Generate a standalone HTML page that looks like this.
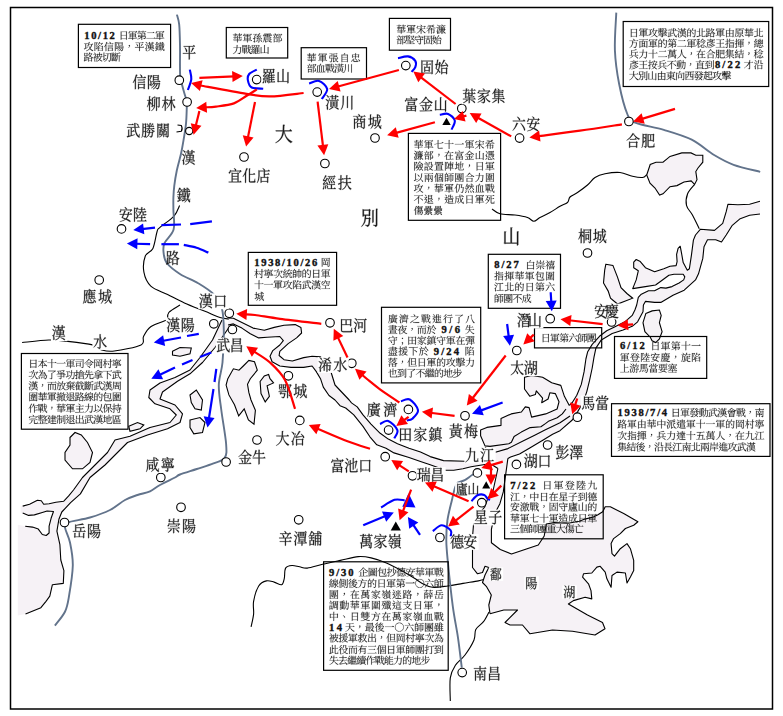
<!DOCTYPE html>
<html><head><meta charset="utf-8"><style>html,body{margin:0;padding:0;background:#fff;width:783px;height:716px;overflow:hidden}svg{display:block}</style></head>
<body><svg width="783" height="716" viewBox="0 0 783 716"><defs><path id="g0" d="M110 6l-2 2 12 14 8 18 6 2 4-4 2-6-4-9-9-9zM165 88l-8 11-81 0 2 6 98 0 5-3zM165 61l-8 11-81 0 2 6 98 0 5-3zM177 32l-10 12-105 0 2 6 125 0 5-3zM54 64l-8-3 19-42 7-4-21-7-20 57-25 46 3 2 5-5 21-27 0 111 13-5 0-119zM92 187l0-11 69 0 0 13 11-2 2-2 0-51 8-4-16-12-7 8-65 0-14-7 0 73zM161 132l0 38-69 0 0-38z"/><path id="g1" d="M99 50l56 0 0 20-56 0zM99 44l0-19 56 0 0 19zM87 19l0 67 11-2 1-8 56 0 0 7 13-3 0-54 7-4-14-10-6 7-54 0-14-6zM66 94l1 6 31 0-17 27-24 23 2 3 21-14 18-16 15 0-21 29-28 24 2 3 35-24 26-32 16 0-22 37-21 20-13 9 2 3 16-8 26-21 10-12 16-28 14 0-4 25-7 23-6 5-26-1 0 3 14 5 3 9 16-4 8-7 10-27 4-30 8-3-14-12-8 8-67 0 11-17 78-1 2-2-11-10-6-4-9 11zM16 21l0 171 2 0 11-5 0-160 27 0-17 47 12 22 2 26-6 8-14 0 0 3 8 3 2 9 8-1 11-6 3-5 2-15-5-22-18-22 26-44 9-2-16-15-8 8-24 0-15-7z"/><path id="g2" d="M128 41l-19-2 0 80-21 7 0-92 42-13-15-10-29 18-10-5 0 100-7 8 8 14 4-6 27-16-6 25-5 11-19 20-13 9 2 3 19-11 14-12 10-14 6-15 5-34 0-60zM60 44l-8 12-5 0 0-41 4-1 3-4-19-2 0 48-28 0 1 5 24 0-10 43-16 38 3 3 10-15 16-32 0 93 7 0 5-5 0-103 13 27 6 2 3-3 2-5-3-8-7-9-14-9 0-17 23 0 5-3zM136 20l0 172 2 0 10-5 0-155 24 0 0 99-3 4-15-1 0 3 11 4 3 9 12-4 4-8 0-104 9-4-16-12-7 8-20 0z"/><path id="g3" d="M132 9l0 46-39 0 2 5 31 0-21 54-22 31-12 13 2 3 13-11 22-23 24-42 0 106 2 0 10-5 0-120 16 52 16 30 10 11 3-8 8-8-11-10-19-26-14-30-5-17 40 0 5-3-16-14-10 12-23 0 0-38 8-6zM45 9l0 46-36 0 1 6 33 0-14 49-23 43 3 2 14-17 22-40 0 93 3 0 10-5 0-105 12 15 8 16 6 3 5-3 1-7-4-9-10-10-18-9 0-16 30 0 6-4-17-14-9 12-10 0 0-39 8-5z"/><path id="g4" d="M28 28l2 6 71 0 6-3-17-14-9 11zM142 16l-1 2 14 11 10 14 6 1 4-4 0-6-4-7-11-6zM115 9l2 50-108 0 2 6 107 0 8 47 15 40 11 16 13 13 15 9 8 1 4-4-5-12 3-30-3 0-10 25-16-14-17-31-6-18-7-42 55 0 5-3-18-15-9 12-33 0-1-42 7-6zM8 174l10 16 4-4 101-30-1-3-45 9 0-46 37 0 5-4-16-14-8 12-18 0 0-32 7-5-19-2 0 93-24 5 0-71 7-4-19-2 0 79z"/><path id="g5" d="M87 15l-3 1 13 30 5 3 4-2 2-6-2-7-7-10zM170 41l-8 10-17 0 24-26 7-3-19-8-17 37-12 0 7-35 8-4-21-3-6 42-39 0 2 6 35 0-8 22-32 0 2 6 27 0-15 21-19 17 2 3 25-18 17-23 28 0 17 23 25 15 10-13-26-9-21-16 43-1 1-2-16-14-9 11-48 0 9-22 58-1 2-2zM134 99l-21-2 0 26-29 0 2 6 26 0-7 23-6 11-18 18-13 8 2 3 16-8 23-19 7-11 9-25 29 0-2 23-6 22-6 2-20-1 0 3 14 4 2 9 14-3 7-6 5-14 4-38 8-3-15-12-7 8-27 0 2-19zM21 18l-2 122-6 34-6 16 3 2 13-23 7-26 3-26 24 0-1 55-4 2-20-2 0 4 14 5 4 9 7-1 9-5 3-8 0-149 8-3-16-12-6 8-19 0-15-7zM57 111l-24 0 0-41 24 0zM57 64l-24 0 0-38 24 0z"/><path id="g6" d="M123 71l0-3 42 0 0 104-5 2-28-2 0 3 19 5 5 10 14-4 7-6 1-9 0-142 9-4-17-12-7 8-39 0-13-6 0 60 8-2-11 14-11 8 5 12 3-3 18-4-16 14-8 4 5 11 3-3 38-8 3 9 4 2 3-1 0-10-15-14-3 1 6 9-30 3 33-26 8-2-13-9-13 15-19 1 19-16 7-2zM67 131l-17-2 0 21-7 4 14 10 5-7 19 0-11 15-26 12 2 3 29-11 14-13 3-8 1-20 6-5-17-2 0 23-21 0 0-15zM32 187l0-119 37 0-13 19-12 8 5 12 4-4 15-2-16 13-8 4 5 11 39-10 2 7 4 2 5-6-7-12-10-7-2 2 6 10-29 3 37-29 7-1-13-10-14 17-18 1 20-17 6-1 1-1-3-2 8-4 0-43 8-3-15-12-7 8-41 0-13-7 0 177 7 0zM124 130l-19-2 0 58 11-4 0-26 23 0 0 11 11-4 0-25 7-6-18-2 0 20-23 0 0-14zM70 68l6 0 0 4zM165 62l-42 0 0-15 42 0zM165 41l-42 0 0-14 42 0zM76 62l-44 0 0-15 44 0zM76 41l-44 0 0-14 44 0z"/><path id="g7" d="M39 42l-3 1 13 25 8 27 7 3 4-3 2-9-3-13-10-15zM150 42l-26 56 3 2 19-21 17-26 7-3zM19 24l2 5 72 0 0 82-85 0 2 6 83 0 0 75 8-1 6-4 0-70 79 0 6-3-19-15-11 12-55 0 0-82 74 0 2-3-19-15-10 13z"/><path id="g8" d="M126 160l-1 3 30 13 25 17 6-1 2-5-3-7-11-8-19-7zM19 135l-9 0 0 5 10 2 3 7 1 38 5 5 8-4 3-10-5-30 1-13 28-88-3-1-36 82-3 7zM9 56l-2 2 15 12 6 10 6 2 5-3 0-6-3-7-10-6zM21 11l-2 2 13 11 9 14 7 1 4-3 1-6-5-7-10-7zM175 20l-9 10-10 0 0-15 7-5-20-2 0 22-42 0 0-15 7-5-20-2 0 22-30 0 2 6 28 0 0 32 11-2 2-8 14 0 0 16-32 0-14-6 0 46 11-2 2-6 33 0-1 15-48 0 2 6 45 0-4 16-54 0 1 6 50 0-11 16-8 7-35 17 3 4 16-5 26-13 9-8 13-18 69 0 5-3-17-14-10 11-45 0 5-16 49 0 6-4-15-12 8-4 0-25 8-4-16-11-7 7-31 0 0-16 15 0 0 10 7-1 6-4 0-27 33 0 2-3zM143 52l-42 0 0-16 42 0zM115 100l-33 0 0-20 33 0zM128 100l0-20 33 0 0 20zM128 106l33 0 1 6-7 9-29 0z"/><path id="g9" d="M75 112l-17-5-6 42 3 1 3-5 10-29zM14 110l-3 1 6 19 2 20 5 2 4-2 2-6-1-10-5-11zM124 130l-7 8-6 0 0-18 25-3-13-12-49 17 1 4 24-3 0 15-24 0 2 6 22 0 0 17-28 4 8 15 4-4 55-18 0-3-27 4 0-15 22 0 5-3zM91 95l0-18 29 0 0 18zM91 106l0-5 29 0 0 4 10-2 1-25 7-3-13-10-6 6-27 0-13-5 0 43zM119 12l-19-2 0 22-24 0 1 6 23 0 0 16-30 0 2 6 70 0 3 45 7 38-18 25-24 21 2 3 17-11 26-27 14 26 9 8 9 2 4-4-4-11 3-30-2 0-7 21-3 4-8-12-7-17 13-28 8-29 8-3-20-5-12 50-6-66 33 0 6-3-17-14-8 11-14 0 0-37 7-6-20-2 1 45-30 0 0-16 22 0 5-3-14-13-8 10-5 0 0-15zM161 18l-3 2 12 21 6 2 3-2 1-8-3-5zM48 16l7-3-20-5-11 32-18 31 2 2 12-12 1 2 14 0 0 30-25 0 1 6 24 0 0 65-26 7 6 16 4-5 58-26-1-3-29 8 0-62 22 0 5-3-15-13-7 10-5 0 0-30 17 0 5-3-14-12-8 9-24 0 24-37 14 27 5 3 4-2 3-4-2-7-8-10z"/><path id="g10" d="M116 8l-15 40-22 30 3 2 5-4 23-24 17 28-26 25-32 19 2 3 24-11 0 76 11-3 1-11 50 0 0 13 7-1 6-3 0-60 7-4-14-11-7 8-46 0-12-5 35-27 22 19 28 14 4-7 7-3 0-3-30-11-24-16 16-20 11-22 9-2-14-14-9 9-31 0 6-14 8-3zM107 172l0-46 50 0 0 46zM153 37l-21 37-19-27 6-10zM64 28l0 42-34 0 0-42zM18 22l0 64 11-3 1-7 13 0 0 86-13 3 0-61 6-5-18-1 0 70-12 3 6 17 5-5 70-29 0-3-32 8 0-46 26 0 5-3-15-14-9 11-7 0 0-31 9 0 0 7 12-3 0-50 9-4-16-11-7 7-30 0-14-6z"/><path id="g11" d="M130 60l-3 1 9 23 5 3 4-2 3-4-2-7-5-7zM33 151l-4-1-4 17-13 15-1 3 3 6 8-1 8-10 4-13zM66 144l-3 1 8 16 4 17 5 2 4-2 2-6-2-8-6-10zM49 148l-3 1 2 17-1 19 4 3 5-2 3-6 1-8-3-12zM69 112l-3 1 7 17-43 4 29-22 23-21 8-2-16-12-14 19-31 1 32-29 7-3-18-8-18 27-16 13 6 13 3-2 30-6-23 22-16 10 6 15 4-3 48-11 2 10 5 2 4-2 2-5-1-8-6-10zM171 79l-8 9-53 0-2-1 9-17 7-3-18-7-13 31-16 25 3 2 15-15 0 89 11-3 2-10 80-1 2-2-15-14-8 11-21 0 0-23 31 0 5-3-14-12-7 9-15 0 0-22 31 0 5-4-14-11-7 9-15 0 0-22 34 0 5-3zM108 116l0-22 26 0 0 22zM108 122l26 0 0 22-26 0zM108 150l26 0 0 23-26 0zM38 61l0-5 123 0 0 7 7 0 6-4 0-34 9-4-16-12-8 7-119 0-14-6 0 55zM117 22l0 28-34 0 0-28zM129 22l32 0 0 28-32 0zM71 22l0 28-33 0 0-28z"/><path id="g12" d="M113 15l-21-2 0 153-56 0 0-104 8-6-21-2 0 111-7 4 16 10 6-7 125 0 0 20 8-1 6-4 0-126 7-6-21-2 0 113-57 0 0-145z"/><path id="g13" d="M19 136l-9 0 0 5 10 2 3 7 1 38 5 4 8-3 3-18-5-22 1-13 29-90-4-1-37 87zM9 59l-2 2 12 11 8 13 6 1 5-3 0-6-3-7-10-6zM17 11l-2 1 14 12 9 15 7 1 4-4 1-6-5-8-10-7zM134 159l-2 2 27 14 23 15 7-1 2-5-3-7-10-7-18-7zM119 166l-19-11-20 18-28 16 1 2 22-6 34-18zM178 59l-9 11-109 0 2 6 127 0 5-3zM117 97l0 19-30 0 0-19zM129 97l31 0 0 19-31 0zM117 143l-30 0 0-21 30 0zM129 143l0-21 31 0 0 21zM142 50l-36 0 0-16 36 0zM174 17l-9 11-11 0 0-12 8-6-20-2 0 20-36 0 0-12 7-6-20-2 0 20-29 0 1 6 28 0 0 30 11-2 2-6 36 0 0 8 2 0 10-4 0-26 31 0 5-3zM75 85l0 74 11-2 1-8 73 0 0 8 13-4 0-55 7-4-14-11-6 8-70 0z"/><path id="g14" d="M36 18l-2 107-8 34-18 30 3 3 14-14 10-16 11-36 3-39 0-61 7-6zM96 25l0 146 2 0 10-4 0-134 8-6zM159 18l0 174 2 0 11-6 0-161 7-5z"/><path id="g15" d="M85 7l-2 1 15 22 6 2 5-2 1-6-2-6-8-6zM63 38l-3 2 16 27-36 0-15-7 0 132 8-1 5-4 0-114 38 0-3 16-3 8-17 14-14 6 3 3 17-6 21-14 5-8 4-19 25 0 0 26 2 9 11 2 35-2 3-7-6-2-33 0-1-26 41 0-1 101-4 1-25-1 0 3 17 5 5 10 13-4 7-10 1-103 8-4-16-12-7 8-40 0 16-20 8-4-20-5 57 0 6-3-19-15-10 12-149 0 1 6 113 0-11 29-32 0 3-8-2-5-11-11zM124 158l-44 0 0-32 44 0zM80 175l0-12 44 0 0 13 12-4 0-45 7-3-14-11-7 7-41 0-13-6 0 65z"/><path id="g16" d="M172 70l-18 52-6-33-3-36 42 0 6-3-17-14-9 12-22 0 0-29 5-2-1 1 12 11 5 9 6 1 4-3 1-5-3-6-9-5-15-4 2-3-21-3 1 38-44 0-15-7 0 71-6 33-15 30-12 14 2 2 17-13 12-16 8-16 4-18 3-37 24 0-3 49-3 4-20-1 0 4 13 4 3 7 14-4 6-19 2-43 7-3-14-11-7 7-22 0 0-32 46 0 5 45 9 39-22 28-30 22 2 4 22-12 17-14 16-16 11 21 11 14 11 6 8-1 1-4-4-10 3-31-2 0-8 22-3 3-12-16-8-16 14-26 10-31 8-3zM7 142l9 17 4-6 51-30-1-3-25 9 0-58 22 0 5-3-15-14-8 11-4 0 0-45 7-5-20-2 0 52-24 0 2 6 22 0 0 63z"/><path id="g17" d="M91 9l-2 58-79 0 2 6 77 0-11 43-10 20-14 18-20 18-26 16 2 4 30-16 23-18 17-19 11-21 8-22 4-23 10 42 10 21 14 20 18 19 25 17 5-8 9-3 0-3-26-14-21-16-16-18-12-19-13-38 80 0 6-3-20-16-11 13-58 0 2-50 8-6z"/><path id="g18" d="M129 26l0 125 2 0 10-5 0-113 8-5zM169 12l-1 161-4 2-26-2 0 3 18 5 4 10 14-3 4-3 4-8 0-157 7-6zM34 28l56 0 0 44-56 0zM21 22l0 67 11-2 2-9 12 0-1 20-6 38-7 18-11 18-15 17 3 2 14-11 20-25 6-14 7-30 35 0-4 43-6 19-7 2-24-2 0 4 16 5 3 9 11-2 9-5 7-12 5-24 3-35 7-3-14-13-8 8-32 0 1-27 32 0 0 8 13-4 0-52 8-4-16-12-7 8-52 0-15-6z"/><path id="g19" d="M87 8l-2 2 12 14 4 12 6 2 5-3 2-6-2-7-9-8zM34 29l-4 1-4 17-16 18 0 4 7 5 8-3 7-7 5-18 131 0-8 21 2 1 22-20 8-2-16-15-9 9-131 0zM174 165l-10 13-15 0 0-102 9-3-18-13-7 9-66 0-15-7 0 116-43 0 1 6 177 0 5-3zM64 178l0-31 72 0 0 31zM64 141l0-31 72 0 0 31zM64 105l0-30 72 0 0 30z"/><path id="g20" d="M61 65l-9-3 21-43 8-3-22-8-23 59-29 47 3 2 5-5 26-31 0 111 8-1 5-3 0-118zM116 15l-20-3 0 156 2 11 7 5 14 2 54-1 14-3 3-5-6-6-1-33-2 0-10 34-50 1-6 0-6-4 0-83 71 0 5-3-17-15-10 12-49 0 0-60z"/><path id="g21" d="M89 8l-2 1 12 13 9 15 6 2 5-3 1-6-4-8-10-8zM174 27l-9 13-120 0-15-7 0 73-4 35-10 34-9 15 3 2 13-15 9-18 6-18 5-36 0-59 144 0 5-4zM60 114l0 77 12-4 0-12 82 0 0 15 8-1 5-3 0-59 8-4-15-11-6 8-35 0 0-34 61 0 6-4-18-15-10 13-39 0 0-24 8-6-21-2 0 72-32 0zM72 169l0-43 82 0 0 43z"/><path id="g22" d="M182 42l-17-6-22 35 16 18 8 17 6 2 4-3 2-6-4-8-9-10-17-11 27-26zM149 41l-17-6-21 36 15 19 7 18 6 1 4-2 2-6-3-9-9-10-16-11 26-28zM118 40l-18-6-20 38 14 19 7 19 6 2 4-3 2-6-3-9-8-11-17-12 27-29zM172 10l-9 12-84 0 2 6 103 0 5-3zM26 136l-4 0-3 21-10 20-1 4 4 5 10-5 5-10 1-16zM61 129l-3 1 9 16 4 19 6 2 4-3 1-6-2-9-6-10zM43 133l-3 1 3 20-2 21 5 3 5-2 3-7 1-10-3-12zM60 88l-3 1 9 21-43 3 29-29 22-30 8-1-17-13-15 27-28 0 18-23 16-23 7-3-19-9-18 39-11 16-5 2 7 17 4-4 25-5-25 32-11 7 7 17 4-4 46-12 2 13 5 3 4-3 2-6-1-10-7-11zM177 162l-9 12-30 0 0-47 44-1 2-2-16-13-8 10-74 0 2 6 36 0 0 47-51 0 2 6 114 0 6-3z"/><path id="g23" d="M122 9l0 41-38 0 2 6 36 0-1 42-47 0 1 6 46 0-8 34-9 14-11 14-16 12-20 10 2 3 23-9 18-12 14-14 9-15 11-34 7 31 15 29 11 13 15 11 4-9 9-3 0-2-31-21-10-12-8-13-9-27 50 0 6-3-18-15-9 12-31 0 0-42 47 0 6-3-18-15-9 12-26 0 0-33 7-6zM5 113l8 17 4-5 22-12-1 61-25 0 0 3 15 5 4 9 13-3 5-6 2-76 30-18-1-3-29 12 0-37 28 0 5-3-15-14-9 11-9 0 0-38 7-5-20-3 0 46-31 0 2 6 29 0 0 42z"/><path id="g24" d="M93 34l0 29-48 0 2 6 46 0 0 30-19 0-13-6 0 67 12-4 0-9 52 0 0 11 13-4 0-48 7-3-15-11-6 7-19 0 0-30 47 0 6-3-17-14-8 11-28 0 0-21 8-6zM125 141l-52 0 0-36 52 0zM20 21l0 170 12-3 1-10 133 0 0 11 11-3 2-2 0-155 9-4-16-12-8 8-129 0-15-7zM166 172l-133 0 0-145 133 0z"/><path id="g25" d="M148 43l-2 2 23 30-74 4 26-29 21-30 7-3-21-8-25 48-16 20-5 2 8 17 4-4 78-13 5 15 7 2 4-4 1-9-6-13-13-13zM6 62l6 16 5-4 7-1-11 44 32 26-16 26-22 22 2 2 25-19 18-24 16 20 5 2 4-2 2-5-2-7-19-20 12-36 6-39 14-4-1-3-13 1 1-11 7-5-21-4 0 21-24 2 8-44 8-5-20-4-9 54zM106 168l0-51 57 0 0 51zM94 104l0 87 12-4 0-13 57 0 0 15 13-4 0-67 8-4-15-11-6 8-55 0zM62 66l-4 34-8 32-26-14 12-47z"/><path id="g26" d="M73 159l9-2-17-11-22 22-31 18 1 3 24-8zM121 149l-1 2 29 16 25 20 6-1 3-5-3-7-11-10-19-8zM173 56l-9 11-18 0 0-10 7-6-20-2 0 18-34 0 0-11 8-6-20-2 0 19-31 0 0-11 8-5-20-3 0 19-33 0 2 6 31 0 0 37-8 5 16 9 6-7 113 0 5-3-16-14-9 11-95 0 0-38 31 0 0 32 11-3 1-8 34 0 0 8 3 0 10-4 0-25 41-1 2-3zM177 16l-8 11-24 0 0-12 6-5-19-2 0 19-27 0 1 6 26 0 0 14 2 0 11-4 0-10 45-1 2-2zM84 16l-8 11-11 0 0-12 7-5-20-2 0 19-44 0 1 6 43 0 0 14 3 0 10-4 0-10 32-1 2-2zM174 124l-10 12-58 0 0-10 7-5-20-2 0 17-84 0 1 6 83 0 0 49 2 0 11-4 0-45 84-1 2-2zM99 89l0-16 34 0 0 16z"/><path id="g27" d="M86 8l-2 1 12 13 4 10 6 1 5-3 1-5-3-7-8-6zM33 25l-4 0-1 12-5 10-13 13 0 4 6 3 8-2 7-7 4-18 133 0-6 20 3 2 18-19 8-2-16-15-8 9-132 0zM149 52l-9 11-103 0 2 6 46 0-30 22-36 18 1 4 31-11 29-14 7 9-32 26-39 21 1 3 42-17 35-21 5 11-24 24-30 20-33 15 1 4 49-19 41-27 0 23-6 15-5 2-28-2 1 3 16 5 5 9 19-5 8-9 4-21-3-26-5-14 11-4 14 28 20 22 26 16 5-8 7-3 0-2-28-12-12-9-20-21-8-12 44-21 8-1-16-12-24 18-29 18-10-15-14-14 22-16 59-1 1-2z"/><path id="g28" d="M73 157l9-3-17-11-23 21-31 19 1 3 24-8zM122 146l-2 3 31 16 26 20 6-1 3-5-4-7-11-9-20-9zM172 120l-10 12-56 0 0-9 8-5-21-2 0 16-81 0 2 6 79 0 0 54 3 0 10-4 0-50 82-1 2-2zM159 23l-9 12-39 0 3-7-1-5-12-11-11-5-2 2 16 26-48 0 9-16 8-4-19-8-19 38-22 30 3 2 25-24 0 70 12-2 1-9 124-1 1-2-17-14-9 11-41 0 0-18 52 0 6-3-16-14-9 11-33 0 0-18 56-1 2-2-16-13-8 10-34 0 0-17 63-1 1-2zM54 82l0-18 45 0 0 18zM54 88l45 0 0 18-45 0zM54 58l0-17 45 0 0 17z"/><path id="g29" d="M86 5l-2 2 11 12 5 10 6 1 4-2 2-6-3-7-8-6zM144 42l-9 10-94 0 2 6 112 0 5-3zM33 22l-4 1-1 12-5 9-13 13 0 4 6 4 8-3 7-6 4-18 133 0-6 21 3 2 18-21 8-2-16-15-8 9-132 0zM46 187l0-7 107 0 0 11 11-3 2-1 0-57 9-4-16-13-8 8-104 0-14-6 0 76zM93 127l0 20-47 0 0-20zM106 127l47 0 0 20-47 0zM93 174l-47 0 0-21 47 0zM106 174l0-21 47 0 0 21zM63 111l0-6 74 0 0 8 6 0 7-4 0-28 7-4-15-11-7 7-71 0-14-6 0 48zM137 79l0 20-74 0 0-20z"/><path id="g30" d="M46 127l-3 1 11 20 5 21 6 2 5-2 2-8-2-10-9-12zM141 126l-21 46 3 1 30-36 8-3zM104 19l8 14 24 26 14 11 31 20 5-7 7-4 1-3-34-16-30-20-23-24 8-3-23-6-8 15-27 32-34 29-17 11 1 2 19-9 36-25 30-29zM11 180l2 6 174-1 2-3-19-15-10 13-54 0 0-61 70 0 5-3-18-15-10 12-47 0 0-32 37 0 5-3-17-13-9 10-73 0 2 6 41 0 0 32-71 0 1 6 70 0 0 61z"/><path id="g31" d="M125 89l-3 1 22 29 20 32 13 31 7 2 4-7-2-14-10-20-19-25zM89 95l-22-8-25 53-33 45 2 2 28-26 24-32 18-32zM75 10l-2 1 23 27 7 15 7 2 5-4 1-9-6-10-13-12zM170 46l-11 15-148 0 2 6 172 0 6-3z"/><path id="g32" d="M85 7l-2 2 11 12 7 15 7 3 5-3 1-6-3-8-9-8zM171 82l-9 12-19 0 2-15 8-4-22-5-3 24-50 0 14-30 8-3-21-8-16 41-51 0 1 6 47 0-20 41 50 17-32 17-44 13 1 3 50-12 36-17 53 28 8 2 5-3 0-5-7-9-18-10-30-12 19-24 10-29 47-1 1-2zM99 150l-44-11 20-39 51 0-9 27zM30 30l-4 0 0 12-4 11-12 14 1 4 6 3 8-3 5-7 3-18 133 0-6 22 2 2 20-21 8-2-16-16-9 9-133 0z"/><path id="g33" d="M53 80l1 6 89 0 6-3-18-14-9 11zM104 19l8 14 24 27 14 11 31 20 5-7 7-4 1-3-34-16-30-21-23-24 8-3-23-6-8 15-26 33-34 29-17 11 1 3 19-10 36-25 30-29zM144 123l0 48-88 0 0-48zM43 117l0 74 13-4 0-10 88 0 0 13 13-4 0-60 9-4-17-13-7 8-85 0-14-6z"/><path id="g34" d="M63 77l0 20-29 15 1-50 24 14zM63 65l-13-6-15-2 0-30 28 0zM22 19l-2 119-7 35-6 16 4 2 12-22 7-25 4-26 5 9 3-5 21-19 0 69-4 1-21-1 0 3 15 5 4 9 7-1 9-5 3-7 0-148 8-3-16-12-6 8-25 0-15-7zM105 97l0-68 26 0 0 68zM92 17l0 151 3 10 7 5 15 2 59-1 14-3 4-5-6-6-1-33-3 0-9 34-63 2-5-2-2-6 0-62 63 0 0 12 13-4 0-80 8-3-16-12-7 8-59 0zM142 97l0-68 26 0 0 68z"/><path id="g35" d="M161 23l-9 11-20 0 0-17 7-5-20-2 0 24-40 0 1 6 39 0 0 26-53 0 2 6 33 0-9 27-13 14-9 7 2 3 21-12 8-8 7-9 8-22 22 0 1 31 6 6 31 0 15-4 0-5-5-2-31 1-4-3 0-24 35 0 5-3-17-15-9 12-33 0 0-26 41 0 5-3zM166 126l-10 12-24 0 0-23 8-5-21-2 0 30-43 0 2 6 41 0 0 35-59 0 2 6 131-1 2-3-18-14-9 12-36 0 0-35 45 0 6-4zM17 14l0 177 2 0 10-4 0-161 25 0-16 52 15 22 4 15 0 13-5 9-19 1 0 3 10 3 2 10 15-3 5-4 3-6 3-15-7-25-21-24 26-48 9-2-16-15-8 8-23 0z"/><path id="g36" d="M91 141l-19-2 1 40 5 5 58 2 20-2 7-3 0-5-5-3-1-20-2 0-8 21-61 0-1-28zM56 140l-4 0-2 13-6 10-11 10-2 3 3 6 11-3 7-7 5-14zM158 138l-2 2 14 17 9 19 7 2 4-3 1-8-4-9-11-10zM106 133l-2 2 11 13 6 15 5 2 4-2 1-6-2-8-8-8zM169 47l-8 9-21 0 1-6-1-3-9-8-9-3-2 2 11 18-28 0-1-1 5-10 7-3-17-6-12 28-14 22 3 2 15-15 0 61 11-3 1-5 84-1 2-2-14-12-8 9-25 0 0-16 33 0 5-3-13-11-7 8-18 0 0-15 33 0 5-3-13-11-8 8-17 0 0-15 41-1 2-2zM172 16l-9 12-46 0 0-7-3-4-12-7-11-2-2 2 16 18-64 0-15-7-1 88-2 34-8 32-7 15 3 2 11-14 7-16 8-34 1-34 17-16 0 57 12-4 0-63 6-3-7-3 9-17 7-3-17-7-12 31-15 24 0-56 147 0 5-3zM101 98l0-15 28 0 0 15zM101 104l28 0 0 16-28 0zM101 77l0-15 28 0 0 15z"/><path id="g37" d="M168 45l-18 24-22 24-13-28-9-34 0-15 8-5-21-2 0 164-5 2-28-2 0 4 19 5 5 10 15-4 6-7 1-134 8 30 10 26 12 22 13 18 32 29 5-8 8-3 0-2-34-25-30-37 49-39 7-2zM10 65l2 6 51 0-12 37-8 18-23 32-14 13 2 3 19-14 15-15 22-35 13-37 8-3-15-13-8 8z"/><path id="g38" d="M156 154l-111 0 0-109 111 0zM45 179l0-19 111 0 0 21 13-4 0-129 11-4-19-15-8 10-107 0-14-7 0 152 8-1z"/><path id="g39" d="M145 56l0 23-86 0 0-23zM145 50l-86 0 0-23 86 0zM45 22l0 74 12-3 2-8 86 0 0 9 14-5 0-59 8-4-16-13-8 9-83 0-15-7zM160 144l0 26-118 0 0-26zM160 138l-118 0 0-25 118 0zM29 107l0 84 7 0 6-4 0-11 118 0 0 14 14-4 0-70 8-5-16-12-8 8-114 0-15-7z"/><path id="g40" d="M91 34l0 56-52 0 0-56zM26 28l0 134 4 14 12 7 20 2 99 0 20-3 9-5 0-5-9-4 0-37-3 0-9 35-10 6-106 1-10-3-4-7 0-68 118 0 0 15 11-2 2-2 0-70 9-4-16-12-8 8-114 0-15-7zM104 34l53 0 0 56-53 0z"/><path id="g41" d="M23 12l-2 1 13 12 10 15 6 1 5-4 0-6-4-8-11-7zM9 55l-2 2 14 11 8 13 7 1 4-3 1-6-5-7-10-6zM20 135l-9 0 0 5 9 3 4 6 0 38 6 4 7-3 4-10-5-35 0-8 31-89-4-1-35 79-6 11zM61 26l2 6 95 0 0 141-5 2-28-2 0 3 19 6 5 10 14-4 7-7 1-10 0-139 17 0 5-3-18-15-9 12zM85 71l35 0 0 46-35 0zM73 65l0 81 12-4 0-19 35 0 0 14 13-3 0-62 7-3-15-11-7 7-30 0-15-6z"/><path id="g42" d="M21 12l-1 2 14 11 10 15 6 1 5-4 0-6-5-8-10-7zM10 59l-1 2 13 10 9 13 6 2 4-4 1-6-4-7-10-6zM20 136l-9 0 0 4 10 3 4 7 0 37 5 5 8-4 3-10-5-34 1-8 31-89-4-1-37 82-4 7zM103 53l-8 24-36 0 2 6 32 0-21 37-25 27 3 2 6-3 25-23 0 55 8-1 5-3 0-56 27 0 0 73 7 0 6-4 0-69 29 0-1 43-18 0 0 3 12 4 2 10 12-4 5-6 1-48 8-4-17-12-6 8-27 0 0-15 7-6-20-2 0 23-25 0-5-2 16-27 80 0 5-3-17-14-10 11-56 0 6-14 8-4zM159 7l-26 22-53-11-1 3 42 15-25 12-27 10 1 4 33-9 30-12 31 20 5 0 3-2 1-5-4-6-23-14 21-15 8-1z"/><path id="g43" d="M94 75l-9 10-64 0 1 6 84 0 5-3zM107 98l-9 11-90 0 2 6 28 0-5 16-9 4 13 11 7-6 44 0-4 24-5 11-7 2-24-2 0 4 16 4 3 9 15-3 7-6 9-21 3-21 8-3-15-12-7 8-42 0 6-19 71-1 2-2zM130 16l0 176 2 0 11-5 0-157 28 0-18 55 18 25 5 16 0 13-3 8-5 3-21 0 0 3 11 3 3 10 10-1 12-7 4-5 3-17-3-17-5-8-14-18-11-8 28-52 9-2-15-15-8 8-26 0zM101 56l-19 0 0-28 19 0zM82 72l0-10 19 0 0 10 11-4 0-39 7-4-13-10-6 7-18 0-11-6 0 59zM28 72l0-10 19 0 0 11 11-4 0-40 7-4-13-10-6 7-17 0-12-6 0 59zM47 28l0 28-19 0 0-28z"/><path id="g44" d="M14 17l-2 2 17 16 11 18 7 1 4-3 1-8-5-9-12-9zM19 134l-8 0 0 4 9 3 4 6 0 37 5 4 8-4 3-9-4-29 0-13 35-95-3-1-42 89-4 7zM146 43l-2 2 26 29-92 5 30-29 24-29 8-4-21-9-30 49-19 20-6 2 9 17 3-4 96-14 7 18 8 2 4-5 0-10-6-12-14-14zM90 168l0-51 72 0 0 51zM77 105l0 86 13-4 0-13 72 0 0 15 13-4 0-67 8-4-15-11-7 8-69 0z"/><path id="g45" d="M49 15l-14 46-20 36 2 2 12-11 19-28 45 0 0 49-85 0 2 6 83 0 0 77 8-1 6-5 0-71 80 0 5-3-19-16-10 13-56 0 0-49 63 0 6-3-19-15-10 12-40 0 0-38 7-5-21-2 0 45-42 0 12-28 8-4z"/><path id="g46" d="M176 80l-9 12-125 0 1 6 145 0 5-3zM106 173l-17-12-25 15-33 12 2 3 11-1 52-16zM122 164l-1 3 31 10 20 11 8 2 5-2 1-6-9-7-20-6zM135 74l-45 0 0-14 45 0zM167 43l-9 11-11 0 0-8 6-5-18-2 0 15-45 0 0-8 6-5-18-2 0 15-31 0 2 6 29 0 0 27 10-2 2-5 45 0 0 6 2 0 10-3 0-23 31 0 5-3zM107 115l0 15-34 0 0-15zM120 115l35 0 0 15-35 0zM107 152l-34 0 0-16 34 0zM120 152l0-16 35 0 0 16zM73 164l0-6 82 0 0 7 11-2 2-2 0-45 7-3-15-11-7 7-79 0-14-6 0 65zM174 18l-9 12-49 0 3-7-6-9-21-7-2 2 18 21-67 0-16-6 0 79-2 36-9 34-7 16 3 2 11-16 13-36 4-37 0-66 149 0 5-3z"/><path id="g47" d="M107 6l-2 1 9 12 3 9 6 2 4-2 2-5-2-6-7-7zM95 39l-3 1 10 12 4 8 5 1 3-2-1-9-6-6zM19 135l-8 0 0 4 9 3 3 7 1 38 5 4 4-1 6-7 1-13-5-27 0-9 24-94-3-1-32 92zM9 56l-2 2 13 10 8 13 7 1 4-3 1-6-4-7-10-6zM21 10l-1 2 13 11 9 14 7 1 4-3 1-6-5-7-10-7zM187 54l-12-11-22 12-14-2 0 40-5 6 6 13 26-21-1-2-16 5 0-33 13-2 7 30 13 21 5-8 4-1-15-19-10-24zM87 57l-32 0 2 6 10 0-4 24-15 26 3 3 9-8 11-18 6-27 12 0-1 24-4 6-13 0-1 3 8 3 2 7 9-2 6-4 3-9 1-27 8-3-14-11zM174 20l-9 11-107 0 2 6 73 0-12 27-9-1 0 51 2 0 9-4 0-40 6-5-5-1 17-17 7-3-15-7 56-1 2-2zM84 152l2-21 66 0 0 21zM172 110l-20-2 0 17-66 0 0-9 6-5-19-2-1 38-4 18-11 17-9 8 2 2 17-10 10-11 6-13 69 0 0 33 11-2 1-73z"/><path id="g48" d="M93 36l0 60-54 0 0-60zM106 36l56 0 0 60-56 0zM93 102l0 63-54 0 0-63zM106 102l56 0 0 63-56 0zM26 30l0 158 12-3 1-14 123 0 0 16 14-5 0-143 8-4-16-13-8 8-120 0-14-7z"/><path id="g49" d="M130 160l-19-9-18 20-23 18 2 2 9-4 40-25zM143 154l-2 3 21 16 13 15 6 4 5-3 1-5-5-9-14-10zM89 117l-19-5-9 41 3 2 18-34zM18 114l-2 1 6 19 2 21 5 2 4-2 3-6-1-10-6-12zM174 18l-9 11-26 0 2-13 6-6-19-2-1 21-42 0 1 6 40 0-1 16-14 0-14-6 0 99-17 0 2 6 112-1 1-3-13-12-8 10-2 0 0-85 9-4-17-12-7 8-21 0 2-16 50-1 1-3zM109 144l0-17 50 0 0 17zM109 121l0-18 50 0 0 18zM109 97l0-17 50 0 0 17zM109 75l0-18 50 0 0 18zM55 17l7-3-20-5-14 33-20 32 3 2 12-12 1 3 19 0 0 29-31 0 2 6 29 0 0 64-33 5 7 17 4-4 68-24-1-3-33 6 0-61 29 0 5-3-16-14-8 11-10 0 0-29 24 0 5-4-15-12-8 10-34 0 26-40 14 17 8 15 5 2 5-2 2-6-3-8-10-10z"/><path id="g50" d="M174 61l-10 12-154 0 2 6 175 0 5-3zM91 168l-18-12-27 18-36 15 1 3 26-5 44-17zM116 159l-1 4 34 13 22 14 7 2 6-3 0-7-9-8-22-8zM125 54l-50 0 0-18 50 0zM169 18l-10 12-21 0 0-14 8-6-21-2 0 22-50 0 0-14 7-6-20-2 0 22-46 0 2 6 44 0 0 33 11-2 2-7 50 0 0 8 3 0 10-4 0-28 47-1 1-3zM94 119l-44 0 0-20 44 0zM94 125l0 21-44 0 0-21zM107 119l0-20 44 0 0 20zM107 125l44 0 0 21-44 0zM50 158l0-6 101 0 0 8 11-2 2-2 0-54 9-4-17-13-7 8-97 0-15-6 0 76z"/><path id="g51" d="M117 117l-3 2 10 12 7 15 5 1 4-2 1-5-3-7-7-8zM120 73l-2 2 11 14 5 11 5 1 4-2 1-5-3-6-8-8zM175 24l-9 12-58 0 9-20 7-2-21-6-12 38-19 32 3 2 19-21-4 48-16 0 1 6 14 0-5 39-8 3 14 11 7-7 59 0-3 12-5 5-26-1-1 3 16 5 3 9 12-2 9-6 8-25 18 0 5-3-15-13-8 10 3-40 18 0 5-3-14-14-8 11 1-37 8-3-15-13-7 8-50 0-13-7 8-13 85-1 2-3zM157 153l-61 0 5-40 59 0zM161 107l-59 0 4-39 56 0zM66 44l-8 11-7 0 0-40 4-1 3-4-19-2 0 47-31 0 2 6 26 0-12 44-18 39 3 3 12-15 18-35 0 95 7-1 5-4 0-106 13 24 5 1 4-2 1-5-2-7-7-8-14-8 0-15 25 0 6-3z"/><path id="g52" d="M20 135l-9 0 0 5 10 2 3 7 1 38 5 5 8-4 3-18-5-27 1-8 30-90-4-1-34 79-6 12zM10 56l-2 1 12 11 9 13 6 1 4-3 1-6-4-7-10-6zM24 10l-2 2 13 12 10 14 6 1 4-3 1-7-4-7-11-7zM141 10l-20-2 0 57-30 12 0-34 7-6-20-2 0 48-22 9 4 5 18-8 1 85 5 8 5 2 83 0 20-5 0-5-7-4 0-29-3 0-6 26-3 5-67 1-7 0-7-4-1-85 30-13 0 82 7-1 5-4 0-82 32-14-13 85 3 1 15-41 9-42 8-3-14-14-8 8-32 13 0-44z"/><path id="g53" d="M18 57l2 6 52 0-7 46-8 22-11 20-16 19-22 18 3 3 25-17 20-20 13-21 9-22 8-48 44 0 0 106 2 9 8 4 23 1 25-2 6-3 0-5-5-3 0-30-3 0-8 31-28 0-7-1 0-105 8-3-16-13-7 8-42 0 1-40 7-6-22-2 0 48z"/><path id="g54" d="M24 12l-2 2 15 12 10 14 6 2 5-4 0-6-5-8-11-7zM8 55l-2 2 13 11 10 13 6 1 4-3 1-6-4-7-11-7zM20 135l-9 0 0 4 10 3 4 7 0 37 6 5 8-4 3-10-5-29 1-13 35-89-4-1-42 82zM54 170l1 6 139-1 2-2-18-15-9 12-39 0 0-134 53 0 5-3-17-15-10 12-96 0 2 6 49 0 0 134z"/><path id="g55" d="M188 21l-20-2 0 38-32 0 0-41 6-5-18-2 0 48-32 0 0-31 8-4-20-2 0 37-5 3 14 10 4-7 75 0 0 8 8-1-8 10-96 0 2 6 47 0-8 22-22 0-14-6 0 89 12-4 0-73 21 0 0 69 10-4 0-65 20 0 0 64 10-3 0-61 20 0-1 61-15 0 0 3 10 4 2 10 7-2 8-6 1-68 8-4-16-11-6 7-48 0 16-22 55-1 2-2-16-13 3-3 0-40zM58 17l-9 11-41 0 2 6 23 0 0 50-23 0 1 6 22 0 0 58-26 8 9 16 4-5 55-30-1-2-28 9 0-54 21 0 5-3-14-14-8 11-4 0 0-50 23 0 5-3z"/><path id="g56" d="M92 6l-2 2 15 19 6 1 5-3 1-5-3-5-8-6zM146 66l-7 9-25 1 0-4 6-5-17-2 0 12-36 2 2 5 34-1 2 12 7 3 51-1 6-5-6-4-48 0-1-6 44-3 1-3zM180 171l-9 11 0-21 9-4-17-12 3-2 0-31 6-3-13-10-7 6-64 0-12-5 0 49 9-2 2-3 67 0 0 3 9-2-7 8-73 0-14-6 0 35-18 0 1 6 137 0 4-4zM129 159l0 23-19 0 0-23zM140 159l19 0 0 23-19 0zM99 159l0 23-18 0 0-23zM154 111l0 10-28 0 0-10zM154 138l-28 0 0-11 28 0zM115 111l0 10-28 0 0-10zM87 138l0-11 28 0 0 11zM53 57l-1 52-3 33-11 31-8 15 3 2 12-15 15-33 4-34 0-43 103 0-4 11 3 1 15-11 8-1-14-14-8 8-52 0 0-8 56-1 2-2-14-12-7 9-37 0 0-4 6-4-18-2 0 24-36 0-14-7zM174 16l-10 12-123 0-14-6 0 80-4 37-10 35-8 16 3 2 12-16 9-18 5-19 5-38 0-67 147 0 6-3z"/><path id="g57" d="M148 54l0 23-93 0 0-23zM148 48l-93 0 0-22 93 0zM42 21l0 72 11-3 2-8 93 0 0 9 13-4 0-58 8-4-16-13-7 9-90 0-14-7zM56 88l-17 33-21 25 2 3 12-8 22-22 41 0 0 26-58 0 2 5 56 0 0 31-86 0 1 5 176 0 6-3-18-15-10 13-55 0 0-31 59 0 5-3-17-14-9 12-38 0 0-26 67-1 2-2-17-15-10 12-42 0 0-17 7-6-21-2 0 25-37 0 9-14 8-3z"/><path id="g58" d="M29 25l2 6 114 0-40 33-11-1 0 33-85 0 2 6 83 0 0 71-6 2-35-2 0 3 23 6 6 10 17-4 7-7 2-79 78 0 6-3-20-16-11 13-53 0 0-26 7-5-4 0 54-32 9-2-16-15-10 9z"/><path id="g59" d="M175 106l-9 11-104 0 1 6 124 0 5-3zM77 136l-3 0-5 17-12 15 0 7 3 2 11-3 5-8 2-13zM161 134l-3 2 14 18 8 20 6 2 5-3 1-8-4-10-10-10zM116 126l-2 1 11 15 5 17 6 2 4-2 2-7-3-8-8-10zM108 134l-17-2 1 50 9 3 42 1 17-2 6-3 0-5-5-3 0-21-3 0-7 22-48 0-1-36zM67 18l-18-9-18 28-24 27 3 2 9-6 19-16 21-24zM175 19l-9 12-34 0 1-14 8-3-20-6-3 23-57 0 2 6 54 0-3 19-27 0-14-6 0 59 11-2 1-6 80 0 0 6 11-2 1-42 7-3-13-11-6 7-37 0 3-19 60-1 2-2zM135 95l-19 0 0-33 19 0zM146 95l0-33 19 0 0 33zM105 95l-20 0 0-33 20 0zM53 86l-7-3 14-23 8-2-20-9-17 37-25 37 3 2 4-4 21-22 0 93 8-1 5-4 0-97z"/><path id="g60" d="M176 16l-9 11-21 0 0-12 6-5-19-2 0 19-28 0 1 6 27 0 0 16 2 0 11-4 0-12 43-1 2-2zM85 16l-8 11-13 0 0-12 6-4-20-2 0 18-41 0 2 6 39 0 0 17 3 0 11-4 0-13 35-1 2-2zM53 110l0-6 40 0 0 16-52 0-15-6 0 6-14 0 1 6 13 0 0 65 8-1 5-3 0-61 54 0 0 25-46 3 6 16 5-4 79-14 7 15 6 2 4-3 0-7-3-8-10-10-17-9-2 2 13 14-30 2 0-24 58 0-1 47-4 2-25-1 0 3 17 4 5 10 14-4 5-6 2-52 8-4-17-13-6 8-56 0 0-16 41 0 0 8 13-4 0-47 8-4-16-12-7 8-90 0-14-7 0 69zM93 59l0 16-40 0 0-16zM105 59l41 0 0 16-41 0zM93 98l-40 0 0-17 40 0zM105 98l0-17 41 0 0 17z"/><path id="g61" d="M65 91l-7 10-32 0 2 6 51-1 1-3zM143 163l-1 4 22 10 13 11 6 3 5-3 1-5-5-7-15-7zM136 170l-16-9-18 15-26 12 1 3 10-2 19-6 22-11zM114 11l-21-3 0 33-53 0 0-18 8-5-20-3 0 24-8 5 17 10 5-7 117 0 0 5 8 0 6-3 0-26 7-6-21-2 0 26-53 0 0-25zM25 145l-2 1 19 20 14 22 5 2 5-6-1-7-11-16 28-31 8-1-14-15-9 9-52 0 1 5 51 0-17 30zM111 160l0-4 52 0 0 8 13-4 0-67 8-4-16-11-7 7-28 0 10-16 46-1 1-2-16-14-8 11-80 0 2 6 41 0-3 16-14 0-13-6 0 86zM57 61l8-4-19-5-17 28-23 26 2 2 18-12 28-30 28 30 5 2 4-3 0-5-4-8-11-9-20-10zM163 150l-52 0 0-16 52 0zM163 128l-52 0 0-16 52 0zM163 106l-52 0 0-15 52 0z"/><path id="g62" d="M9 56l-2 2 14 13 5 10 7 1 4-3 1-5-4-7-9-7zM21 9l-2 2 12 11 9 14 7 1 4-3 0-6-3-7-10-7zM17 134l-8 0 0 5 10 3 3 7 0 38 5 4 4-1 6-7 1-13-5-36 22-88-4-1-28 81-3 8zM130 20l-2 115-9 30-9 13-11 12 3 2 15-12 11-13 7-16 6-33 0-52 21 16 5 1 3-3 0-5-4-5-9-6-16-3 0-33 30 0 0 74-30 17 9 13 21-24 0 66-25-1 0 4 15 4 4 10 7-2 9-4 3-8 0-147 8-4-16-12-7 8-25 0-14-6zM112 45l-8 12-10 0 0-40 7-5-19-2 0 47-27 0 1 6 26 0 0 40-9 0-13-6 0 82 12-4 0-17 31 0 0 11 12-4 0-54 7-3-12-12-6 7-10 0 0-40 28 0 6-4zM103 109l0 43-31 0 0-43z"/><path id="g63" d="M193 130l-19-11-12 16-27 26-16 11-34 16 2 4 37-14 17-9 31-23 13-15zM188 72l-19-10-28 36-34 28 2 3 39-24 32-31zM181 20l-18-10-24 34-29 28 2 3 34-24 28-29zM34 130l-2 2 6 17 2 12 6 3 4-2 2-5 0-8-6-9zM97 133l-19-4-11 36-58 9 8 18 5-5 94-27 0-4-43 8 17-26zM90 115l-57 0 0-26 57 0zM21 77l0 53 11-3 1-6 57 0 0 6 12-4 0-31 9-4-16-12-7 7-52 0zM103 20l-9 12-26 0 0-16 7-5-20-3 0 24-45 0 1 6 44 0 0 22-38 0 2 6 91-1 2-3-17-13-9 11-18 0 0-22 50-1 2-3z"/><path id="g64" d="M88 107l-2 2 13 18 5 2 4-2 2-5-3-5-6-6zM19 135l-9 0 0 5 10 2 3 7 0 38 6 5 4-1 6-8 1-13-5-22 1-13 29-91-4-1-34 80-6 12zM10 56l-2 1 13 11 8 13 7 1 4-3 1-6-4-7-10-6zM23 11l-2 2 13 11 10 14 7 2 4-4 1-6-5-7-10-7zM166 25l0 28-21 0 0-28zM80 63l0-4 86 0 0 6 6-1 6-3 0-34 8-3-16-12-6 7-83 0-13-5 0 53zM101 25l0 28-21 0 0-28zM113 25l20 0 0 28-20 0zM177 143l-9 11-41 0 0-19 50 0 5-3-16-14-9 11-19 0 14-12 8-3-17-8-12 23-68 0 2 6 49 0 0 19-64 0 2 6 62 0 0 33 2 0 11-4 0-29 65-1 1-2zM133 62l-18-2 0 17-46 0 1 6 45 0 0 17-61 0 2 6 131-1 1-2-16-14-9 11-36 0 0-17 47 0 5-3-17-14-8 11-27 0 0-10z"/><path id="g65" d="M169 48l-11 13-54 0 2-44 7-6-22-2-1 52-79 0 2 6 76 0-10 44-10 21-15 20-20 19-26 18 3 3 41-25 27-29 13 18 8 19 7 2 5-3 1-7-4-10-10-11-18-12 15-31 7-33 10 42 10 21 14 21 18 20 24 17 5-8 9-3 0-2-26-16-21-17-16-19-11-20-13-39 80-1 2-2z"/><path id="g66" d="M20 135l-9 0 0 5 10 2 3 7 0 38 5 5 9-4 3-18-5-31 24-69-4-1-29 60zM10 55l-2 1 13 11 9 14 7 1 4-3 1-6-4-8-11-6zM23 11l-2 2 14 12 10 14 7 1 4-3 0-6-4-8-11-7zM177 14l-6 9-46 0 1 6 5 0-5 26-5 2-10-9-6 8-7 0 4-27 17 0 4-3-12-11-6 8-45 0 2 6 8 0-5 26-7 3 11 9 5-5 11 0-10 24-20 24 3 3 18-16 13-17 7-18 2 25-4 5 6 11 30-24-2-3-20 10 0-24 14-2 8 7 5-5 12 0-12 24-23 22 3 3 28-22 14-25 2 36 15 2 17-3 0-6-3-2-1-14-2 0-5 15-12 0 0-30 20 0 5-3-12-11-6 8-15 0 4-27 21 0 5-3zM135 56l7-27 10 0-4 27zM74 56l7-27 9 0-3 27zM89 173l0-24 72 0 0 24zM77 109l0 83 11-3 1-10 72 0 0 11 13-3 0-65 7-4-14-11-7 8-69 0zM89 143l0-22 72 0 0 22z"/><path id="g67" d="M93 7l-2 1 13 19 6 1 4-2 1-5-2-6-7-5zM62 98l-4 0-7 13-11 8-1 6 3 3 9-1 6-6 5-9zM147 98l-2 2 11 11 8 13 5 2 4-3 1-5-4-7-8-7zM101 93l-2 2 13 17 4 2 4-2-1-9-6-6zM115 71l-33 0 0-16 33 0zM128 71l0-16 31 0 0 16zM115 49l-33 0 0-14 33 0zM172 17l-10 12-121 0-16-6 0 78-3 37-8 35-8 17 4 2 10-15 8-16 8-34 2-34 132 0-4 13 2 1 16-12 8-2-15-14-8 8-131 0 0-10 121 0 0 7 11-3 2-2 0-22 7-4-15-11-7 7-29 0 0-14 59-1 2-2zM70 71l-32 0 0-16 32 0zM70 49l-32 0 0-14 32 0zM88 100l-17-2 1 22 5 6 7 0-15 20-12-12-3 3 11 13-26 22 2 2 6-2 25-16 24 15-33 10-37 7 1 4 43-6 38-10 34 10 39 5 4-8 7-4 0-2-68-8 17-10 14-13 9-2-14-13-9 8-50 0 11-7-15-6 48 0 11-2 3-4-6-4 0-12-3 0-6 13-49 0-2-2 0-11zM77 152l8-7 53 0-13 11-16 10z"/><path id="g68" d="M33 132l-6 22-17 20 3 7 12-3 11-16 2-18-2-12zM61 133l-3 0 4 19 0 20 5 3 5-2 3-6 0-9-5-12zM89 131l-3 1 9 16 5 18 6 3 5-3 1-6-2-9-7-10zM118 127l-2 1 13 13 9 15 6 1 4-3 0-6-4-7-9-8zM52 30l44 0 0 24-44 0zM39 24l0 104 11-3 2-6 118 0-6 37-8 18-8 2-27-2 0 3 18 5 4 9 12-1 9-5 12-22 7-43 8-3-15-12-8 8-59 0 0-24 56 0 5-3-17-14-9 11-35 0 0-23 56 0 5-3-17-14-9 11-35 0 0-24 61 0 5-3-18-15-9 12-94 0-15-7zM52 60l44 0 0 23-44 0zM52 89l44 0 0 24-44 0z"/><path id="g69" d="M45 12l-2 1 12 14 7 15 6 2 4-3 2-6-4-8-9-8zM51 67l0 45 12-3 1-7 72 0 0 8 13-4 0-31 8-4-16-12-7 8-69 0-14-6zM64 96l0-23 72 0 0 23zM48 153l45 0 0 21-45 0zM48 147l0-21 45 0 0 21zM153 153l0 21-47 0 0-21zM153 147l-47 0 0-21 47 0zM35 120l0 71 11-2 2-9 105 0 0 10 13-4 0-57 8-4-16-12-7 7-102 0-14-6zM143 10l-19 35-18 0 0-29 8-6-21-2 0 37-57 0-3-11-3 0-4 18-14 15-1 8 6 3 12-5 5-9 2-14 132 0-7 19 2 2 21-18 8-2-16-15-8 9-38 0 26-24 8-4z"/><path id="g70" d="M102 54l1 6 56 0 5-3-15-13-9 10zM38 9l0 47-28 0 1 5 25 0-12 44-19 38 3 3 12-15 18-33 0 93 8 0 5-4 0-103 15 28 6 2 4-2 1-6-2-8-9-9-15-9 0-19 28 0 0 130 8 0 5-5 0-158 78 0 0 145-4 2-22-2 0 4 15 4 4 10 13-3 6-7 1-9 0-141 9-4-17-13-7 9-75 0-14-7 0 40-13-12-9 12-6 0 0-40 7-5zM108 82l0 74 11-3 0-14 24 0 0 12 9-3 2-1 0-57 7-4-14-10-6 6-21 0-12-5zM119 133l0-45 24 0 0 45z"/><path id="g71" d="M86 8l-2 2 12 15 4 11 7 2 4-3 2-5-3-8-8-7zM162 27l-10 12-130 0 2 6 151 0 5-3zM55 46l-2 2 10 19 6 21 7 3 5-3 2-8-3-10-9-12zM174 81l-10 12-44 0 29-37 7-4-21-6-20 47-106 0 2 6 82 0 0 37-75 0 2 6 73 0 0 49 8 0 5-4 0-45 71 0 6-3-19-16-10 13-48 0 0-37 85-1 2-2z"/><path id="g72" d="M19 135l-9 0 0 4 10 3 3 7 0 38 6 4 7-3 3-10-4-35 1-13 27-84-4-1-34 82zM21 10l-2 2 13 12 9 14 6 1 4-3 1-6-4-7-10-7zM10 56l-2 2 14 13 6 10 6 2 4-3 1-6-3-7-10-7zM75 89l0 57 11-2 2-8 29 0 0 19-60 0 1 6 59 0 0 31 2 0 11-4 0-27 59 0 5-4-17-14-9 12-38 0 0-19 30 0 0 8 13-4 0-43 8-4-16-12-7 8-69 0-13-6 5-3 0-6 86 0 0 8 10-3 2-1 0-29 9-4-16-11-7 7-19 0 0-15 44-1 1-2-17-14-9 11-103 0 2 6 38 0 0 15-20 0-13-6 0 48 6 0zM167 68l-21 0 0-21 21 0zM102 68l-21 0 0-21 21 0zM113 68l0-21 21 0 0 21zM160 115l0 15-72 0 0-15zM160 110l-72 0 0-16 72 0zM113 26l21 0 0 15-21 0z"/><path id="g73" d="M154 14l-2 2 13 17 5 1 4-2 1-4-2-6-6-5zM132 105l0 28-25 0 0-28zM144 105l26 0 0 28-26 0zM132 99l-25 0 0-28 25 0zM144 99l0-28 26 0 0 28zM95 65l0 126 7-1 5-4 0-47 25 0 0 51 7-1 5-4 0-46 26 0-1 35-17 0 0 3 11 5 3 9 12-4 5-14 0-99 8-4-16-13-7 8-24 0 0-19 46 0 5-4-17-13-9 11-25 0 0-24 7-5-19-2 0 31-44 0 1 6 43 0 0 19-24 0-13-6zM19 125l0 66 12-4 0-11 37 0 0 10 13-4 0-49 8-4-16-12-7 8-10 0 0-26 30 0 5-3-15-14-9 11-11 0 0-25 24 0 5-4-15-13-8 11-35 0 27-40 14 15 8 14 6 2 4-3 1-5-3-8-9-9-18-9 6-4-19-6-16 36-24 34 3 2 17-16 0 3 20 0 0 25-35 0 2 6 33 0 0 26-12 0-13-6zM68 170l-37 0 0-39 37 0z"/><path id="g74" d="M137 14l-2 2 15 13 7 9 6 1 4-3 0-5-4-7-10-6zM47 74l1 6 58 0 5-4-14-12-8 10zM159 72l-7 27-12 26-9-35-4-40 62-1 1-2-17-15-10 12-37 0 0-27 4-1 3-5-20-2 1 35-72 0-16-6 0 69-3 34-8 34-7 15 3 2 11-15 13-35 4-36 0-56 75 0 6 47 12 41-23 28-30 22 2 2 32-18 24-24 13 19 16 16 17 8 9-2-1-6-4-6 3-31-2 0-9 23-3 3-19-16-12-19 16-28 10-28 8-4zM92 108l0 35-29 0 0-35zM51 102l0 63 12-4 0-12 29 0 0 12 10-3 2-2 0-47 7-3-14-11-7 7-26 0-13-6z"/><path id="g75" d="M133 44l-2 2 16 13 9 17 7 1 4-4 0-6-5-9-10-8zM90 39l-2 2 14 12 6 10 5 1 4-3 1-6-4-6-9-6zM83 46l-18-2 1 28 3 7 8 2 46 1 13-2 6-3 0-5-5-3 0-10-3 0-3 9-4 3-48 0-2-1 0-19zM52 44l-3 0-5 11-15 14-2 7 2 2 11-1 7-7 5-11zM107 173l0-30 72 0 5-4-15-13 18 0 5-3-16-14-9 11-6 0 0-24 5-3-13-10-6 6-95 0-15-6 0 37-28 0 2 6 155 0-8 11-143 0 2 6 77 0-1 32-29 0 0 3 18 4 4 9 18-6zM50 95l25 0 0 25-25 0zM111 95l0 25-24 0 0-25zM123 95l25 0 0 25-25 0zM33 19l-3 0-4 17-13 13 1 4 5 3 11-5 6-17 130 0-6 18 3 2 17-18 8-2-15-14-8 8-59 0 3-6-6-9-19-5-2 2 11 10 4 8-62 0z"/><path id="g76" d="M87 50l-2 1 8 12 3 9 6 2 5-2 2-5-2-6-6-7zM139 89l-9 11-85 0 2 6 103 0 5-3zM77 148l-18-9-18 23-25 20 2 3 20-10 32-25zM124 141l-2 2 24 18 18 20 7 1 4-5-2-8-8-10-16-10zM113 11l-20-3 0 34-50 0 0-18 8-6-21-2 0 25-7 4 16 10 6-7 113 0 0 7 11-2 2-30 7-5-20-2 0 26-52 0 0-26zM167 113l-9 12-141 0 2 6 74 0 0 60 2 0 11-3 0-57 77-1 2-2zM33 64l-3 0-2 13-5 9-12 13 0 4 6 3 8-2 6-6 5-18 131 0-7 21 3 1 19-20 8-1-15-15-9 8-130 0z"/><path id="g77" d="M177 130l-20-2 0 44-51 0 0-45 7-5-19-2 0 52-50 0 0-36 8-6-21-2 0 43-7 5 16 9 6-7 111 0 0 13 7-1 6-3 0-51zM174 92l-9 12-37 0 0-39 45 0 6-4-17-14-10 12-96 0 0-27 99-10 8 2 2-1-14-15-89 19-19-8 0 85-35 0 2 6 177 0 5-3zM56 65l59 0 0 39-59 0z"/><path id="g78" d="M67 78l-3 1 9 16 4 11 5 3 5-3 2-5-2-7-7-9zM134 101l-8 9-14 0 19-24 8-3-19-6-13 33-53 0 2 6 37 0 0 25-44 0 2 6 42 0 0 41 13-4 0-37 41 0 6-3-17-14-9 11-21 0 0-25 41-1 2-2zM113 10l-20-2 0 28-82 0 2 6 80 0 0 26-51 0-14-7 0 131 7-1 6-4 0-113 120 0 0 100-5 2-27-2 0 3 19 5 5 10 14-4 6-6 1-106 9-4-17-13-7 9-53 0 0-26 79 0 6-3-19-16-11 13-55 0 0-21z"/><path id="g79" d="M32 33l-3 1 11 24 4 2 5-1 1-5-1-7-6-7zM99 30l-13 29 3 2 19-21 7-3zM39 119l24 0 0 22-24 0zM10 62l1 6 45 0-22 27-28 23 2 3 19-10 0 80 10-2 2-12 62 0 0 11 10-3 2-1 0-64 7-3-14-11-7 7-58 0-11-5 18-13 15-16 0 30 11-3 1-30 22 14 16 16 7 1 3-4-2-7-8-9-15-8-23-6 0-5 49 0 5-3-15-13-8 10-31 0 0-35 45-5-14-13-42 11-51 9 1 3 49-3 0 33zM39 147l24 0 0 24-24 0zM101 119l0 22-26 0 0-22zM101 147l0 24-26 0 0-24zM132 23l0 169 2 0 11-5 0-158 27 0-17 58 16 25 5 16 0 14-3 8-5 3-19 0 0 4 11 3 2 10 17-4 5-4 3-6 3-17-7-26-14-18-9-9 26-54 9-2-16-15-8 8-23 0-16-8z"/><path id="g80" d="M147 102l0 64-93 0 0-64zM147 96l-93 0 0-62 93 0zM40 28l0 162 12-3 2-15 93 0 0 17 12-3 2-2 0-147 8-4-16-14-8 9-90 0-15-7z"/><path id="g81" d="M33 12l-4 20-16 20 1 4 6 3 8-3 6-6 4-9 1-13 127 0-9 21-9-7-9 11-33 0 0-12 7-5-20-3 0 20-56 0 1 6 55 0 0 18-40 0-14-7 0 76 11-3 2-8 41 0 0 20-84 0 2 6 82 0 0 31 3 0 10-5 0-26 84-1 2-2-18-15-10 12-58 0 0-20 42 0 0 8 13-5 0-53 8-4-16-12-7 8-40 0 0-18 57-1 2-3-7-5 11-7 13-12 8-2-16-15-9 8-127 0-2-10zM52 108l41 0 0 21-41 0zM52 102l0-19 41 0 0 19zM148 108l0 21-42 0 0-21zM148 102l-42 0 0-19 42 0z"/><path id="g82" d="M134 38l-2 2 11 11 4 8 6 2 4-3 1-5-3-6-8-5zM52 38l-2 2 11 11 4 9 6 2 3-3 2-4-3-6-8-6zM108 188l0-57 58 0-3 16-5 12-7 1-23-2 0 4 16 5 3 8 15-2 7-5 7-18 3-18 8-2-15-13-7 8-57 0 0-24 48 0 0 8 11-3 2-2 0-30 7-4-15-11-7 7-130 0 2 6 68 0 0 24-41 0-16-8-6 35-8 3 14 11 7-6 42 0-34 28-45 22 2 3 47-18 38-25 0 51zM139 14l-19-7-12 29-14 24 3 2 4-4 21-24 68-1 2-2-17-14-9 11-41 0 6-10zM60 14l-19-7-14 34-20 26 3 2 12-9 21-26 58 0 1-3-14-13-8 11-33 0 6-12zM43 125l5-24 46 0 0 24zM108 96l0-24 48 0 0 24z"/><path id="g83" d="M10 157l2 6 173 0 6-4-21-17-12 15zM29 46l1 5 136 0 5-3-20-17-12 15z"/><path id="g84" d="M108 8l-16 52-22 42 3 2 4-5 22-29 9 35 14 32-31 29-43 23 2 3 45-20 33-25 23 25 31 20 4-8 9-5-34-18-25-23 22-36 13-43 16 0 5-3-17-15-10 12-57 0 13-35 8-4zM129 128l-16-30-10-34 2-5 50 0-10 37zM9 39l2 6 27 0 0 87-31 11 11 17 4-5 65-38-1-3-34 13 0-82 30 0 5-3-17-14-10 11z"/><path id="g85" d="M129 15l-19-6-16 42-21 34 3 2 19-21 17-26 47 0-21 38 3 2 33-38 9-2-14-14-8 8-46 0 7-15zM116 119l-7 10-13 0 0-31 38-12-14-12-22 17-15-3 0 104 11-3 2-15 72 0 0 16 12-5 0-85 9-4-16-12-7 8-29 0 2 6 29 0 0 31-29 0 2 5 27 0 0 34-72 0 0-34 29 0 5-3zM17 14l0 177 2 0 11-4 0-161 28 0-15 52 14 22 4 15 0 13-3 7-4 2-17 1 0 3 10 3 2 10 15-3 5-4 3-6 2-16-6-24-20-24 25-48 9-2-16-15-8 8-26 0z"/><path id="g86" d="M83 123l16-9 10-13 3-23-2-7-3-2-12-1-7 6 2 11 12 10-7 13-15 10z"/><path id="g87" d="M30 8l-2 1 17 32 5 2 5-3 1-6-2-8-8-9zM89 39l-1 61-5 37-14 35-12 16 3 3 15-15 10-16 12-35 4-34 9 0 9 31 13 26-26 23-34 18 2 3 37-15 27-20 20 18 24 15 5-7 8-3 0-2-26-13-23-17 18-25 13-30 8-3-14-13-8 8-21 0 0-38 31 0-7 26 3 1 18-25 7-2-14-14-8 8-30 0 0-24 7-6-20-2 0 32-26 0-14-7zM139 140l-15-22-10-27 49 0-10 26zM129 85l-28 0 0-38 28 0zM49 187l0-86 12 13 8 13 5 2 3-2 2-5-2-6-15-14 15-14 7-3-14-8-12 23-9-4 0-4 22-36 9-2-14-13-9 8-47 0 1 6 46 0-21 38-30 34 3 3 28-24 0 85 7 0z"/><path id="g88" d="M73 57l-6 14-18 4 0-57 6-5-19-2 0 66-30 6 3 4 27-5 0 62-8 11 12 14 4-6 49-40-2-2-42 24 0-65 39-7 4-4zM169 30l-93 0 2 6 38 0-6 67-8 27-12 24-18 20-25 14 2 4 30-14 21-19 14-24 9-28 8-71 40 0-2 67-4 47-7 21-9 4-27-3 0 4 19 6 4 10 15-4 9-7 4-9 7-36 4-99 9-3-16-13z"/><path id="g89" d="M97 133l-3 2 6 12-19 2 23-29 7-2-14-9-5 13-12 0 15-17 7-3-14-8-12 23-7 5 6 14 5-5 8-3-11 16-7 5 7 14 4-5 20-7 0 7 4 2 3-1 1-10zM57 138l-3 1 5 10-19 1 25-29 8-3-14-8-6 12-12 0 15-17 8-2-14-8-13 22-7 5 6 14 4-5 9-3-13 17-7 4 7 14 4-4 20-5 0 7 4 2 5-5-1-6zM178 63l-9 11-39 0 0-43 61-8-17-14-40 16-16-5 0 70-11-9 4-5-2-10-13-11-2 1 6 12-20 1 27-31 8-3-14-8-7 13-14 1 16-21 7-3-15-8-8 21-6 8-4 1 6 14 4-4 10-3-13 18-7 4 7 14 3-4 22-6 3 8-7 8-71 0 0-67 7-5-19-3 0 157-5 4 14 10 5-7 75 0-9 13 3 2 13-12 9-15 6-15 4-34 0-36 28 0 0 112 11-3 2-109 18 0 5-3zM55 57l-2 1 5 11-18 1 27-31 7-3-14-8-7 13-13 0 15-21 8-2-15-8-9 20-9 10 5 13 5-4 10-3-13 18-8 5 8 14 3-4 20-6 0 9 4 2 5-6-1-6zM98 163l-7 8-64 0 0-77 87 0 4-3-1 46-5 23-4 11z"/><path id="g90" d="M177 18l-9 11-23 0 0-14 6-5-19-2 0 21-27 0 1 6 26 0 0 19 2 0 11-4 0-15 45-1 2-2zM84 18l-9 11-13 0 0-14 6-4-19-2 0 20-41 0 2 6 39 0 0 19 2 0 11-4 0-15 35-1 2-2zM64 69l-18-2 0 23-32 0 2 6 30 0 0 23 10-2 2-21 26 0 5-3-14-13-8 10-9 0 0-16zM153 69l-18-2 0 22-22 0 1 6 21 0 0 23 12-4 0-19 34 0 5-3-14-13-8 10-17 0 0-15zM166 141l-10 11-50 0 0-23 78 0 5-3-17-13-8 11-58 0 0-61 75-1 2-2-16-13-9 10-140 0 1 6 74 0 0 61-79 0 2 5 77 0 0 23-71 0 2 6 69 0 0 33 2 0 11-4 0-29 75-1 2-2z"/><path id="g91" d="M150 129l-3 2 18 22 12 25 7 2 4-4 1-8-6-12-12-13zM117 140l-18-9-16 26-21 24 2 3 9-6 17-14 19-22zM158 17l-18-10-25 22-33 19 2 3 12-4 24-11 28-17zM153 85l-2 1 15 18-70 8 42-25 33-25 8-2-16-11-21 21-44 4 41-30 8-2-17-10-25 28-21 13 7 17 4-4 39-9-31 23-22 11 8 16 3-4 35-6-1 59-28-1 0 3 17 5 4 9 13-3 6-7 2-68 28-6 7 18 6 2 5-3 1-8-4-10-11-11zM60 60l-8-1 29-27 8-2-16-15-9 9-52 0 2 6 50 0-17 28-7-1 0 44-32 9 8 17 4-5 20-9-1 59-24 0 0 3 14 5 4 10 13-4 5-6 1-73 29-15-1-2-28 8 0-33z"/><path id="g92" d="M33 74l7 13 5-4 40-13-1-3zM39 48l-1 4 40 13 4-1 1-3-3-4-8-5zM113 67l-1 4 43 15 4-1 1-3-11-10zM27 29l-3 1-3 17-12 13 3 6 6 1 7-4 4-8 2-11 62 0 0 43 13-4 0-39 46 0-40 15 1 3 43-7 5 1-8-12 19 0-5 18 3 1 16-17 8-2-15-14-8 8-65 0 0-14 61 0 1-3-15-13-9 10-111 0 1 6 59 0 0 14-63 0zM165 81l-9 11-112 0-15-7-1 44-3 26-11 24-8 11 2 3 18-18 10-19 5-19 18 0 0 31-7 9 10 15 3-3 47-23-1-3-39 11 0-37 26 0 8 13 23 21 15 8 34 11 4-8 7-6-28-5-25-9 26-14 7-1-15-10-24 23-15-10-12-13 79-1 1-3-16-13-9 11-117 0 1-14 123-1 2-2-15-12-8 9-102 0 0-14 136 0 2-3z"/><path id="g93" d="M47 8l-2 1 10 15 3 11 5 2 5-2 2-5-2-7-7-8zM98 27l-10 11-75 0 1 6 95 0 5-3zM29 50l-2 1 7 17 5 18 5 2 5-2 2-6-2-9-6-10zM103 79l-9 11-19 0 21-31 7-4-20-7-12 42-61 0 1 6 104 0 5-3zM39 166l0-43 47 0 0 43zM27 110l0 79 12-4 0-13 47 0 0 14 13-4 0-59 7-3-14-11-6 8-44 0zM125 16l0 176 2 0 11-5 0-157 32 0-20 55 20 25 5 16 0 13-3 8-5 3-23 0 0 3 13 4 2 9 10-1 13-7 4-5 3-17-3-17-5-8-15-18-11-8 30-52 9-2-15-15-9 8-30 0z"/><path id="g94" d="M86 9l-1 50-66 0 2 6 63 0-8 46-9 22-13 20-19 18-26 17 3 4 30-17 22-19 15-20 11-23 9-48 59 0-4 70-6 29-3 6-5 2-37-2 0 4 23 6 5 10 11-1 10-5 8-11 7-31 5-75 8-3-16-14-8 9-57 0 1-42 7-6z"/><path id="g95" d="M151 18l-2 2 11 11 8 14 6 2 4-3 1-5-4-8-9-7zM31 75l23 0 0 21-23 0zM168 80l-18 43-7-51 44-7 5-4-19-11-7 12-24 4-1-49 8-5-21-3 2 59-21 3-12-9-7 8-57 0-13-6 6-4 0-7 18 0 0 7 11-4 0-30 6-3-13-10-6 6-13 0-14-6 0 51 4 0 0 73 10-2 2-7 23 0 0 20-46 0 1 6 45 0 0 36 12-2 1-34 47 0 5-3-17-14-9 11-26 0 0-20 25 0 0 7 10-3 2-1 0-54 26-3 4 33 8 30-21 26-25 21 2 3 18-12 29-28 10 18 12 16 10 8 10 3 5-4-5-12 3-31-2 0-6 18-5 7-14-17-9-18 15-23 10-22 8-3zM31 101l23 0 0 21-23 0zM92 75l0 21-25 0 0-21zM92 101l0 21-25 0 0-21zM26 25l18 0 0 23-18 0zM78 25l18 0 0 23-18 0zM66 19l0 43 10-3 2-6 18 0 0 7 11-4 0-29 7-4-14-11-6 7-14 0-14-6z"/><path id="g96" d="M37 61l-16-5-4 45-8 4 14 10 6-6 31 0-5 44-6 21-8 2-24-2-1 3 18 5 3 9 16-3 8-9 6-19 5-50 8-3-15-12-7 8-30 0 4-36 30 0 0 14 12-4 0-48 9-4-16-12-7 8-45 0 2 6 45 0 0 34zM175 92l-9 12-55 0 0-21 57 0 5-4-16-13-9 11-37 0 0-23 57 0 5-3-16-14-9 11-37 0 0-22 64 0 5-3-17-14-10 11-38 0-16-7 0 91-17 0 1 5 13 0 0 57-8 8 9 17 4-4 44-22-1-3-35 9 0-62 16 0 12 36 8 14 22 23 15 8 4-8 7-4 0-2-25-12-20-19 34-20 6-1-17-11-26 28-15-32 60 0 2-3z"/><path id="g97" d="M149 48l0 36-96 0 0-36zM92 8l-8 34-29 0-15-7 0 156 12-3 1-11 96 0 0 14 6-1 7-4 0-135 9-5-17-13-8 9-56 0 17-25 8-5zM53 90l96 0 0 38-96 0zM53 133l96 0 0 39-96 0z"/><path id="g98" d="M77 122l-20-2 0 51 5 11 10 2 55 0 21-2 8-3 0-5-5-4-1-25-3 0-7 26-69 0 0-44zM40 128l-3 0-7 23-16 17-2 4 3 6 12-3 8-10 6-15zM154 127l-2 2 16 20 9 23 6 2 5-4 1-8-4-11-12-12zM92 116l-2 2 14 17 9 19 6 2 4-3 1-7-4-10-10-10zM93 81l-47 0 0-36 47 0zM46 98l0-11 47 0 0 29 3 0 10-6 0-23 48 0 0 12 11-2 2-2 0-48 9-3-16-13-8 8-46 0 0-23 8-5-21-2 0 30-46 0-14-6 0 69zM106 81l0-36 48 0 0 36z"/><path id="g99" d="M71 57l0 117-27 0 0-117zM84 57l27 0 0 117-27 0zM8 174l2 6 181 0 2-3-16-16-9 13-4 0 0-115 9-4-18-13-7 9-68 0 24-31 7-3-22-7-16 41-27 0-15-6 0 129zM124 57l27 0 0 117-27 0z"/><path id="g100" d="M87 8l-2 2 12 14 4 12 6 2 5-3 2-6-2-7-9-8zM34 29l-4 1-4 17-16 18 0 5 7 4 8-3 7-7 5-18 130 0-10 23 3 2 24-23 8-2-16-15-9 9-131 0zM170 78l-10 12-54 0 0-30 7-5-20-3 0 38-79 0 2 6 70 0-19 33-12 15-30 27-18 11 2 3 18-9 31-22 14-13 21-28 0 79 12-3 1-2 0-91 9 19 22 32 13 14 29 21 5-7 7-5-15-8-30-22-25-28-10-16 74-1 2-2z"/><path id="g101" d="M100 85l0 25-33 0-7-3 19-26 108 0 5-4-17-14-10 12-82 0 8-17 8-2-19-8-12 27-58 0 1 6 54 0-25 34-33 29 3 3 15-10 27-22 0 68 7-1 5-3 0-64 36 0 0 77 8-1 5-4 0-72 40 0-1 50-23-1 0 3 14 5 4 10 12-4 7-10 0-50 8-4-17-13-6 9-38 0 0-17 7-6zM38 15l-1 5 56 14-38 13-38 10 1 3 46-8 43-13 42 22 6 1 4-1 1-5-5-6-11-8-20-8 31-14 11 0-17-12-41 21z"/><path id="g102" d="M18 134l-9 0 0 5 10 2 3 7 0 38 6 5 4-1 6-7 1-14-5-22 0-13 24-88-4-1-31 85zM9 56l-2 2 13 13 6 9 6 2 5-3 1-6-4-6-9-7zM20 9l-2 2 13 11 9 13 6 2 4-3 1-6-4-8-10-6zM113 7l-2 1 7 9 4 10 6 2 4-2 2-4-2-6-6-6zM143 102l0-16 16 0 0 16zM131 102l-17 0 0-16 17 0zM143 108l16 0 0 17-16 0zM131 108l0 17-17 0 0-17zM176 18l-9 12-92 0-15-7 0 73-4 39-10 38-8 17 3 3 12-18 9-20 6-20 4-40 0-59 73 0-9 23-24 0 4-5-4-9-16-8-2 2 12 18 4 2-31 0 0 6 24 0 0 15-22 0 1 6 21 0 0 16-30 0 1 6 29 0 0 17-22 0 1 6 17 0-19 29-25 25 2 3 26-19 20-22 0 44 10-2 1-58 17 0 0 60 12-4 0-51 10 22 22 24 9 6 4-8 6-3 0-2-27-18-22-26 14 0 0 7 10-2 2-2 0-26 16 0 4-4-13-13-7 11 0-14 8-4-15-11-7 7-14 0 0-15 39 0 5-3-16-14-9 11-20 0 12-13 8-3-15-7 44-1 2-2zM131 80l-17 0 0-15 17 0z"/><path id="g103" d="M87 10l-8 10-44 0-14-8 0 95-8 4 16 10 6-7 65 0 5-3-14-13-8 10-18 0 0-25 18 0 0 6 10-2 1-31 8-4-14-11-7 7-15 0 0-22 31 0 5-3zM114 119l-20-2 0 23-63 0 2 6 61 0 0 31-85 0 2 6 178-1 2-2-18-15-10 12-56 0 0-31 58 0 6-3-18-14-9 11-37 0 0-16zM33 32l0-6 21 0 0 22-21 0zM33 77l0-23 50 0 0 23zM33 83l21 0 0 25-21 0zM137 81l-14 14-17 13 2 2 19-10 15-12 17 16 21 13 5-7 7-3 1-2-24-11-19-14 16-25 11-27 8-2-14-13-9 8-56 0 1 6 8 0 9 29zM143 72l-14-20-9-25 43 0-8 23z"/><path id="g104" d="M87 8l-2 2 12 14 4 12 6 2 5-3 2-6-2-7-9-8zM46 106l-2 1 17 20 10 22 7 2 5-4 1-8-5-11-12-11zM34 29l-4 1-4 17-16 18 0 5 7 4 8-3 7-7 5-18 130 0-10 23 3 2 24-23 8-2-16-15-9 9-131 0zM142 58l-21-2 0 34-103 0 2 6 101 0 0 77-6 2-33-2 0 4 23 5 5 10 16-4 4-3 4-8 1-81 46 0 6-3-19-15-9 12-24 0 0-27z"/><path id="g105" d="M31 72l0-2 21 0 0 9-42 0 1 6 41 0 0 18-24 0 0-7 8-5-19-2 0 13-5 4 13 8 5-5 57 0 0 6 10-2 1-17 7-6-18-1 0 14-23 0 0-18 42 0 5-3-12-11-6 8-29 0 0-9 22 0 0 4 10-2 1-2 0-28 7-3-14-11-6 7-20 0 0-9 40 0 5-4-14-11-7 9-24 0 0-5 7-5-19-2 0 12-41 0 1 6 40 0 0 9-20 0-12-6 0 47zM176 145l-10 12-59 0 0-13 68-1 2-2-17-14-9 11-44 0 0-13 56-3-13-13-56 9-65 6 1 4 64-2 0 12-75 0 2 6 73 0 0 13-86 0 2 5 84 0-1 15-31-1 0 3 19 4 4 9 18-6 4-7 0-17 84 0 2-3zM52 64l-21 0 0-9 21 0zM64 64l0-9 22 0 0 9zM52 49l-21 0 0-9 21 0zM64 49l0-9 22 0 0 9zM136 92l-34 15 1 3 39-13 19 10 23 7 5-8 4-2 1-2-42-11 13-12 10-13 8-2-13-12-8 7-57 0 2 6 9 0 8 15zM143 86l-15-11-7-10 40 0zM117 14l-3 24-14 16 2 3 10-6 12-12 4-18 29 0 0 24 4 4 22 0 8-2 0-6-4-2-19 1-1-17 8-3-14-11-6 7-25 0-13-7z"/><path id="g106" d="M109 85l-2 1 15 20 9 22 7 2 4-3 2-8-5-11-11-12zM67 13l-21-4-8 35-7 0-13-7 0 148 7 0 5-4 0-17 42 0 0 16 13-5 0-123 8-4-15-12-8 8-25 0 14-26zM72 50l0 50-42 0 0-50zM30 106l42 0 0 53-42 0zM141 15l-20-6-14 44-18 37 2 2 11-12 19-30 48 0-3 83-5 31-3 7-5 3-31-3-1 4 20 6 4 10 11-1 9-5 8-12 5-33 5-89 8-3-16-13-8 9-44 0 11-25z"/><path id="g107" d="M135 14l-20-2 0 159 4 7 9 3 56-1 4-1 3-5-6-6-1-29-2 0-8 30-37 1-9-3 0-90 54 0 5-4-16-15-9 13-34 0 0-51zM86 15l-20-2 0 58-52 0 2 6 50 0 0 85-55 10 7 18 5-4 80-28 0-3-24 5 0-139z"/><path id="g108" d="M92 60l0 50-52 0 0-50zM27 54l0 138 12-3 1-14 119 0 0 15 14-5 0-121 10-5-18-14-8 9-51 0 0-36 7-6-21-2 0 44-50 0-15-7zM106 60l53 0 0 50-53 0zM92 169l-52 0 0-53 52 0zM106 169l0-53 53 0 0 53z"/><path id="g109" d="M136 136l-2 2 23 20 16 23 7 1 4-5-1-8-7-11-15-11zM96 142l-18-9-18 26-25 23 2 2 21-11 17-14 14-15zM174 10l-9 12-121 0-16-7 0 77-3 40-10 39-8 19 3 1 12-18 9-20 5-21 5-42 0-62 145 0 6-3zM77 125l0-5 32 0 0 54-33 0 0 3 20 6 4 9 14-4 4-2 4-8 0-58 33 0 0 7 13-4 0-59 8-4-16-13-7 9-49 0 14-18 7-4-20-5-6 27-21 0-14-7 0 80zM122 114l-45 0 0-24 78 0 0 24zM155 62l0 22-78 0 0-22z"/><path id="g110" d="M82 7l-2 1 14 16 9 19 7 2 5-4 1-7-4-9-11-10zM173 36l-10 13-154 0 2 6 60 0-6 53-7 23-11 22-14 19-20 18 2 2 19-12 16-14 12-15 9-18 11-39 63 0-5 52-8 26-8 3-31-3 0 4 21 6 4 9 15-2 8-5 4-7 7-24 6-57 8-3-15-13-8 8-60 0 4-33 99 0 5-4z"/><path id="g111" d="M23 59l0 132 13-4 0-12 127 0 0 15 14-5 0-119 8-3-16-12-6 8-74 0 17-29 81 0 5-3-10-9-9-7-10 13-154 0 2 6 78 0-6 29-45 0-15-6zM36 169l0-104 32 0 0 104zM163 169l-32 0 0-104 32 0zM81 65l37 0 0 30-37 0zM81 101l37 0 0 31-37 0zM81 138l37 0 0 31-37 0z"/><path id="g112" d="M89 137l-3-1-6 18-13 15-1 8 2 2 8-1 10-10 4-14zM120 132l-18-3 2 53 14 3 28 0 18-3 2-5-5-5 0-18-3 0-6 19-38 0 0-37zM166 135l-2 2 11 18 6 20 6 2 5-3 2-6-3-10-9-11zM120 118l-2 1 11 15 8 16 6 1 4-2 1-6-3-8-9-9zM150 50l-8 9-39 0 1 6 55 0 5-3zM158 84l-71 0 2 6 68 0-19 30 3 3 18-15 13-18 9-2-14-11zM65 56l-8 11-7 0 0-39 19-5 10 0-16-13-54 23 1 3 28-5 0 36-30 0 2 6 24 0-11 41-19 37 3 2 12-14 19-33 0 85 7 0 5-4 0-98 10 16 6 15 5 3 4-3 2-7-3-8-9-11-15-10 0-11 29-1 0-3 33-22 24-29 12 19 27 24 9 6 4-7 6-5 0-2-21-9-19-13-15-15 7-3-22-5-18 31-29 27 2 2z"/><path id="g113" d="M147 99l-17-11-35 25-40 17 2 4 29-8 28-11 25-15zM193 140l-17-13-20 17-21 13-45 19-50 12 1 3 52-8 24-7 46-21 21-15zM168 120l-16-11-15 12-32 18-54 19 1 4 58-15 34-16 16-11zM172 18l-9 12-51 0 2-7-2-4-12-9-10-2-2 1 10 12 4 9-74 0 2 6 155 0 5-3zM172 67l-9 12-112 0-16-7 0 47-4 29-12 29-10 13 3 3 14-14 10-15 6-15 6-31 0-33 136 0 5-4zM59 42l-1 3 46 13-50 16 1 3 32-6 30-9 29 15 7-2-2-8-19-11 16-8 9-2-16-10-23 15z"/><path id="g114" d="M10 176l2 6 177-1 2-2-19-16-11 13-54 0 0-74 62 0 5-3-18-15-10 12-39 0 0-64 69 0 5-3-18-15-11 12-133 0 1 6 73 0 0 64-66 0 2 6 64 0 0 74z"/><path id="g115" d="M110 11l-19-2 0 62 4 11 10 3 55 0 21-1 8-4 0-5-6-3-40 2-39-2-1-28 77 0 5-4-17-13-10 11-55 0 0-22zM103 187l0-11 62 0 0 14 12-4 0-75 9-4-16-12-7 8-59 0-14-7 0 95zM165 108l0 28-62 0 0-28zM165 170l-62 0 0-28 62 0zM70 43l-8 11-7 0 0-38 7-5-20-3 0 46-31 0 2 6 29 0 0 43-33 10 7 17 4-5 22-11 0 58-5 2-25-2 0 4 17 5 5 10 14-3 6-7 1-74 31-17-1-3-30 11 0-38 25 0 5-3z"/><path id="g116" d="M7 108l7 17 4-5 18-9-1 63-24 0 0 3 15 5 4 10 12-4 6-6 1-77 29-15-1-3-28 9 0-39 25 0 5-3-15-13-8 10-7 0 0-35 7-5-20-3 0 43-28 0 1 6 27 0 0 43zM122 32l0 19-41 0 2 6 39 0 0 18-29 0-14-7 0 74 11-2 2-8 30 0 0 22-56 0 1 5 55 0 0 33 3 0 10-5 0-28 54 0 5-3-17-14-9 12-33 0 0-22 30 0 0 7 13-5 0-52 7-4-15-11-7 8-28 0 0-18 47 0 5-3-16-12-9 9-27 0 0-11 6-5zM88 12l-4 12-12 15 3 6 4 0 9-4 5-14 77 0-4 13 3 1 17-12 7-2-15-15-8 9-77 0-2-9zM92 106l30 0 0 21-30 0zM92 101l0-21 30 0 0 21zM165 106l0 21-30 0 0-21zM165 101l-30 0 0-21 30 0z"/><path id="g117" d="M91 134l-3 0-4 18-12 15-1 7 3 2 7-1 9-11 3-13zM122 127l-18-2 2 57 15 4 39-1 10-2 3-5-5-5-1-24-2 0-7 25-42 0 0-42zM168 129l-3 2 12 17 6 20 6 2 4-3 2-7-3-9-9-11zM127 119l-2 1 10 15 5 18 5 2 5-2 1-6-2-9-7-10zM26 137l-4 0-2 19-12 21 4 6 10-4 4-10 2-14zM60 128l-2 1 8 16 2 12 5 2 4-2 2-5-1-7-6-9zM43 133l-3 1 2 18-1 19 5 3 5-2 3-5 0-9-3-12zM59 88l-3 1 9 21-42 3 28-28 22-28 8-2-18-11-12 23-29 0 35-46 7-3-19-9-18 39-12 16-5 2 7 17 4-4 25-6-20 28-10 10-6 2 7 17 4-4 46-11 1 10 6 2 4-2 1-7-1-8-7-11zM145 45l-16-6-9 19-13-7-3 3 13 8-13 15 3 3 16-13 12 11-26 21 2 3 31-18 12 14 6-1 0-7-11-14 10-12 8-3-15-8-11 17-13-8 10-14zM87 25l0 97 11-3 1-8 72 0 0 7 12-3 0-77 7-3-14-11-6 7-45 0 13-14 7-4-19-5-8 23-16 0zM99 105l0-68 72 0 0 68z"/><path id="g118" d="M119 141l-2 3 32 22 25 25 8 0 2-5-3-9-10-11-21-13zM71 139l-26 26-35 24 1 3 40-19 29-23 6 0 2-1zM126 126l-63 0 0-56 63 0zM144 8l-34 12-42 11-18-8 0 103-42 0 2 6 180-1 2-2-19-15-10 12-24 0 0-56 38 0 5-3-18-15-9 12-92 0 0-28 86-14 8 1 2-1z"/><path id="g119" d="M9 82l2 5 82 0 0 104 8-1 5-4 0-99 80 0 6-3-20-16-10 14-56 0 0-65 5-1 3-5-21-2 0 73z"/><path id="g120" d="M102 20l4-1 3-4-22-2-3 61-6 31-14 29-22 28-34 26 3 3 31-19 23-22 16-22 10-24 9-49 11 56 10 24 14 21 19 19 24 16 6-8 9-3 0-2-30-18-23-21-17-24-11-28-7-32z"/><path id="g121" d="M170 35l-10 12-75 0 12-29 8-4-22-6-13 39-57 0 2 6 52 0-25 41-35 35 2 3 7-4 28-23 0 87 13-5 0-90 6-4-6-2 25-38 101 0 5-3zM161 97l-9 11-23 0 0-39 7-5-20-2 0 46-42 0 1 6 41 0 0 61-53 0 1 6 126-1 1-2-17-15-10 12-35 0 0-61 47-1 2-2z"/><path id="g122" d="M26 137l-4 0-3 20-12 22 4 6 11-5 4-9 2-15zM63 131l-3 1 8 17 4 19 5 2 4-2 2-7-1-8-7-11zM44 135l-3 0 2 20 0 20 5 4 4-3 3-6 1-10-4-12zM60 88l-2 1 10 21-45 4 28-28 23-29 7-2-17-11-13 23-30 0 19-22 15-24 7-2-18-10-18 39-12 17-5 2 7 17 4-4 27-6-21 27-10 10-6 2 6 18 5-4 48-13 3 14 5 2 4-3 1-6-2-10-6-11zM109 165l0-47 55 0 0 47zM97 106l0 82 12-4 0-13 55 0 0 16 12-4 0-64 8-3-15-11-6 7-52 0zM177 31l-9 11-28 0 0-25 8-6-21-2 0 33-48 0 2 6 46 0 0 36-42 0 2 6 102-1 2-2-17-15-9 12-25 0 0-36 49 0 5-3z"/><path id="g123" d="M120 8l-2 1 9 13 6 16 6 2 4-3 2-6-3-7-7-9zM180 83l-8 10-9 0 1-13 8-5-21-4-2 22-35 0 10-28 8-3-20-7-11 38-28 0 2 6 24 0-15 37 39 19-22 19-32 14 2 3 35-13 26-18 37 29 6 2 5-2 1-5-5-8-13-11-24-13 15-25 8-28 27 0 6-3zM129 147l-33-12 16-36 36 0-6 26zM89 31l-4 0-2 18-8 12-1 4 4 5 4 0 7-5 3-8 0-11 80 0-6 21 3 1 17-20 7-2-14-14-8 8-80 0zM63 43l-8 10-6 0 0-37 8-5-20-3 0 45-28 0 2 6 26 0 0 43-29 13 8 16 4-6 17-11-1 60-25-1 0 3 15 5 4 10 13-3 5-7 1-76 26-18-1-3-25 12 0-37 24 0 5-3z"/><path id="g124" d="M117 70l-2 2 35 25 28 29 7 0 3-6-3-9-12-13-22-14zM10 25l2 6 93 0-10 18-30 36-38 32-20 13 2 3 31-17 28-21 25-23 0 119 12-3 1-1 0-119 7-3-10-4 21-30 60 0 6-3-20-16-10 13z"/><path id="g125" d="M16 66l0 63 11-3 1-6 24 0 0 19-41 0 1 6 40 0 0 21-44 6 7 17 5-4 87-24-1-3-42 6 0-19 37 0 6-3-16-13-8 10-19 0 0-19 25 0 0 5 12-4 0-48 8-4-14-10-6 7-25 0 0-16 44 0 5-3-16-13-9 10-24 0 0-17 43-5-15-14-37 11-46 8 1 4 42-3 0 16-44 0 2 6 42 0 0 16-22 0-14-6zM52 96l0 18-24 0 0-18zM64 96l25 0 0 18-25 0zM52 90l-24 0 0-18 24 0zM64 90l0-18 25 0 0 18zM133 11l0 46-25 0 2 6 23 0-4 51-5 22-8 20-12 17-17 16 3 3 20-15 15-18 10-20 6-23 4-53 28 0-3 76-7 32-7 2-22-1-1 3 16 5 3 10 6 0 15-9 7-19 3-38 2-60 8-3-15-13-7 9-26 0 0-39 8-5z"/><path id="g126" d="M169 26l-10 13-58 0 6-24 8-5-22-3-4 32-76 0 2 6 73 0-3 20-25 0-16-6 0 119-35 0 2 6 181-1 1-2-19-16-10 13-7 0 0-105 9-3-18-14-7 9-48 0 7-20 87-1 2-3zM57 178l0-22 87 0 0 22zM57 150l0-23 87 0 0 23zM57 122l0-23 87 0 0 23zM57 93l0-22 87 0 0 22z"/><path id="g127" d="M189 14l-20-2 0 162-4 2-24-2 0 3 16 5 5 10 13-3 7-11 0-158zM152 30l-20-2 0 121 7-1 5-3 0-110zM105 15l-9 11-86 0 1 6 43 0-21 31-13 13-5 1 8 18 4-4 72-14 5 13 6 2 4-4 1-7-5-11-11-12-19-11-2 2 19 24-69 6 21-18 17-18 8-3-18-8 64 0 2-3zM99 106l-9 12-21 0 0-22 7-5-20-2 0 29-42 0 1 5 41 0 0 40-48 7 9 18 4-4 101-30 0-4-53 10 0-37 42 0 5-3z"/><path id="g128" d="M173 38l-10 13-34 0 0-35 7-5-21-2 0 42-105 0 1 6 94 0-24 40-16 20-37 36-21 14 2 3 22-13 40-30 17-18 27-38 0 102-5 2-28-1 0 3 19 5 5 10 19-6 4-14 0-115 60-1 2-3z"/><path id="g129" d="M116 12l-24-3 1 34-3 16-5 15-10 13-13 11 1 3 18-10 12-12 8-14 5-15 2-32 6-3zM159 12l-19-2 1 73 13 4 35-2 3-5-6-5-32 0-1-58zM22 136l-9 0 0 4 10 3 3 7 1 37 6 5 8-4 3-18-5-22 1-13 36-98-4-1-43 92-4 7zM10 55l-2 2 14 11 9 13 7 1 4-3 0-6-4-7-10-7zM25 11l-1 2 14 12 10 14 7 1 4-3 1-7-5-7-11-7zM92 171l0-57 67 0 0 57zM79 101l0 90 12-2 1-12 67 0 0 14 13-4 0-73 7-3-14-11-7 8-64 0z"/><path id="g130" d="M93 118l-42 0 0-22 42 0zM106 118l0-22 43 0 0 22zM38 62l0 74 12-3 1-9 33 0-33 33-43 27 2 3 46-22 37-30 0 57 11-3 2-64 20 26 26 21 30 14 4-8 7-3 1-2-46-19-27-19-11-11 39 0 0 10 13-4 0-60 8-4-16-12-7 8-41 0 0-21 80-1 2-2-20-16-10 13-52 0 0-19 7-6-20-2 0 27-81 0 2 6 79 0 0 21-41 0-14-7zM93 90l-42 0 0-22 42 0zM106 90l0-22 43 0 0 22z"/><path id="g131" d="M20 45l0 146 8 0 5-5 0-135 134 0 0 122-5 2-29-2 0 3 20 6 5 9 18-6 4-13 0-119 9-3-17-13-7 8-82 0 21-27 8-4-22-5-14 36-41 0-15-7zM63 81l0 77 12-5 0-17 48 0 0 16 13-4 0-59 8-3-16-13-7 8-45 0-13-6zM75 130l0-43 48 0 0 43z"/><path id="g132" d="M115 71l2 57 7 4 40-1 0 37-127 0 0-97 35 0-2 26-4 13-16 24-12 11 2 3 17-11 12-12 8-13 5-13 3-28zM115 65l-30 0 0-35 30 0zM164 119l-36 0 0-48 36 0zM174 12l-10 12-155 0 2 6 61 0 0 35-33 0-15-7 0 131 8-1 5-3 0-11 127 0 0 14 13-4 0-112 8-4-15-12-7 9-35 0 0-35 63 0 2-3z"/><path id="g133" d="M29 36l-1 2 21 23-19 15-22 12 1 3 31-13 27 1 0 23-24 0-15-7-4 32-8 3 13 11 7-6 32 0-5 27-6 13-31 0 0 4 16 4 3 9 6-1 9-2 8-6 9-23 3-24 8-3-14-12-7 8-32 0 4-21 28 0 0 8 11-2 2-32 7-4-12-11-6 7-21 0 26-22 18-25 8-2-14-13-9 8-56 0 2 6 53 0-19 27-7-10zM100 141l-2 3 28 16-22 16-27 13 2 3 31-11 25-15 29 24 5 0 3-3-4-12-24-17 20-24 9-2-15-13-9 8-58 0 2 6 55 0-14 20zM108 8l-4 2 10 22 13 19 17 16-7 6-20 0-15-7 0 26-3 12-8 13-7 6 2 3 11-6 13-14 4-14 1-13 24 0 0 28 2 8 10 2 27-2 2-7-5-2-23 0-1-25 6-2 2-1-2-1 24 13 5-8 8-5-23-9-21-12 27-15 8 0-16-12-22 25-18-15 28-16 8-1-16-11-23 25z"/><path id="g134" d="M112 24l1 124 6 5 12 1 45-1 11-2 3-5-5-6-1-26-3 0-7 27-41 1-8-2-1-58 42 0 0 13 11-2 2-2 0-59 9-4-17-12-7 8-37 0-15-6zM166 76l-42 0 0-46 42 0zM55 83l0 81-11-11-10-17 4-31 7-5-20-3-3 49-9 31-7 13 2 2 16-23 9-27 7 16 10 12 11 8 13 5 35 3 76 0 4-8 5-2 0-3-100 0-26-3 0-45 33 0 5-3-16-14-8 11-14 0 0-28 7-6zM8 76l2 6 96-1 1-3-16-14-9 12-17 0 0-31 33 0 5-4-17-13-8 11-13 0 0-23 7-6-20-2 0 31-36 0 2 6 34 0 0 31z"/><path id="g135" d="M96 14l-20-2 0 70-68 12 3 5 65-11 0 77 2 11 4 4 19 3 58 0 14-3 3-3 0-5-8-4-65 3-7-1-6-4-1-80 98-17 5-5-21-12-8 15-74 13 0-60z"/><path id="g136" d="M168 73l-12 17-146 0 2 6 176 0 4-3z"/><path id="g137" d="M18 14l-2 1 12 12 8 15 6 1 4-3 1-6-4-8-9-7zM92 100l-3 1 4 14 0 10 5 3 4-1 3-5 0-6-4-8zM114 98l-2 1 8 12 3 10 5 2 4-2 2-5-2-6-6-6zM138 95l-2 2 9 7 6 9 5 1 4-2 0-4-2-5-7-5zM20 92l-9 0 0 4 11 5 2 30 5 4 8-3 2-8-4-25 2-9 31-60-4-1-37 57zM73 101l-4 10-16 14 3 6 9-1 10-9 2-12-1-8zM148 145l-2 1 19 17 14 20 7 2 4-4 0-8-7-10-13-10zM60 143l1 38 5 6 57 1 20-1 7-4 0-5-5-3-1-20-2 0-7 21-62 0 0-27 5-4zM40 144l-10 18-18 12-2 7 2 2 13-1 13-12 6-16 0-10zM87 135l-2 2 15 12 11 14 6 1 4-4 0-6-5-7-11-7zM76 20l0 77 11-3 1-3 83 0-4 23-4 10-25 1 0 3 13 4 2 8 17-5 8-14 5-29 7-3-14-11-6 7-39 0 0-16 40 0 5-3-15-13-8 10-22 0 0-16 40 0 5-3-15-12-8 10-22 0 0-16 48 0 5-3-16-13-8 10-69 0-15-6zM88 85l0-16 31 0 0 16zM88 26l31 0 0 16-31 0zM88 47l31 0 0 16-31 0z"/><path id="g138" d="M94 63l2 6 58 0 5-3-15-13-8 10zM128 19l24 32 32 25 10-16-24-11-22-15-17-17 8-4-23-5-21 36-22 22-11 8 1 3 38-25zM16 21l0 171 3 0 10-5 0-160 24 0-16 48 14 21 3 14 0 13-6 8-16 0 0 3 9 3 2 10 15-3 4-4 3-5 3-15-6-23-20-22 26-45 8-2-15-15-8 8-22 0-15-7zM75 85l0 49 10-2 2-7 21 0 0 7 12-4 0-37 6-2-13-11-7 7-18 0-13-6zM87 119l0-29 21 0 0 29zM132 85l0 49 11-2 1-7 24 0 0 7 12-4 0-36 6-3-14-11-6 7-21 0-13-6zM144 119l0-29 24 0 0 29zM95 132l-14 31-23 26 2 2 21-14 16-18 14 20 5 2 4-3 1-4-2-7-7-6-13-6 7-13 8-3zM151 132l-13 31-14 19-9 7 2 3 21-14 15-18 16 14 10 16 6 1 4-4 0-6-5-8-11-9-18-7 8-15 7-3z"/><path id="g139" d="M32 10l-2 1 9 13 7 14 6 2 4-2 2-6-2-8-9-8zM77 33l-8 11-60 0 1 5 78 0 5-3zM69 87l-8 10-45 0 2 6 60 0 5-3zM69 61l-8 10-45 0 2 5 60 0 5-3zM102 19l0 28-3 18-10 19-8 8 2 3 12-9 15-19 4-20 1-20 30 0 0 47 3 9 10 3 19-1 13-4 0-5-5-3-27 0 0-44 7-3-14-12-7 7-27 0-15-6zM124 155l-25 19-31 14 1 3 34-12 28-17 21 15 27 12 5-7 7-4 1-2-29-9-23-13 18-22 13-25 9-2-14-13-9 8-71 0 1 6 13 0 10 27zM131 148l-16-19-11-23 53 0-11 22zM64 168l-33 0 0-38 33 0zM31 187l0-14 33 0 0 11 13-4 0-48 8-4-16-12-7 8-30 0-13-6 0 73z"/><path id="g140" d="M43 60l0-6 117 0 0 9 10-3-8 10-59 0 2-5 7-5-21-3-2 13-77 0 2 6 74 0-2 15-26 0-15-7 0 94-36 0 1 6 181-1 1-2-18-15-9 12-6 0 0-80 9-3-17-13-8 9-48 0 6-15 87-1 2-2-18-14 1-32 8-4-16-12-7 8-113 0-14-7 0 52zM58 178l0-17 88 0 0 17zM58 155l0-15 88 0 0 15zM58 134l0-15 88 0 0 15zM58 113l0-16 88 0 0 16zM116 25l0 23-30 0 0-23zM129 25l31 0 0 23-31 0zM73 25l0 23-30 0 0-23z"/><path id="g141" d="M79 59l0 75 10-3 2-8 31 0 0 25-56 0 2 6 54 0 0 37 2 0 10-4 0-33 58-1 2-2-17-15-9 12-34 0 0-25 31 0 0 10 13-5 0-61 7-4-15-11-7 7-29 0 0-18 56-1 1-3-11-9-6-5-9 12-31 0 0-18 8-6-20-2 0 26-52 0 2 6 50 0 0 18-30 0-13-6zM122 93l0 24-31 0 0-24zM134 93l31 0 0 24-31 0zM122 88l-31 0 0-23 31 0zM134 88l0-23 31 0 0 23zM17 21l0 171 2 0 11-5 0-160 24 0-16 50 13 23 4 14-1 14-6 8-16 0 0 3 9 3 3 10 14-4 4-3 3-6 3-15-6-24-19-23 25-47 8-2-15-15-8 8-21 0-15-7z"/><path id="g142" d="M144 10l-20-2 0 58-27 11 0-34 7-6-20-2 0 48-23 10 4 4 19-8 1 85 5 7 5 2 78 1 18-5 1-5-6-3-1-30-3 0-6 26-3 5-62 1-7 0-7-4 0-85 27-12 0 81 7-1 5-4 0-81 30-13-10 75 3 2 12-37 8-37 8-2-14-15-7 8-30 12 0-45zM62 54l-8 11-6 0 0-44 7-6-20-2 0 52-25 0 2 6 23 0 0 70-27 8 9 16 4-5 56-30-1-2-28 9 0-66 24 0 5-3z"/><path id="g143" d="M76 41l-2 2 20 21 14 23 7 1 4-4 0-8-6-11-14-12zM7 158l8 17 4-5 84-42-1-3-53 19-2-118 7-6-20-2 2 131zM157 19l-2 36-5 32-11 29-18 26-28 24-39 22 2 3 52-24 33-29 22 25 16 25 7 2 5-4-1-9-7-13-15-15-24-15 16-32 8-35 3-40 8-6z"/><path id="g144" d="M129 85l-14 0 1 5 15 0 0 6-9 31-16 23 2 2 11-9 16-27 8 21 12 15 7-14-17-17-9-25 0-5 10-4-13-9zM59 85l-11 0 0 5 13 0 0 6-8 31-14 24 2 2 10-10 15-26 7 21 10 15 8-14-16-18-8-25 0-5 10-4-13-9zM24 59l0 133 7-1 5-4 0-122 57 0 0 125 8-1 5-4 0-120 57 0-1 108-4 2-23-1 0 3 16 5 4 9 17-6 4-13 0-104 8-4-16-13-7 8-55 0 0-28 80 0 5-3-5-4-14-11-10 12-152 0 2 6 81 0 0 28-55 0-14-6z"/><path id="g145" d="M98 98l0 57 11-3 0-9 33 0 0 11 11-4 0-44 7-3-12-11-5 6-13 0 0-27 30 0 5-3-15-13-7 10-13 0 0-21 7-5-18-2 0 28-31 0 1 6 30 0 0 27-9 0-12-5zM68 25l0 165 11-3 2-13 89 0 0 15 11-4 2-2 0-150 9-4-17-13-7 9-86 0-14-7zM170 168l-89 0 0-138 89 0zM109 137l0-33 33 0 0 33zM48 9l-19 53-23 43 3 2 4-5 20-26 0 115 13-4 0-120 6-4-9-3 18-41 7-4z"/><path id="g146" d="M85 25l1 6 44 0 0 30-24 0-15-6 0 111 8-1 5-3 0-95 26 0 0 124 8 0 5-4 0-120 27 0 0 79-4 3-15-1 0 4 12 4 2 9 13-4 4-8 0-84 9-4-17-12-6 8-25 0 0-30 44 0 5-4-16-14-9 12zM28 45l32 0 0 36-32 0zM39 8l-4 31-19-6 0 154 7 0 5-4 0-14 35 0 0 13 12-4 0-54 9-4-16-12-7 8-33 0 0-29 32 0 0 9 13-4 0-45 8-4-15-12-7 8-17 0 11-22 7-5zM28 122l35 0 0 42-35 0z"/><path id="g147" d="M118 103l-1 3 13 5-25 1 0-11 27 0 2 3 10-3 0-32 7-3-14-10-6 6-26 0 0-10 53-1 2-2-15-12-8 9-32 0 0-7 7-5-19-2 0 14-52 0 1 6 51 0 0 10-25 0-13-5 0 51 10-2 2-5 26 0 0 11-52 1 7 13 5-4 83-7 12 9-7 8-15 0 0-4 7-5-19-2 0 11-76 0 1 5 24 0 13 19 5 2 6-6-2-5-5-6-11-4 45 0-1 17-24 0 0 3 15 4 4 8 8-2 8-5 2-25 32 0 5-3-13-11 4-5-8-9zM132 68l0 11-27 0 0-11zM132 85l0 10-27 0 0-10zM67 85l26 0 0 10-26 0zM67 79l0-11 26 0 0 11zM19 20l0 172 11-3 2-9 136 0 0 10 11-3 2-2 0-157 8-4-16-13-7 9-133 0-14-7zM168 174l-136 0 0-148 136 0z"/><path id="g148" d="M72 111l0-4 22 0 0 14-48 0 1 6 14 0-5 15-7 3 12 10 6-5 27 0 0 17 2 0 10-3 0-14 44 0 5-4-14-11-7 9-28 0 0-17 36 0 5-4-13-11-7 9-21 0 0-14 22 0 0 5 12-4 0-19 6-3-13-10-7 7-53 0-12-6 0 38zM94 127l0 17-27 0 6-17zM145 59l-6 8-3 0 0-15 6-3-13-10-6 7-27 0 2-8 7-5-17-3-4 16-30 0 2 6 26 0-4 15-36 0 2 6 109 0 5-3zM94 52l30 0 0 15-35 0zM128 89l0 13-56 0 0-13zM163 26l0 146-129 0 0-146zM34 186l0-8 129 0 0 12 13-5 0-157 9-4-16-13-8 9-125 0-14-7 0 179 7-1z"/><path id="g149" d="M135 82l-8 4 15 11 7-7 23 0-5 56-5 22-5 7-33-2 0 4 19 5 4 10 14-3 8-5 4-6 7-25 5-62 8-3-15-12-8 8-22 0 8-49 9-3-16-14-8 9-73 0 2 5 25 0-2 56-4 27-7 26-11 25-17 23 4 3 20-22 14-25 9-26 5-28 3-59 34 0zM54 65l-8-3 19-43 8-4-21-7-20 57-26 45 3 2 4-4 22-28 0 111 13-4 0-119z"/><path id="g150" d="M14 103l7 14 3-4 38-23-1-3zM151 22l-2 2 15 23 6 2 4-2 1-5-2-7-8-7zM151 142l-2 2 24 29 6 16 8 2 4-5 1-9-5-11-14-12zM111 145l-2 1 12 20 7 22 7 2 5-3 1-8-3-10-9-12zM68 145l-3 1 8 20 4 22 6 3 4-3 3-7-2-10-7-12zM40 144l-3-1-8 21-17 16-1 8 3 3 13-3 8-9 5-15zM174 51l-8 11-26 0 1-46 7-5-20-2-1 53-30 0 2 6 27 0-7 26-16 24-28 20 3 3 16-8 24-19 8-11 10-23 26 27 17 27 7 2 3-5-1-10-8-13-16-16-27-16 2-8 50-1 1-2zM68 17l-20-7-15 44-22 34 3 2 5-4 22-27 14 11 11 13 5 1 3-3 0-6-4-6-10-8-16-6 6-10 35 0-5 20-17 37-13 15-16 14-19 12 2 3 23-12 19-13 14-16 12-18 14-40 8-3-14-13-8 8-32 0 8-19z"/><path id="g151" d="M23 8l-2 2 14 15 9 17 7 1 4-3 0-7-4-8-10-9zM21 101l-8 3 10 11 5-4 24 0-16 43-19 25-11 10 2 3 23-18 17-21 18 21 26 10 35 3 59 0 2-8 7-3 0-3-101-1-26-7-10-6-8-9 16-38 8-2-14-13-8 8-21 0 28-37 12-3-15-14-8 8-38 0 2 6 35 0zM95 161l46-26-1-3-41 14 0-58 55 0 0 9 12-5 0-63 9-3-16-13-7 8-52 0-14-6 0 128-6 9 11 14zM99 27l55 0 0 24-55 0zM99 82l0-25 55 0 0 25zM114 96l-2 2 32 29 24 32 6 2 3-3-2-14-21-23 26-17 7-1-16-11-21 26z"/><path id="g152" d="M21 8l-2 2 14 15 10 17 6 1 4-3 0-7-4-8-10-9zM19 102l-8 3 11 10 5-4 24 0-16 42-17 25-11 11 2 3 21-17 16-21 19 20 25 10 36 3 59 0 2-8 6-3 0-3-101-1-25-7-10-6-8-9 15-38 8-2-14-13-8 8-20 0 27-37 12-3-16-14-7 8-36 0 2 6 33 0zM112 18l-20-5-8 32-13 26 3 2 4-4 17-23 28 0 0 31-52 0 1 6 117 0 2-3-17-14-10 11-28 0 0-31 39 0 5-3-16-15-10 12-18 0 0-24 7-5-20-3 0 32-25 0 7-18zM99 160l0-8 60 0 0 12 11-3 2-1 0-51 8-3-16-12-7 8-57 0-14-7 0 69zM159 108l0 38-60 0 0-38z"/><path id="g153" d="M134 13l-2 2 15 10 11 12 6 1 3-4 0-5-5-7-11-6zM28 49l0 60-3 34-10 32-9 15 3 3 13-15 14-34 5-51 37 0-6 52-4 5-22-1 0 3 13 5 2 9 5-1 13-5 6-11 5-54 8-3-15-12-7 8-35 0 0-34 66 0 7 46 14 39-25 27-31 22 1 3 34-19 26-23 14 18 18 14 15 8 8 0 3-2-1-6-4-6 3-30-2 0-9 22-4 3-19-14-13-17 17-28 12-28 8-4-21-6-9 28-13 26-11-34-5-39 66 0 5-3-5-5-12-9-10 12-45 0 0-32 7-6-21-2 2 40-63 0-16-7z"/><path id="g154" d="M171 15l-10 13-149 0 1 6 37 0-15 51-27 47 2 2 5-5 23-29 14 15 9 17 6 2-22 31-33 24 2 3 25-13 20-17 15-18 12-21 14-46 8-3-14-13-8 8-31 0 11-35 51 0 0 136 4 12 9 3 39 0 17-2 6-3 1-6-6-3 0-32-3 0-8 32-43 1-3-6 0-72 52 0 5-3-17-15-9 12-31 0 0-54 58-1 2-2zM52 75l35 0-6 26-9 24-8-14-24-14z"/><path id="g155" d="M157 74l0 15-58 0 0-15zM157 68l-58 0 0-14 58 0zM86 48l0 54 11-2 2-6 58 0 0 7 2 0 11-5 0-40 7-4-15-11-7 7-55 0-12-5 6-9 89 0 6-3-18-15-10 12-63 0 5-9 7-4-19-7-14 34-19 25 3 2 25-23zM61 108l1 6 33 0-17 22-23 18 2 3 20-11 16-13 16 0-19 25-26 20 2 3 33-21 25-27 16 0-19 31-28 24 2 4 36-25 17-21 6-13 17 0-5 28-6 14-30 0 0 3 15 5 3 8 15-3 8-6 9-23 3-24 8-3-15-12-7 8-70 0 10-14 82-1 2-2-17-14-9 11zM50 9l-19 55-24 45 2 2 5-5 19-25 0 111 13-5 0-120 6-3-7-3 19-42 7-4z"/><path id="g156" d="M124 156l-1 3 30 15 18 15 6 0 3-4-2-7-9-8-17-8zM84 164l-16-10-24 18-30 16 2 3 11-4 33-12 16-10zM33 108l0-3 46 0-17 8-15 4 6 14 3-3 46-4-42 15-27 6 7 15 4-4 54-5-1 25-26 0 0 3 16 4 4 9 8-1 11-8 1-33 45-5 10 12 6 1 3-4 0-6-7-8-13-9-22-7-2 3 20 13-91 5 84-27 8 1 2-2-14-11-23 11-49 1 32-11 8-1 0 4 7-1 5-4 47 0 0 6 6 0 6-4 0-34 8-4-15-11-7 7-44 0-13-5 0 45-15-8-3 2 0-26 8-4-15-11-6 7-43 0-12-6 0 53zM138 71l0 11-18 0 0-11zM149 71l18 0 0 11-18 0zM138 99l-18 0 0-11 18 0zM149 99l0-11 18 0 0 11zM50 99l-17 0 0-11 17 0zM61 99l0-11 18 0 0 11zM50 82l-17 0 0-11 17 0zM61 82l0-11 18 0 0 11zM95 49l-35 0 0-11 35 0zM108 49l0-11 34 0 0 11zM95 32l-35 0 0-11 35 0zM108 32l0-11 34 0 0 11zM60 59l0-4 82 0 0 6 7 0 6-4 0-34 7-4-15-11-7 7-78 0-14-6 0 54z"/><path id="g157" d="M61 34l-2 2 9 14 6 16 6 2 5-3 1-6-2-8-8-8zM148 96l-18-2 0 50-25 0 0-65 52 0 5-3-17-15-9 12-27 0 24-29 8-3-19-8-17 40-65 0 2 6 51 0 0 65-24 0 0-44 6-5-17-2 0 50-8 4 16 10 5-7 59 0 0 14 10-3 1-60zM36 186l0-158 127 0 0 146-6 2-31-2 0 4 21 5 6 9 15-4 4-3 4-8 0-147 9-4-17-13-7 9-124 0-14-7 0 177 8-1z"/><path id="g158" d="M101 82l-3 1 14 21 8 24 7 2 5-4 1-8-4-11-10-13zM97 55l2 6 52 0 0 112-5 2-31-2 0 3 21 6 5 10 16-4 4-3 3-9 1-115 23 0 6-3-16-15-9 12-4 0 0-39 7-5-21-2 0 46zM45 9l0 46-36 0 1 6 32 0-13 46-22 41 3 2 14-16 21-38 0 95 3 0 10-4 0-100 11 16 7 17 6 2 4-3 1-7-3-9-9-10-17-10 0-22 31 0 5-3-16-15-8 12-12 0 0-38 7-6z"/><path id="g159" d="M67 117l-8 12-50 0 2 6 71-1 1-2zM58 34l-8 12-35 0 2 6 55-1 2-3zM136 75l-21-6-5 44-8 20-13 19-19 19-28 17 3 4 26-14 20-14 15-15 9-16 11-34 8 36 16 31 13 14 15 11 5-9 9-3 0-2-20-12-15-13-12-15-8-17-9-37 0-4zM118 14l-22-5-12 49-18 40 3 2 16-20 13-26 71 0-14 45 3 2 15-22 12-23 8-2-16-15-9 9-67 0 9-30z"/><path id="g160" d="M28 138l-3 0-4 19-12 17-1 4 4 5 10-3 5-10 3-14zM61 130l-3 1 8 15 4 17 5 2 4-2 2-6-2-8-6-9zM44 134l-3 0 3 20-1 20 5 3 4-2 3-6 1-10-4-12zM175 28l-9 11-37 0 10-19 8-3-20-9-12 31-39 0 2 6 34 0-23 40-9 8 6 17 4-4 19-3-4 29-5 15-9 15-12 14-17 13 3 3 21-13 15-14 10-16 6-16 5-33 19-3 2 84 6 4 18 0 18-1 6-3 0-6-3-2-1-28-3 0-6 29-20 0-4 0-1-3 0-77 17-4 7 16 6 2 5-4 0-8-5-11-12-13-21-12-2 2 19 24-76 7 35-48 65 0 1-3zM59 88l-3 1 10 21-43 3 28-27 22-28 8-2-17-11-13 22-27 0 33-46 7-3-19-9-17 39-11 16-5 2 7 17 5-4 23-6-21 28-10 10-6 2 7 17 4-4 47-12 2 10 5 3 4-3 2-6-2-9-7-10z"/><path id="g161" d="M130 9l0 42-24 0-15-6 0 117 8-1 5-3 0-101 26 0 0 134 2 0 11-5 0-129 27 0 0 87-4 3-17-1 0 3 13 4 3 9 13-4 4-8 0-90 9-4-17-12-6 7-25 0 0-34 7-5zM28 45l32 0 0 36-32 0zM39 8l-4 31-19-6 0 154 7 0 5-4 0-14 35 0 0 13 12-4 0-54 9-4-16-12-7 8-33 0 0-29 32 0 0 9 13-4 0-45 8-4-15-12-7 8-17 0 11-22 7-5zM28 122l35 0 0 42-35 0z"/><path id="g162" d="M86 57l8-3-19-9-11 22-8 9-23 16-16 7 2 3 17-4 26-13 9-8zM34 27l-3 0-1 14-5 11-13 14 3 7 8 0 10-8 4-10 1-13 77 0 0 38 3 8 8 2 38 0 14-1 6-3 0-4-7-3-49-1 0-36 40 0-8 24 3 2 21-23 8-2-16-15-9 9-62 0 5-8-2-6-12-11-11-5-3 2 8 9 8 19-61 0zM172 164l-10 12-56 0 0-57 60-1 2-2-17-14-10 11-103 0 2 6 53 0 0 57-78 0 2 6 168 0 5-3z"/><path id="g163" d="M156 53l0 54-111 0 0-54zM89 8l-11 39-32 0-15-7 0 151 12-3 2-14 111 0 0 16 7-1 6-4 0-128 11-5-19-14-8 9-69 0 20-30 7-4zM45 168l0-56 111 0 0 56z"/><path id="g164" d="M30 9l-2 2 10 13 7 14 6 2 4-2 2-6-3-7-8-8zM98 188l0-6 66 0 0 8 11-3 2-1 0-36 8-3-16-12-6 8-64 0-14-7 0 55zM164 149l0 27-66 0 0-27zM98 102l0-3 64 0 0 5 6-1 6-3 0-24 8-3-15-12-7 8-61 0-13-7 0 43 10-2 11 20 6 2 4-2 2-4-2-6-7-6zM162 74l0 19-64 0 0-19zM178 115l-8 10-24 0 13-14 8-2-18-8-10 24-70 0 1 6 119 0 5-3zM175 18l-9 11-30 0 0-13 6-5-19-2 0 20-51 0 1 6 50 0 0 17-39 0 1 6 96 0 5-3-16-13-8 10-26 0 0-17 54-1 2-2zM50 187l0-92 17 21 5 1 4-2 0-5-3-6-8-7-14-6 18-32 9-3-15-14-8 8-46 0 2 6 44 0-20 41-29 36 3 3 5-4 24-24 0 84 7-1z"/><path id="g165" d="M39 70l0 100 3 12 4 3 15 4 84 0 32-2 12-4 0-6-7-4-1-35-2 0-8 31-5 6-103 2-6-1-5-4 0-53 53 0 0 12 11-3 2-2 0-48 9-4-16-12-7 8-50 0-13-6 13-20 103 0-3 62-4 22-6 7-27-1 0 3 16 5 3 10 6 0 15-8 4-6 5-24 5-68 8-3-16-13-8 8-97 0 9-20 8-3-20-8-21 47-26 37 3 2 28-27zM105 114l-53 0 0-38 53 0z"/><path id="g166" d="M64 72l2 6 65 0 5-3-16-13-8 10zM61 145l-2 1 8 14 4 16 6 3 5-3 2-6-1-8-8-9zM23 40l-2 2 14 11 9 15 7 1-21 21-25 18 2 3 20-10 32-25 13-15 20-31 8-3-15-13-8 8-47 0 2 6 44 0-20 35-7-12-15-8zM124 144l-13 37-100 0 2 6 175-1 2-3-18-15-10 13-45 0 20-26 7-4zM174 38l-27 28-17-17 32-21 7-1-16-11-26 29-11-18-8-19-3 2 7 22 22 37 14 15 34 24 5-7 8-5-23-12-22-15 33-19 7-1zM47 97l0 50 11-2 2-8 79 0 0 8 14-4 0-37 7-3-16-12-7 8-76 0-14-7zM60 131l0-29 79 0 0 29z"/><path id="g167" d="M34 8l-2 1 10 15 5 18 6 2 5-3 2-6-3-9-8-9zM77 36l-9 11-60 0 2 6 23 0-4 71-12 44-11 20 3 4 12-15 15-33 9-54 23 0-7 69-2 8-6 6-24-1-1 4 15 4 3 9 15-4 8-9 8-39 3-46 8-3-15-12-7 8-20 0 1-31 45 0 1-3zM175 29l-9 12-52 0 9-23 8-4-21-6-10 37-16 29 3 2 5-4 18-25 81 0 1-3zM171 108l-8 11-20 0 0-42 25 0-10 23 3 2 22-23 7-2-14-14-8 8-73 0 1 6 35 0 0 92-14-11-11-19 6-31 7-5-20-3-1 20-7 33-6 14-17 24 2 2 15-12 11-16 9-20 5 15 16 19 22 8 39 0 6-12-50-2 0-48 39 0 6-4z"/><path id="g168" d="M8 175l2 6 176 0 6-3-19-16-11 13-61 0 0-86 70 0 5-3-19-16-10 13-46 0 0-65 7-5-21-3 0 165z"/><path id="g169" d="M70 9l-2 1 9 14 6 16 6 2 5-3 1-5-2-8-8-9zM10 57l-2 2 14 12 5 11 6 1 4-3 1-6-3-6-9-7zM20 10l-2 2 12 11 9 14 7 1 4-3 1-6-4-7-10-7zM18 134l-8 0 0 5 9 2 3 7 1 39 5 4 4-1 5-6 1-14-5-28 1-8 23-79-4 0-29 72zM108 32l-8 11-49 0 2 6 17 0 0 40-4 39-5 21-18 41 2 2 13-16 16-36 8-52 18 0-4 73-2 8-5 6-23-1 0 4 14 4 3 9 14-4 7-9 5-22 3-67 8-3-15-12-8 8-15 0 0-33 40-1 2-2zM178 32l-9 11-31 0 11-25 7-3-20-6-9 32-13 33 2 3 19-28 58 0 1-3zM179 109l-8 11-12 0 0-19 7-5-7-1 23-16 8-1-14-14-8 8-43 0 2 6 39 0-12 17-7-1 0 26-30 0 2 6 28 0-1 50-24 0 0 3 15 4 3 9 13-3 5-6 1-57 31 0 4-3z"/><path id="g170" d="M174 109l-9 12-22 0 1-10 8-5-20-2-3 17-49 0 10-16 8-4-20-6-13 26-57 0 2 6 51 0-17 26 51 11-34 12-49 12 1 4 58-11 37-14 55 20 7 2 5-3 0-4-8-7-17-8-29-8 13-15 7-17 49-1 2-2zM106 157l-45-7 15-23 52 0-8 16zM158 54l0 34-32 0 0-34zM172 8l-9 12-149 0 2 6 55 0 0 22-29 0-14-6 0 62 11-2 2-8 117 0 0 8 11-2 2-2 0-42 8-3-16-13-7 8-30 0 0-22 62-1 2-2zM41 88l0-34 30 0 0 34zM113 54l0 34-29 0 0-34zM113 48l-29 0 0-22 29 0z"/><path id="g171" d="M87 8l-2 2 11 11 3 9 7 2 4-2 2-6-2-6-8-6zM174 101l-9 11-33 0 0-20 33 0 5-3-15-12-9 10-14 0 0-18 38-1 2-2-15-12-9 9-16 0 0-12 6-5-19-2 0 19-38 0 0-12 7-5-20-2 0 19-37 0 2 6 35 0 0 18-34 0 2 5 32 0 0 20-58 0 2 6 51 0-25 24-31 20 1 3 39-19 32-28 51 0 23 26 31 17 3-7 7-6-32-11-26-19 53-1 2-2zM81 112l0-20 38 0 0 20zM119 87l-38 0 0-18 38 0zM166 169l-9 11-51 0 0-26 39 0 5-3-15-13-8 10-21 0 0-17 7-5-20-2 0 24-41 0 1 6 40 0 0 26-75 0 2 6 158 0 5-3zM34 24l-4 0-1 11-5 10-13 12 1 4 6 4 8-3 6-6 4-17 133 0-7 17 2 2 21-17 8-2-16-15-8 9-133 0z"/><path id="g172" d="M72 9l-2 1 15 18 9 21 7 2 5-4 1-8-4-10-11-10zM43 146l-36 27 12 16 22-35 4-2 22 21 24 9 32 3 58 0 3-8 8-4 0-3-97 0-25-7-20-15 23-11 43-27 36-30 14-16 9-2-15-14-9 8-134 0 2 6 130 0-13 16-33 30-39 27z"/><path id="g173" d="M21 8l-2 2 14 15 10 17 6 1 4-3 0-7-4-8-10-9zM120 8l-2 2 8 13 4 16 6 2 4-2 3-6-2-8-7-8zM19 102l-8 3 11 10 5-4 24 0-16 42-17 25-11 11 2 3 21-17 16-21 19 20 25 10 36 3 59 0 2-8 6-3 0-3-101-1-25-7-10-6-8-9 15-38 8-2-14-13-8 8-20 0 27-37 12-3-16-14-7 8-36 0 2 6 33 0zM170 33l-9 12-63 0-3-2 11-24 7-4-20-7-14 43-17 36 3 2 18-24 0 101 11-3 2-12 88 0 5-3-17-15-9 12-23 0 0-28 36 0 5-3-15-14-9 11-17 0 0-27 36 0 5-4-15-13-9 11-17 0 0-28 41 0 5-3zM128 145l-32 0 0-28 32 0zM128 111l-32 0 0-27 32 0zM128 78l-32 0 0-28 32 0z"/><path id="g174" d="M58 9l-21 28-27 27 2 3 32-22 24-24 8-2zM86 27l2 6 92 0 5-3-17-15-9 12zM59 50l-22 36-31 35 2 3 6-4 26-22 0 94 13-5 0-97 6-3-6-3 17-21 8-2zM75 73l2 6 65 0 0 94-6 1-33-2 0 4 22 5 6 10 16-4 4-3 4-8 0-97 34 0 5-3-17-15-10 12z"/><path id="g175" d="M22 24l2 6 129 0-46 38-14-2 0 107-5 2-35-2 0 3 23 6 6 9 16-3 5-3 3-9 1-102 66-42 9-2-16-15-9 9z"/><path id="g176" d="M83 51l-22-5-8 55-7 25-10 24-12 21-15 18 2 2 19-18 14-20 12-23 9-24 10-52zM114 25l-20 0 2 6 24 0 9 67 7 28 11 26 14 21 18 19 5-8 10-6-21-16-16-21-12-23-9-26-10-57 15-6-19-14z"/><path id="g177" d="M8 180l2 6 177 0 5-3-18-14-9 11zM34 64l1 6 57 0 0 14-63 0 1 6 62 0 0 13-84 0 2 6 176 0 6-3-17-14-9 11-61 0 0-13 59 0 5-4-16-12-9 10-39 0 0-14 40 0 0 5 6-1 7-3 0-21 29 0 5-3-16-14-9 11-9 0 0-11 8-4-16-12-7 8-38 0 0-10 7-5-20-2 0 17-58 0 1 6 57 0 0 13-84 0 2 6 82 0 0 14zM105 50l40 0 0 14-40 0zM105 44l0-13 40 0 0 13zM143 147l0 15-86 0 0-15zM143 142l-86 0 0-14 86 0zM44 122l0 54 11-3 2-6 86 0 0 8 13-5 0-40 7-4-15-11-7 7-83 0-14-6z"/><path id="g178" d="M82 6l-2 2 12 12 7 15 6 1 5-3 1-6-4-7-9-8zM109 87l-3 2 12 13 7 14 6 2 4-2 1-6-3-7-9-8zM173 25l-10 13-154 0 2 6 175 0 5-3zM122 52l-21-6-15 46-20 38 3 2 4-4 19-25 11 24 15 22-27 23-35 18 2 3 38-16 29-21 25 20 33 15 5-8 8-4 0-2-35-12-28-17 24-31 15-37 9-2-15-14-9 8-49 0 6-16zM125 141l-17-20-13-23 10-20 53 0-13 34zM59 90l-8-3 18-31 8-3-19-8-23 45-26 35 2 2 5-4 24-23 0 92 13-4 0-95z"/><path id="g179" d="M173 16l-11 13-153 0 2 6 79 0-7 32-44 0-14-7 0 132 7-1 6-4 0-114 33 0 0 110 12-4 0-106 34 0 0 107 12-4 0-103 34 0 0 98-4 4-20-1 0 3 14 5 4 10 15-6 4-13 0-98 8-4-16-12-7 8-72 0 18-32 83-1 2-2z"/><path id="g180" d="M104 140l-2 2 35 22 28 26 8 0 3-5-4-10-12-12-22-12zM123 87l-2 1 17 16 14 17 7 1 4-4-1-7-5-8-13-9zM39 9l-3 1 12 16 7 17 6 3 5-3 2-7-3-9-10-10zM146 16l7-4-21-4-15 47-16 30-9 13 2 2 11-11 19-24 19-41 16 41 16 22 8 9 3-4 8-4 1-2-30-30-14-26zM87 36l-9 12-70 0 2 6 25 0-5 72-13 44-11 20 3 2 11-15 16-32 5-17 6-38 28 0-3 43-3 26-6 13-6 2-19-1 0 3 13 5 3 9 14-4 8-9 8-38 3-48 8-3-15-12-7 8-26 0 2-30 53-1 2-3z"/><path id="g181" d="M50 13l-12 43-19 34 3 1 10-9 18-26 44 0-4 43-80 0 2 6 77 0-13 33-11 14-14 13-19 12-24 11 2 3 28-10 22-12 16-14 13-15 8-17 6-18 2 0 11 30 9 16 14 15 18 14 23 12 4-8 9-3 1-3-25-10-20-11-15-13-12-13-13-26 78 0 5-3-18-16-11 13-59 0 3-43 62 0 5-3-19-15-10 12-37 0 0-33 7-5-21-3 0 41-41 0 10-27 8-4z"/><path id="g182" d="M100 71l-10-3-3-10 3-9 10-4 9 4 4 9-4 10zM103 161l-13-7-3-4 0-9 7-7 10 0 7 6 2 11-5 23-12 14-9 6-3-5 15-14z"/><path id="g183" d="M35 62l-16-6-4 44-7 4 14 10 6-6 27 0-3 33-7 29-5 5-25-1 0 3 14 5 3 9 15-4 8-8 9-32 3-38 8-2-14-13-8 8-26 0 3-34 24 0 0 12 13-4 0-47 9-4-16-13-8 8-39 0 2 6 39 0 0 36zM82 65l0 72 11-2 1-7 28 0 0 21-54 0 2 6 52 0 0 36 2 0 11-4 0-32 56-1 2-2-17-14-9 11-32 0 0-21 29 0 0 8 12-4 0-54 7-4-14-11-6 8-67 0zM135 122l0-20 29 0 0 20zM122 122l-28 0 0-20 28 0zM135 96l0-19 29 0 0 19zM122 96l-28 0 0-19 28 0zM146 49l0-24 23 0 0 24zM135 13l0 50 10-2 1-6 23 0 0 6 12-3 0-32 7-3-13-11-6 7-21 0zM90 49l0-24 24 0 0 24zM79 13l0 50 10-2 1-7 24 0 0 8 11-4 0-32 7-3-13-11-6 7-21 0z"/><path id="g184" d="M39 101l-9 17-16 11-2 3 3 6 4 1 11-4 8-10 4-15 0-9zM105 101l-2 1 7 9 7 19 6 1 5-6-3-10-8-8zM69 101l-3 1 3 12-1 10 1 5 6 3 7-5 1-9-5-9zM143 101l-1 2 19 14 12 15 4 3 8-1 1-9-8-10-11-7zM73 181l-25 0 0-39 25 0zM85 181l0-39 27 0 0 39zM124 181l0-39 26 0 0 39zM36 137l0 44-27 0 1 6 177 0 5-3-16-14-8 11-5 0 0-37 9-4-17-12-7 9-98 0-14-7zM31 68l2 6 60 0 0 16-80 0 1 6 170 0 6-3-18-15-10 12-56 0 0-16 44 0 0 7 6-1 7-4 0-24 25 0 5-3-17-14-9 12-4 0 0-13 9-4-17-13-7 8-42 0 0-9 7-6-20-2 0 17-61 0 2 6 59 0 0 16-85 0 2 5 83 0 0 16zM106 52l44 0 0 16-44 0zM106 47l0-16 44 0 0 16z"/><path id="g185" d="M181 24l-15-15-40 11-49 8 1 4 17-1zM83 38l-3 1 10 13 6 15 5 2 4-2 1-5-2-8-7-8zM114 33l-3 1 8 15 5 16 5 2 5-2 2-6-2-8-7-9zM169 62l-8 10-13 0 22-32 7-3-18-7-17 42-66 0 2 6 26 0-3 20-35 0 2 6 32 0-10 31-7 14-20 26-12 12 2 2 32-27 20-35 10 19 12 15-24 16-30 12 2 3 33-10 26-15 22 14 25 10 4-8 7-3 0-2-26-7-23-11 14-15 11-18 8-2-14-13-8 8-46 0 5-16 78-1 2-2-16-14-9 11-54 0 4-20 65-1 1-2zM109 126l45 0-20 29-14-13zM65 43l-8 11-8 0 0-38 7-5-20-3 0 46-27 0 2 6 25 0 0 42-28 11 8 17 4-6 16-10-1 59-25 0 0 3 15 5 4 10 13-3 6-7 1-76 26-17-1-3-25 11 0-36 26 0 5-4z"/><path id="g186" d="M173 13l-11 13-154 0 2 6 79 0 0 159 8-1 5-3 0-111 34 22 26 26 8 0 3-5-4-10-12-12-21-13-34-12 0-40 89-1 1-2z"/><path id="g187" d="M12 82l-2 2 12 10 8 13 6 2 4-3 1-6-4-7-9-6zM25 53l-2 2 24 24 6 1 3-3 1-6-5-6-10-7zM22 144l-9 0 0 4 9 3 4 5 1 32 4 4 8-3 3-9-5-29 2-9 32-67-4-1-39 66zM177 21l-9 11-23 0 0-17 6-5-19-2 0 24-27 0 1 6 26 0 0 19 7-1 6-3 0-15 47-1 1-2zM83 21l-9 11-9 0 0-17 6-5-19-2 0 24-45 0 2 6 43 0 0 20 8-1 5-3 0-16 29 0 5-3zM89 130l35-19 32 17-5 6-53 0zM118 54l-20-5-15 32-23 27 3 2 6-4 25-24 22 23-30 19-34 16 2 3 29-10 0 58 11-3 1-9 57 0 0 11 11-3 2-1 0-45 7-3-11-8 22 7 2-5 8-5 0-2-31-8-30-12 32-30 8-2-14-13-9 8-45 0 6-11zM95 140l57 0 0 34-57 0zM97 78l3-4 47 0-25 26z"/><path id="g188" d="M58 174l2 6 129 0 5-3-18-15-10 12zM158 33l0 48-66 0 0-48zM79 27l0 130 12-3 1-14 66 0 0 12 11-3 2-2 0-112 9-4-16-12-8 8-63 0-14-6zM92 134l0-47 66 0 0 47zM51 8l-19 56-25 46 3 2 4-4 20-28 0 111 14-4 0-119 6-3-9-3 19-43 8-4z"/><path id="g189" d="M117 11l-21-2 0 51-41 10 0-34 7-5-20-3 0 46-34 8 3 5 31-7 1 92 7 10 15 3 82 1 39-4 6-6-9-7 0-33-2 0-9 30-5 6-100 1-6-1-6-5 0-91 41-10 0 75 8-1 5-4 0-73 44-11-13 79 3 2 15-39 10-40 8-2-15-15-8 9-44 11 0-41z"/><path id="g190" d="M23 135l-4 0-1 20-11 22 4 6 10-5 4-10 1-14zM52 128l-3 1 8 16 4 18 5 2 4-3 2-5-2-9-6-9zM37 132l-3 1 4 20-1 21 5 3 5-2 2-7 1-10-4-12zM170 138l-2 2 7 13-25 1 27-30 8-2-14-8-7 12-17 1 18-19 7-2-14-8-10 19-11 8 6 14 18-7-15 18-7 4 6 14 4-4 27-7 1 6 4 2 3-1 1-11-5-7zM123 142l-3 1 6 11-24 2 30-32 7-3-13-8-8 14-16 0 17-19 7-3-14-7-10 19-10 9 6 13 16-6-15 17-7 5 6 13 29-10 0 8 4 2 5-5 0-7-4-7zM169 54l-2 1 7 12-23 1 28-31 8-3-14-8-7 13-17 0 18-20 7-3-14-8-10 21-11 10 6 13 4-4 13-3-14 18-8 4 7 14 3-3 25-7 1 7 4 2 6-6-2-6-5-7zM123 57l-2 1 5 11-22 1 29-32 8-2-13-9-8 13-17 0 18-21 7-3-14-7-10 20-11 9 6 14 18-7-16 20-8 4 7 14 3-3 24-7 1 9 4 2 6-6-1-7-5-7zM52 88l-3 1 9 21-36 2 26-28 19-28 8-1 0 119-6 4 14 9 5-7 101 0 5-3-15-12-8 9-84 0 0-78 99 0 5-3-15-12-8 10-81 0 0-75 6-5-18-2 0 45-17-11-12 24-24 0 32-47 7-3-18-8-17 39-11 17-4 2 7 17 5-5 19-5-23 31-9 7 6 17 5-4 38-10 2 12 5 3 4-3 1-6-1-9-6-12z"/><path id="g191" d="M114 94l-20-2 0 62 7-1 6-4 0-50 4-1zM174 110l-19-10-18 27-21 21-22 15-25 11-57 14 1 4 60-10 26-10 24-14 22-20 20-26zM75 106l-19-9-18 27-26 25 2 3 31-21 22-23zM174 68l-10 13-57 0 0-32 59 0 5-4-18-14-10 12-36 0 0-27 7-6-20-2 0 73-36 0 0-50 7-5-19-2 0 57-38 0 2 6 177 0 5-4z"/><path id="g192" d="M168 39l-11 14-51 0 0-37 4-1 4-5-21-2 0 45-79 0 2 5 67 0-19 38-12 18-29 33-16 14 2 3 18-12 32-29 13-16 21-35 0 70-44 0 2 6 42 0 0 43 3 0 10-4 0-39 44-1 1-3-17-15-9 13-19 0 0-83 9 21 22 36 13 16 28 25 5-8 9-5-16-10-30-25-25-33-11-18 75 0 1-3z"/><path id="g193" d="M13 54l1 6 125 0 6-3-18-15-9 12zM18 20l2 6 141 0 0 147-6 2-33-2 0 3 22 6 6 9 20-7 4-13 0-142 9-4-17-13-7 8zM104 92l0 47-59 0 0-47zM33 87l0 82 12-4 0-20 59 0 0 17 13-5 0-62 9-4-17-12-7 8-56 0-13-7z"/><path id="g194" d="M104 21l9 14 23 26 45 31 5-8 8-4 1-3-34-16-30-20-23-23 8-3-25-6-8 14-26 33-34 29-18 11 2 3 19-10 36-25 31-29zM125 62l-9 11-57 0 2 6 76 0 5-3zM60 140l-2 2 32 23 25 26 6 0 3-2 1-5-2-6-16-17 29-23 24-24 9-2-16-15-9 9-112 0 2 6 109 0-40 47-18-10z"/><path id="g195" d="M41 9l-2 2 11 15 8 16 6 2 4-3 2-6-3-8-10-9zM43 140l-6 19-17 19 2 6 13-2 11-15 2-17-1-10zM69 138l-3 1 3 18 0 19 5 3 5-2 3-6 0-9-4-11zM94 136l-2 2 8 14 4 16 6 2 5-2 2-6-2-8-7-9zM122 133l-2 2 13 13 6 10 6 1 3-3 1-5-3-7-9-6zM95 7l-14 44-61 0 2 6 56 0-29 52-27 30-15 13 2 2 7-4 30-26 127 0-6 34-8 16-7 2-26-2 0 4 17 5 4 9 11-2 9-4 8-12 7-20 4-28 8-3-15-12-7 7-13 0 5-27 6-2-12-11-6 6-12 0 6-26 6-2-12-11-6 6-40 0 13-34 8-4zM147 118l-95 0 21-28 79 0zM128 84l-51 0 15-27 42 0z"/><path id="g196" d="M166 37l-18-11-26 40 3 3 33-30zM174 22l-16-12-63 11-77 7 1 4 51-1zM32 36l-2 1 12 13 8 16 6 1 4-3 2-6-4-7-9-8zM79 33l-2 1 10 14 7 16 6 2 5-2 1-7-2-8-9-8zM105 136l0-27 44 0 0 27zM177 91l-9 12-6 0 0-26 8-4-16-12-7 8-118 0 2 6 61 0 0 28-84 0 1 6 83 0 0 27-64 0 2 6 62 0 0 32-6 2-33-2 0 3 23 5 5 9 16-3 7-7 1-39 44 0 0 13 13-4 0-42 26 0 6-4zM105 75l44 0 0 28-44 0z"/><path id="g197" d="M137 12l-20-2 0 48-39 0 2 6 36 0-2 25-4 23-8 21-12 20-17 19-23 16 3 4 27-17 19-18 14-21 9-22 7-50 42 0-3 52-5 37-7 18-8 3-29-2 0 3 20 6 4 10 15-3 8-6 5-8 7-30 5-78 9-3-16-13-7 8-39 0 0-40zM76 25l-9 12-56 0 1 6 30 0 0 88-35 10 11 16 4-5 75-36-1-3-42 14 0-84 34 0 5-3z"/><path id="g198" d="M101 54l1 6 51 0 5-3-14-12-8 9zM132 18l22 29 32 22 11-13-24-11-21-13-17-17 7-3-21-5-6 11-18 24-35 30 1 3 40-25zM96 79l67 0 0 14-67 0zM84 74l-1 36-3 31-11 31-9 15 3 2 10-11 13-23 9-37 68 0 0 9 13-5 0-41 6-4-14-11-7 8-63 0-14-7zM96 99l67 0 0 13-68 0zM95 136l0 55 12-4 0-9 59 0 0 12 13-4 0-42 8-3-16-13-7 8-56 0-13-6zM107 173l0-31 59 0 0 31zM5 113l7 16 4-5 20-9-1 59-24 0 0 3 15 5 4 10 12-4 6-6 1-74 27-15-1-3-26 9 0-39 22 0 5-3-15-14-8 11-4 0 0-38 7-5-20-3 0 46-28 0 2 6 26 0 0 43z"/><path id="g199" d="M51 14l-12 40-18 31 3 2 10-9 18-25 41 0 0 41-84 0 1 6 59 0-8 38-7 15-11 14-15 12-20 10 1 3 24-9 18-11 14-14 9-16 6-19 4-23 30 0 0 74 2 9 4 3 14 1 45 0 11-3 3-5-6-6 0-33-3 0-8 34-40 1-8-2-1-73 59 0 5-3-19-16-10 13-56 0 0-41 62 0 6-3-19-15-10 12-39 0 0-30 8-5-21-2 0 37-38 0 9-23 8-4z"/><path id="g200" d="M62 47l2 6 71 0 4-3-14-12-8 9zM104 18l9 9 24 15 44 16 4-7 8-4 0-3-32-6-30-10-23-12 8-4-24-4-7 9-26 20-51 24 1 3 54-20zM155 98l4-3 0-22 8-3-16-12-6 7-89 0-14-6 0 43 11-2 2-6 92 0 0 5 2 0-57 9-64 5 0 4 66-1 0 15-68 0 1 6 67 0 0 14-85 0 1 6 84 0-1 18-31-1 0 4 19 4 4 10 14-4 6-6 2-25 83-1 1-2-17-14-9 11-58 0 0-14 65-1 2-3-17-13-9 11-41 0 0-16 61-4zM55 88l0-17 92 0 0 17z"/><path id="g201" d="M41 10l-2 2 10 15 7 17 7 2 4-3 1-6-3-8-8-10zM88 38l-9 11-71 0 2 6 23 0-4 72-11 42-10 20 2 3 11-15 15-32 9-55 30 0-2 43-4 27-5 12-6 3-20-2 0 4 13 4 3 10 15-4 8-9 8-39 3-48 8-3-15-12-7 8-28 0 1-29 56-1 1-2zM143 13l-21-5-12 52-19 42 3 2 4-5 18-27 7 35 12 31-24 28-32 23 2 3 34-20 25-23 18 23 23 20 5-7 7-3 1-2-27-18-20-23 19-37 10-43 12 0 5-3-17-15-9 12-42 0 11-35zM123 59l38 0-7 36-14 33-15-40-5-22z"/><path id="g202" d="M80 160l-14-15-28 24-29 15 2 4 30-10 30-19zM121 151l-1 2 53 34 7-1 2-4-3-7-10-9-19-8zM171 17l-9 12-73 0 13-11 8-2-17-9-21 22-57 0 2 6 48 0-21 15-10 4 5 15 4-3 109-10 16 14 5 0 3-4-2-7-8-7-15-8-25-6-1 3 21 11-98 3 32-20 107-1 1-2zM64 72l-20-2 0 18-35 0 2 6 33 0 0 35 11-2 2-9 36 0 0 17-78 0 2 6 76 0 0 51 7-1 6-4 0-46 75 0 5-3-18-15-10 12-52 0 0-17 37 0 0 9 12-2 1-31 31 0 5-3-16-15-9 12-11 0 0-11 6-5-19-2 0 18-37 0 0-15 7-5-20-2 0 22-36 0 0-11zM93 94l0 18-36 0 0-18zM106 94l37 0 0 18-37 0z"/><path id="g203" d="M63 69l-2 1 7 12 1 9 5 3 4-2 3-4-1-6-6-7zM145 18l-3 1 10 13 5 16 6 2 4-3 2-5-3-8-7-8zM42 186l0-10 71 0 1-3-14-12-7 10-15 0 0-21 28 0 5-4-13-11-7 9-13 0 0-18 28 0 4-3-13-12-7 9-12 0 0-19 32 0 5-3-14-12-7 9-50 0-3-1 9-17 8-3-18-7-16 35-18 28 3 2 21-22 0 80 7-1zM66 171l-24 0 0-21 24 0zM66 144l-24 0 0-18 24 0zM66 120l-24 0 0-19 24 0zM174 49l-9 12-32 0-1-44 4-1 3-5-20-2 1 52-49 0 0-22 36 0 5-3-15-13-8 10-18 0 0-17 7-5-20-2 0 24-38 0 2 6 36 0 0 22-50 0 1 6 112 0 6 42 11 35-17 25-22 20 2 3 16-11 26-27 20 25 15 11 10 2 5-5-6-10 3-30-2 0-8 22-4 4-15-15-11-15 14-27 8-26 8-3-20-5-15 48-11-51-1-12 57-1 1-2z"/><path id="g204" d="M74 166l0-11 54 0 0 11 11-3 2-2 0-41 7-4-15-11-6 7-52 0-14-6 0 64zM128 118l0 31-54 0 0-31zM140 48l-8 10-26 0 0-17 6-4-19-2 0 23-43 0 1 5 42 0 0 24-40 0 1 6 99 0 2-3-16-13-8 10-25 0 0-24 47 0 2-3zM29 21l0 80-3 37-10 36-9 16 3 2 13-17 9-18 5-18 5-39 0-71 121 0 0 144-5 2-25-2 0 3 18 6 4 9 18-6 3-13 0-140 11-4-19-14-7 9-117 0-15-7z"/><path id="g205" d="M122 26l-8 10-20 0 8-18 7-3-18-7-8 28-19 0 2 6 15 0-12 26-4 1 5 15 4-3 40-10 2 11 5 2 5-2 1-6-1-8-7-9-13-10-3 2 9 16-37 3 16-28 44-1 2-2zM79 144l7 13 4-4 21-14-1 36-16 0 0 3 10 3 3 8 11-4 4-12 0-74 7-3-14-11-6 7-28 0-14-6 0 62-5 21-11 20 3 2 10-9 11-22 4-45 22 12 7-3-5-8-24-5 0-13 32 0 0 36zM168 57l-4 37-8 34-8-29-5-32 4-10zM164 13l-20-4-6 44-11 37 3 2 10-17 4 35 7 31-13 25-18 23 3 3 18-18 15-21 11 21 15 17 5-7 8-5-19-16-14-22 13-39 6-45 12 0 1-3-16-14-8 11-21 0 8-34zM54 42l-10 11 0-37 7-5-19-3 0 45-23 0 1 6 22 0 0 42-25 10 8 16 3-5 14-9-1 61-22-1 0 4 14 5 3 9 12-3 5-6 1-77 21-15-1-3-20 9 0-37 19 0 5-4z"/><path id="g206" d="M27 135l-3 0-5 22-12 19 0 7 3 2 7-1 9-13 3-16zM56 127l-3 1 8 15 5 17 5 2 4-2 1-6-1-8-7-10zM42 132l-3 0 3 20-1 22 5 3 4-2 3-7 1-10-4-12zM56 87l-3 1 9 21-39 3 29-29 22-30 8-2-18-11-15 27-27 0 18-23 15-23 7-3-18-9-18 39-11 16-4 2 6 17 5-3 23-7-25 34-11 6 6 18 6-5 42-13 2 12 5 2 4-2 2-7-2-9-6-11zM89 27l0 78 11-3 1-9 25 0 0 21-13-11-7 7-31 0 2 6 29 0-10 26-7 11-20 20-13 8 2 3 29-17 20-23 12-27 7-2-1 58-27 0 0 2 16 6 4 9 17-6 3-13 0-56 5 16 14 24 27 25 11-12-23-14-20-21 29-20 8-1-15-12 1-60 7-4-14-11-6 8-39 0 12-15 8-4-21-6-5 25-13 0zM138 103l0-10 24 0 0 10 11-2-23 29zM101 87l0-21 61 0 0 21zM101 60l0-21 61 0 0 21z"/><path id="g207" d="M104 9l-20 49-25 40 3 2 13-13 24-33 16 0 0 138 2 0 11-5 0-48 55 0 5-3-17-15-10 12-33 0 0-37 51 0 5-3-16-14-9 11-31 0 0-36 60 0 5-3-17-15-10 13-64 0 15-29 7-4zM57 8l-23 57-28 44 3 2 5-4 23-27 0 112 13-5 0-116 6-4-9-3 22-45 8-4z"/><path id="g208" d="M70 9l-2 2 22 16 16 19 8 1 3-5-1-7-7-10-15-9zM8 177l2 6 180-1 2-2-19-16-10 13-56 0 0-59 62 0 5-3-18-15-10 12-39 0 0-51 71 0 5-3-19-16-10 13-132 0 2 6 69 0 0 51-63 0 2 6 61 0 0 59z"/><path id="g209" d="M109 132l-19-9-17 32-20 26 3 2 8-6 23-24 14-19zM143 125l-2 2 21 24 17 26 6 2 4-4-1-9-6-12-15-14zM175 96l-9 12-36 0 0-29 26 0 0 10 13-4 0-56 7-3-14-12-7 8-62 0-15-6 0 75 12-2 1-10 26 0 0 29-60 0 1 6 59 0 0 78 8-1 5-4 0-73 61-1 1-2zM52 64l-8-3 19-42 8-4-21-6-20 55-25 44 3 2 5-4 20-26 0 112 13-5 0-119zM91 73l0-45 65 0 0 45z"/><path id="g210" d="M91 124l-2 2 13 16 9 18 6 2 4-3 1-7-4-9-10-9zM180 101l-8 11-13 0 0-14 7-5-20-2 0 21-76 0 1 6 75 0 0 58-5 2-29-2 0 3 20 5 5 9 14-4 7-6 1-65 31 0 6-3zM175 31l-9 11-31 0 0-27 6-5-19-2 0 34-47 0 2 6 45 0 0 31-39 0 2 6 100-1 2-2-16-14-9 11-27 0 0-31 55-1 2-3zM68 43l-8 11-8 0 0-38 7-5-20-3 0 46-29 0 1 6 28 0 0 45-32 10 7 17 4-6 21-10 0 57-4 1-24-1 0 3 16 5 5 10 13-3 6-7 1-71 30-16-1-3-29 10 0-41 26 0 5-3z"/><path id="g211" d="M87 8l-2 2 12 14 4 12 6 2 5-3 2-6-2-7-9-8zM139 62l-9 10-87 0 2 6 106 0 5-3zM34 29l-4 1-4 17-16 18 0 5 7 4 8-3 7-7 5-18 130 0-10 23 3 2 24-23 8-2-16-15-9 9-131 0zM168 95l-9 11-142 0 2 6 50 0-6 29-7 13-11 13-15 11-22 11 2 3 26-10 19-11 13-13 8-14 8-32 28 0 0 61 2 9 4 2 51 2 22-4 2-4-5-6-1-28-2 0-8 29-51-1-1-60 59-1 2-2z"/><path id="g212" d="M49 142l0 39-40 0 2 6 175 0 5-4-17-14-10 12-58 0 0-25 56 0 5-3-16-14-10 11-35 0 0-20 69-1 2-2-17-14-9 11-129 0 2 6 70 0 0 51-32 0 0-32 6-5zM18 44l0 36 10-2 2-5 16 0-17 23-23 18 2 3 23-13 19-16 0 29 11-2 1-32 15 10 11 12 6 0 3-3 0-6-5-6-12-6-18-4 0-7 21 0 0 6 12-4 0-24 6-3-13-11-6 7-20 0 0-13 43-1 1-2-15-13-9 10-20 0 0-10 7-5-19-2 0 17-40 0 1 6 39 0 0 13-19 0-13-6zM50 68l-20 0 0-18 20 0zM62 68l0-18 21 0 0 18zM127 9l-11 33-15 27 2 2 4-4 15-17 17 32-20 17-26 14 1 2 28-11 23-14 17 15 22 12 4-7 6-6-23-9-19-12 14-19 9-22 14 0 5-3-17-14-8 12-38 0 8-19 7-4zM144 75l-16-24-3-5 2-4 33 0-6 18z"/><path id="g213" d="M18 105l-4 2 7 18 16 28-13 19-18 16 2 3 20-14 15-17 25 16 32 8 83 2 2-7 7-3 0-3-70 0-35-3-28-10-11-7 12-29 7-32 7-3-14-12-7 8-20 0 25-49 10-3-15-14-8 8-38 0 2 6 36 0-24 49-7 3 12 10 6-5 22 0-5 29-9 27-12-18zM155 56l-29 0 0-20 29 0zM155 62l0 21-29 0 0-21zM180 45l-8 11-4 0 0-18 8-4-15-12-8 8-27 0 0-14 7-5-20-2 0 21-37 0 2 6 35 0 0 20-54 0 2 6 52 0 0 21-37 0 2 6 35 0 0 20-40 0 2 6 38 0 0 21-51 0 2 6 49 0 0 26 3 0 10-4 0-22 62-1 1-2-17-14-9 11-37 0 0-21 47 0 5-3-16-14-8 11-28 0 0-20 29 0 0 6 11-3 2-1 0-29 21 0 6-3z"/><path id="g214" d="M134 26l0 125 2 0 10-5 0-113 7-5zM170 12l0 159-1 4-4 1-23-2 0 3 16 5 4 10 13-4 7-10 0-158 7-6zM19 105l0 74 12-5 0-63 28 0 0 80 7 0 5-5 0-75 28 0-1 50-16-1 0 4 10 4 3 10 12-5 4-8 0-52 9-4-17-12-6 8-26 0 0-24 50 0 5-3-17-15-9 12-29 0 0-27 43 0 5-3-17-14-9 11-22 0 0-25 7-6-19-2 0 33-25 0 9-17 7-4-19-6-9 29-11 24 3 2 17-22 28 0 0 27-53 0 2 6 51 0 0 24-27 0-13-6z"/><path id="g215" d="M184 110l-20-2 0 60-58 0 0-77 48 0 0 10 11-2 2-65 7-5-20-2 0 58-48 0 0-68 7-5-20-3 0 76-47 0 0-51 8-5-21-2 0 57-6 4 15 10 5-7 46 0 0 77-57 0 0-54 8-5-21-2 0 60-5 5 15 10 5-8 126 0 0 16 7-1 6-4 0-70z"/><path id="g216" d="M165 10l-10 11-144 0 2 6 8 0 0 137 4 13 12 7 22 1 98 0 27-5 1-6-8-3-30 3-89 0-16-1-8-7-1-139 143 0 6-3zM156 145l-27 0 0-33 27 0zM129 158l0-7 27 0 0 9 12-4 0-43 8-3-15-11-6 7-25 0-13-6 0 62zM89 145l-28 0 0-33 28 0zM61 161l0-10 28 0 0 10 11-4 0-44 7-3-14-11-6 7-25 0-12-6 0 65zM134 79l-53 0 0-30 53 0zM81 92l0-7 53 0 0 8 10-2 2-2 0-39 8-3-15-12-7 8-50 0-14-6 0 59z"/><path id="g217" d="M67 54l2 6 60 0 5-4-15-11-8 9zM61 79l-2 2 8 14 3 10 5 2 4-1 2-5-2-7-6-7zM94 110l-46 0 0-33 46 0zM129 80l-13 30-10 0 0-33 46 0 0 33-31 0 18-21 7-4zM104 18l19 22 41 27 16 6 4-7 8-4 0-3-32-11-30-15-23-17 9-4-24-5-8 12-26 25-32 23-17 8 1 3 26-11 0 57 11-3 1-5 104 0 0 6 12-4 0-40 6-3-13-10-7 6-99 0-12-5 37-23zM49 129l0 62 11-2 2-7 76 0 0 9 13-5 0-49 7-3-15-12-7 7-73 0-14-6zM138 176l-76 0 0-18 76 0zM138 153l-76 0 0-18 76 0z"/><path id="g218" d="M164 109l-58 0 0-53 58 0zM113 11l-20-3 0 42-57 0-15-6 0 90 8-1 5-4 0-14 59 0 0 77 7-1 6-5 0-71 58 0 0 17 14-5 0-68 8-4-16-13-8 8-56 0 0-34zM34 109l0-53 59 0 0 53z"/><path id="g219" d="M19 135l-9 0 0 5 9 3 4 7 1 37 5 5 8-4 3-18-5-22 1-13 31-93-4-1-38 87zM10 56l-2 1 12 11 8 13 7 2 4-3 1-6-4-7-10-7zM25 11l-2 2 13 11 10 15 7 1 4-3 0-6-4-8-10-7zM182 52l-15-14-49 16-17-5 0 121-3 5-4 3 6 14 45-30-1-3-31 12 0-111 21-2 6 56 6 24 9 21 12 18 16 15 4-8 7-4 0-2-21-17-9-12-18-42 32-20 7 0-13-16-27 32-7-45zM184 22l-15-14-37 12-47 10-14-6 0 70-5 40-12 38-10 18 3 3 14-19 10-19 7-21 5-41 0-58z"/><path id="g220" d="M22 8l-2 2 11 15 7 17 6 2 5-3 1-7-3-8-9-9zM20 100l-8 3 11 10 5-4 20 0-15 43-17 26-10 12 2 2 20-18 16-22 17 22 24 10 33 3 70 0 4-9 4-2 0-2-110-1-23-8-10-7-7-10 14-38 8-2-13-13-8 8-16 0 24-36 9-2-14-13-7 7-34 0 2 6 32 0zM91 152l0-19 70 0 0 19zM91 164l0-6 70 0 0 8 13-4 0-27 7-4-15-11-6 7-69 0 0-14 64 0 0 6 6-1 6-4 0-22 8-4-15-11-7 7-61 0-13-6 0 90zM88 59l0-4 29 0 0 12-54 0 1 6 121 0 6-3-16-13-8 10-38 0 0-12 29 0 0 5 10-3 2-1 0-23 8-3-15-12-7 7-27 0 0-11 7-5-19-2 0 18-28 0-13-6 0 43zM117 31l0 18-29 0 0-18zM129 31l29 0 0 18-29 0zM91 107l0-17 64 0 0 17z"/><path id="g221" d="M21 8l-2 2 14 15 10 17 6 1 4-3 0-7-4-8-10-9zM19 102l-8 3 11 10 5-4 24 0-16 42-17 25-11 11 2 3 21-17 16-21 19 20 25 10 36 3 59 0 2-8 6-3 0-3-101-1-25-7-10-6-8-9 15-38 8-2-14-13-8 8-20 0 27-37 12-3-16-14-7 8-36 0 2 6 33 0zM135 10l-18-2 0 22-43 0 2 6 41 0 0 20-51 0 2 6 22 0 10 22 5 2 4-2 2-4-1-6-6-7-11-5 51 0-10 24-64 0 2 6 45 0 0 17-41 0 1 6 40 0 0 20-51 0 2 6 49 0 0 28 13-3 0-25 52 0 5-3-16-14-9 11-32 0 0-20 41 0 6-3-16-13-8 10-23 0 0-17 46 0 5-3-15-13-8 10-18 0 16-16 8-4-16-4 35 0 6-4-16-13-9 11-34 0 0-20 40 0 5-3-15-13-9 10-21 0 0-15z"/><path id="g222" d="M29 91l2 6 41 0-3 13-14 63-47 0 1 6 178 0 6-3-19-16-10 13-15 0 0-74 9-4-16-12-8 8-47 0 11-54 81-1 1-2-18-16-10 13-132 0 2 6 62 0-10 54zM68 173l18-76 50 0 0 76z"/><path id="g223" d="M70 18l-18-10-19 26-25 25 2 3 11-7 19-14 22-21zM81 111l-3 3 10 17-26 28 2 3 5-3 25-20 24 23-28 15-34 12 1 3 38-10 31-14 27 14 30 10 5-8 7-4 1-2-30-7-28-11 17-16 14-20 9-2-15-14-9 8-41 0 5-7 8-3-18-8 61-9 8 15 6 1 4-4 0-7-5-10-12-11-20-11-3 2 19 21-78 3 44-24 35-25 8-1-16-13-26 24-43 2 43-31 8-2-18-11-27 30-21 13 7 18 5-6 38-6-33 22-22 10 6 18 6-5 26-3-17 28zM99 134l10-12 44 0-11 18-15 15zM53 86l-7-3 17-23 8-2-19-10-19 35-27 34 3 2 26-23 0 96 7-1 5-4 0-97z"/><path id="g224" d="M122 141l-12-15-9-18 50 0zM174 91l-9 11-99 0 0-20 88 0 5-3-16-14-9 11-68 0 0-22 87 0 6-3-17-14-8 11-68 0 0-22 96 0 5-3-17-14-9 12-72 0-16-7 0 88-44 0 2 6 38 0 0 59-2 5-5 3 9 17 54-33-1-3-42 14 0-62 35 0 7 21 10 17 13 15 15 13 18 9 21 7 4-8 8-6-38-12-30-20 37-25 7-1-16-10 36-1 2-2z"/><path id="g225" d="M115 11l-21-3 0 43-48 0 0-26 8-6-21-2 0 33-7 4 16 10 6-7 108 0 0 8 12-2 1-39 8-5-21-2 0 34-49 0 0-35zM173 63l-9 11-119 0-16-6 0 55-3 27-10 26-8 13 2 2 13-12 14-28 5-29 0-42 142 0 5-3zM157 90l-9 11-91 0 1 6 46 0 0 31-58 0 1 5 57 0 0 49 12-3 1-46 62 0 6-3-17-14-10 12-41 0 0-31 54-1 2-2z"/><path id="g226" d="M78 90l-2 2 6 8 3 10 5 2 5-1 2-5-2-5-5-6zM18 135l-8 0 0 5 9 3 3 7 0 37 6 5 4-1 6-7 1-14-5-22 0-13 22-90-4-1-29 87zM9 56l-2 2 13 12 6 10 6 1 5-3 1-5-4-7-9-6zM20 9l-2 2 13 11 9 13 6 1 4-3 1-6-4-7-10-6zM117 102l-9 11-61 0 2 6 22 0-6 39-12 21-9 10 2 3 9-7 15-16 11-30 25 0-3 25-2 9-4 3-22-1 0 4 12 3 3 9 13-3 6-5 5-12 3-31 8-3-14-11-7 7-22 0 2-14 47-1 2-2zM160 12l-20-3-7 47-11 41 3 1 11-21 5 34 8 30-16 25-24 23 2 2 25-17 18-21 12 21 16 17 5-6 8-5-20-17-15-21 13-39 5-47 10 0 6-3-17-14-9 11-22 0 7-33zM165 56l-3 39-8 34-9-28-5-32 4-13zM72 96l0-7 35 0 0 7 11-4 0-51 9-4-15-11-7 7-18 0 9-16 7-5-19-3-3 24-8 0-12-6 0 73zM107 39l0 19-35 0 0-19zM72 83l0-19 35 0 0 19z"/><path id="g227" d="M163 19l-10 13-134 0 2 6 157 0 5-3zM145 84l-11 13-100 0 2 6 123 0 5-3zM173 155l-11 14-154 0 2 6 178 0 6-3z"/><path id="g228" d="M35 72l0 67 11-3 2-6 45 0 0 21-69 0 1 6 68 0 0 22-85 0 2 6 177 0 5-3-18-15-10 12-58 0 0-22 67 0 6-3-17-14-9 11-47 0 0-21 45 0 0 7 13-4 0-53 9-4-17-12-7 8-43 0 0-19 78 0 5-3-17-14-10 11-56 0 0-19 62-6-13-14-60 12-70 8 1 4 67-3 0 18-82 0 2 6 80 0 0 19-44 0-14-7zM93 124l-45 0 0-20 45 0zM106 124l0-20 45 0 0 20zM93 98l-45 0 0-20 45 0zM106 98l0-20 45 0 0 20z"/><path id="g229" d="M79 8l-3 2 16 18 10 20 7 2 5-4 0-7-4-10-11-11zM171 37l-11 14-150 0 2 5 30 0 0 108 3 11 10 5 18 2 79-1 22-5 0-6-8-3-24 2-76 0-9-2-1-5 0-106 129 0 6-3z"/><path id="g230" d="M104 19l9 15 23 27 46 34 4-7 8-4 1-3-34-18-30-22-23-24 8-4-24-6-8 15-27 34-34 31-17 12 2 3 18-10 36-27 31-31zM44 97l0 81-34 0 2 6 172 0 6-3-19-16-11 13-53 0 0-60 57 0 5-3-19-16-10 13-33 0 0-44 7-6-21-2 0 118-36 0 0-74 7-5z"/><path id="g231" d="M129 46l0 15-58 0 0-15zM40 79l1 6 116 0 5-3-15-12-7 9-35 0 0-13 24 0 0 6 12-4 0-21 6-3-14-11-6 7-55 0-13-6 0 39 10-3 2-4 22 0 0 13zM112 118l0 15-24 0 0-15zM78 113l0 33 9-2 1-5 24 0 0 6 10-3 0-23 6-3-12-9-5 6-22 0-11-6zM136 102l0 49-73 0 0-49zM52 96l0 72 10-3 1-8 73 0 0 9 12-4 0-59 6-3-13-11-7 7-69 0-13-6zM19 20l0 172 12-3 1-9 136 0 0 10 12-5 0-156 9-4-16-13-7 8-133 0-14-6zM168 174l-136 0 0-148 136 0z"/><path id="g232" d="M149 11l-21-2 0 118 7-1 6-5 0-105zM156 43l-3 1 17 26 10 28 7 2 5-4 1-9-5-14-12-15zM189 107l-20-9-12 25-14 20-15 16-18 12-42 17 1 4 46-14 20-11 17-15 15-19 13-24zM118 47l-20-5-12 41-16 34 3 2 15-19 13-23 10-26zM69 43l-8 11-9 0 0-38 8-5-20-3 0 46-33 0 1 6 32 0 0 41-34 14 8 16 4-5 22-14-1 60-4 2-26-2 0 4 18 5 4 10 14-3 6-7 1-77 28-18-1-3-27 12 0-35 27 0 5-3z"/><path id="g233" d="M137 27l0 119 2 0 10-4 0-108 7-5zM171 12l-1 162-28 0 0 4 17 4 4 10 13-4 7-10 0-159 7-5zM99 148l-3 1 13 17 7 19 6 2 4-3 2-7-4-9-9-10zM74 146l-11 22-17 21 2 3 21-17 16-18 7-2zM106 28l0 30-32 0 0-30zM62 22l0 126 11-3 1-7 32 0 0 6 6-1 6-3 0-110 8-4-15-12-7 8-29 0-13-6zM74 64l32 0 0 31-32 0zM74 101l32 0 0 31-32 0zM39 8l-15 54-19 45 3 2 19-29 0 111 12-4 0-119 6-4-9-3 16-43 7-4z"/><path id="g234" d="M11 100l3 24 9 21 14 18 18 14 21 9 24 3 24-3 21-9 18-14 14-18 9-21 3-24-3-24-9-21-14-18-18-14-21-9-24-3-24 3-21 9-18 14-14 18-9 21zM100 181l-21-3-20-8-16-13-13-16-8-20-3-21 3-21 8-20 13-16 16-13 20-8 21-3 21 3 20 8 16 13 13 16 8 20 3 21-3 21-8 20-13 16-16 13-20 8z"/><path id="g235" d="M21 8l-2 2 14 15 10 17 6 1 4-3 0-7-4-8-10-9zM104 105l7-4-19-7-10 30-17 28 3 2 22-23zM178 30l-19-7-19 44 3 2 5-5 22-31zM143 95l-2 2 15 24 11 25 7 2 4-4 0-8-4-11-12-14zM78 25l-3 1 12 19 8 20 6 2 4-3 1-7-4-9-8-12zM19 102l-8 3 11 10 5-4 24 0-16 42-17 25-11 11 2 3 21-17 16-21 19 20 25 10 36 3 59 0 2-8 6-3 0-3-101-1-25-7-10-6-8-9 15-38 8-2-14-13-8 8-20 0 27-37 12-3-16-14-7 8-36 0 2 6 33 0zM170 66l-9 11-30 0 0-57 7-5-20-3 0 65-49 0 2 6 47 0 0 84 8-1 5-3 0-80 53-1 1-2z"/><path id="g236" d="M176 15l-8 11-23 0 0-11 6-5-19-2 0 18-27 0 1 6 26 0 0 14 2 0 11-4 0-10 45-1 1-2zM83 15l-8 11-9 0 0-11 6-5-19-2 0 18-44 0 2 6 42 0 0 13 2 0 11-4 0-9 31-1 2-2zM173 61l-8 10-25 0 5-6-4-10-17-9-2 1 8 13 3 9 4 2-43 0 1 6 88 0 5-4zM33 186l0-13 39 0 0 12 11-2 2-2 0-42 7-4-15-12-7 8-37 0 0-22 35 0 0 8 13-3 0-38 7-3-15-12-6 8-18 0 11-14 7-5-21-4-4 23-8 0-13-7 0 128 7 0zM172 131l-9 11-18 0 0-26 46-1 2-2-16-13-8 10-17 0 16-25 8-4-20-4-9 33-24 0 5-6-4-13-16-14-2 1 7 14 3 16 4 2-32 0 1 6 43 0 0 26-38 0 1 6 37 0 0 44 13-4 0-40 37 0 6-3zM72 167l-39 0 0-30 39 0zM68 103l-35 0 0-28 35 0z"/><path id="g237" d="M26 8l-2 2 14 27 6 2 5-2 2-6-3-7-7-8zM66 36l-8 10-51 0 2 6 67 0 5-3zM60 88l-7 9-40 0 2 6 54 0 5-3zM60 62l-7 9-40 0 2 6 58 0 1-3zM86 21l-1 90-2 34-9 31-8 14 3 2 12-14 12-33 4-35 0-81 74 0 0 30-13-11-7 9-12 0 0-17 7-5-19-3 0 25-29 0 2 6 27 0 0 23-29 0 2 6 69 0 2-3-14-12-7 9-11 0 0-23 27 0 5-3 0 112-1 3-4 1-22-2 0 3 16 5 4 9 13-3 5-6 1-9 0-142 9-4-17-12-6 8-69 0-14-7zM119 144l0-31 27 0 0 31zM119 160l0-10 27 0 0 12 10-4 0-43 8-4-14-11-6 7-24 0-11-5 0 62zM55 168l-28 0 0-40 28 0zM27 186l0-12 28 0 0 9 12-4 0-49 8-4-15-11-7 7-25 0-13-6 0 74z"/><path id="g238" d="M165 21l-2 2 9 13 5 14 6 3 4-3 2-5-3-8-7-8zM90 11l-6 28-10 22 3 2 17-24 6 12 4 1 5-4-5-9-9-4 5-16 8-4zM122 11l-7 28-11 23 2 2 9-8 11-17 8 17 5 2 5-6-7-12-9-5 5-16 6-4zM155 140l-13 19-19 2 0-15 20 0 5-3-10-10-6 7-9 0 0-18 17 0 5-3-10-10-5 7-7 0 0-19 18 0 5-3-10-9-5 6-8 0 0-18 23 0 3 35zM8 24l2 5 21 0-8 47-16 41 3 2 16-25 14 22 7 1-15 39-23 32 2 3 18-17 14-19 10-21 7-22 9-44 2 5 17 0 0 18-18 0 2 6 16 0 0 19-18 0 1 6 17 0 0 18-21 0 1 6 20 0 0 18-33 2 7 17 5-4 72-16-28 25 2 3 26-18 19-22 9 20 9 13 9 6 8-1 0-7-3-6 3-31-3 0-9 25-8-12-7-19 18-44 8-3-19-6-11 37-1-8-3-42 29 0 5-3-16-14-9 11-9 0 0-49 7-6-20-2 1 57-75 0 5-2-14-13-7 8-17 0 6-31 34 0 6-3-17-14-9 12zM99 73l13 0 0 89-13 1zM36 66l20 0-6 41-10-11-12-6z"/><path id="g239" d="M23 8l-2 2 14 15 9 17 7 1 3-3 1-7-4-8-10-9zM110 6l-2 2 10 12 5 15 6 2 4-3 2-6-2-7-8-8zM172 29l-9 11-92 0 1 6 112 0 5-3zM159 52l-8 11-66 0 1 6 84 0 5-4zM160 76l-9 11-66 0 2 6 84 0 5-3zM21 101l-9 3 11 10 5-3 24 0-16 43-19 25-11 10 2 3 23-18 17-21 18 21 26 10 35 3 59 0 2-8 7-3 0-3-102-1-25-7-10-6-8-9 16-38 8-2-14-13-8 8-21 0 28-37 12-3-15-14-8 8-38 0 2 6 35 0zM98 148l0-32 59 0 0 32zM98 160l0-6 59 0 0 10 11-2 2-2 0-41 8-4-16-12-7 8-56 0-13-7 0 60z"/><path id="g240" d="M141 88l-17 27-22 23-24-23-17-27zM11 41l2 6 80 0 0 35-69 0 2 6 31 0 15 31 22 26-39 25-47 18 2 4 51-16 41-24 35 23 42 16 5-7 9-4 0-2-44-13-38-20 26-25 19-30 9-2-15-15-9 9-35 0 0-35 82-1 1-2-18-15-10 12-55 0 0-25 8-5-21-2 0 32z"/><path id="g241" d="M73 78l-2 3 18 17 15 24 3 3 7 0 2-11-8-14-17-14z"/><path id="g242" d="M90 163l-39 15-43 10 1 3 49-8 43-14 37 13 43 8 4-8 7-4 1-3-40-4-38-9 24-15 19-17 9-2-14-14-10 8-129 0 2 6 34 0 17 20zM102 157l-26-13-21-16 86 0-18 16zM174 22l-7 8-13 0 2-6-2-5-11-8-9-3-2 1 10 12 4 9-24 0-3-1 5-12 8-3-18-6-9 31-13 24 3 2 13-15 0 66 10-3 1-7 65 0 5-3-13-11-7 9-16 0 0-18 24 0 5-3-12-10-6 8-11 0 0-18 24 0 5-4-12-10-6 8-11 0 0-18 32 0 2-3zM86 22l-7 8-8 0 2-6-2-5-11-8-10-4-2 2 11 12 4 9-24 0 4-12 8-4-17-6-12 31-14 25 3 2 14-16 0 67 10-3 2-8 60 0 5-3-13-11-7 9-14 0 0-18 22 0 5-3-11-10-6 7-10 0 0-18 22 0 5-3-11-10-6 8-10 0 0-18 26 0 5-3zM141 101l-22 0 0-18 22 0zM141 78l-22 0 0-18 22 0zM141 54l-22 0 0-18 22 0zM57 101l-20 0 0-18 20 0zM57 77l-20 0 0-18 20 0zM57 54l-20 0 0-18 20 0z"/><path id="g243" d="M172 72l-10 13-59 0 2-52 72-1 2-2-19-15-10 12-126 0 2 6 64 0-1 44-1 8-76 0 2 6 74 0-11 37-10 17-15 16-19 14-26 14 2 3 30-13 22-14 17-16 12-18 7-19 5-21 11 36 9 18 14 17 19 16 25 14 4-8 9-3 1-2-27-12-20-14-16-14-12-16-13-32 83-1 2-3z"/><path id="g244" d="M127 55l-7 8-55 0 1 6 68 0 5-3zM127 34l-6 7-56 0 2 6 68 0 4-3zM134 158l-16 16-19 12 1 3 22-10 18-14 18 15 23 11 4-8 7-3 1-2-24-9-20-12 14-19 10-22 8-3-14-13-9 9-57 0 2 5 11 0 8 25zM140 150l-12-16-9-20 39 0-7 19zM173 73l-10 13-153 0 2 6 21 0 0 69-22 2 8 17 4-5 61-15 0 32 11-3 1-97 92-1 2-3zM45 160l0-20 39 0 0 15zM45 92l39 0 0 17-39 0zM45 134l0-19 39 0 0 19zM54 76l0-51 93 0 0 53 2 0 11-4 0-46 9-4-16-13-8 8-89 0-14-6 0 67z"/><path id="g245" d="M136 8l-3 1 10 16 4 18 6 3 5-3 2-6-2-9-8-10zM49 128l-21 0 0-36 21 0zM24 20l0 54 10-3 1-8 14 0 0 23-19 0-14-6 0 62 11-3 1-5 21 0 0 31-41 4 7 18 5-5 63-17 3 17 6 2 5-2 2-7-3-10-8-12-15-11-2 1 10 18-21 3 0-30 20 0 0 6 12-4 0-43 6-3-4-3 13-18 0 122 8-1 5-3 0-12 73 0 2-3-17-14-9 12-12 0 0-36 26 0 5-3-15-13-8 10-8 0 0-35 25 0 5-4-15-13-8 11-7 0 0-34 28 0 6-3-17-14-8 11-47-1 11-27 7-5-21-5-10 41-15 35-6-5-7 6-18 0 0-23 13 0 0 10 12-4 0-35 8-4-15-11-7 7-33 0zM60 128l0-36 20 0 0 36zM120 170l0-36 24 0 0 36zM120 128l0-35 24 0 0 35zM120 87l0-34 24 0 0 34zM73 57l-38 0 0-25 38 0z"/><path id="g246" d="M16 70l-2 1 11 18 7 20 6 3 4-3 1-7-3-9-8-12zM70 11l-20-2 0 41-42 0 2 6 40 0 0 55-44 33 13 14 2-7 29-34-1 58-23-1 0 3 14 5 4 10 12-4 6-6 1-64 14 17 11 17 6 2 4-4 1-6-5-10-12-11-19-10 0-2 30-31 8-1-17-12-21 38 0-49 39 0 5-3-16-14 7-4-3-11-19-11-2 1 12 23 5 2-9 11-19 0 0-34zM146 14l-22-6-11 50-18 40 3 2 19-26 7 33 10 30-23 28-33 24 2 3 34-20 26-24 18 24 24 20 5-7 7-3 1-2-28-18-20-24 18-36 11-43 12 0 5-3-17-15-9 12-40 0 12-35zM124 59l37 0-8 36-13 32-8-18-10-30-2-11z"/><path id="g247" d="M139 12l-20-2 0 166 4 7 8 3 53-1 4-2 3-5-6-6 0-31-3 0-8 32-34 1-8-3 0-90 48 0 5-3-17-15-9 13-27 0 0-58zM45 55l-20-2 0 117-17 4 11 18 4-5 87-36-1-3-34 9 0-75 32 0 6-4-17-15-9 13-12 0 0-58 8-6-21-2 0 150-24 7 0-107z"/><path id="g248" d="M71 20l-18-10-19 27-25 25 2 3 10-6 20-15 22-22zM93 16l0 30-5 19-12 18-11 8 2 3 15-8 18-20 6-21 0-21 36 0 0 48 2 9 11 3 22 0 14-5 0-5-6-3-30 0 0-45 7-3-15-13-7 8-31 0-16-7zM117 154l-28 20-33 15 1 3 37-13 31-18 25 18 31 12 5-7 8-6-33-9-27-15 21-23 16-26 9-2-15-14-10 8-85 0 1 6 19 0 12 29zM125 147l-18-19-12-25 60 0-13 24zM56 87l-7-3 17-22 8-2-19-10-21 36-29 34 3 2 5-3 24-22 0 96 8-1 5-4 0-97z"/><path id="g249" d="M69 82l77 0 0 24-77 0zM171 28l-9 12-74 0 9-23 8-3-21-6-11 32-61 0 2 6 57 0-26 45-22 27-14 11 3 3 16-12 28-28-2 60-8 27-7 12 3 2 18-24 7-27 79 0 0 31-5 2-25-2 0 3 18 6 4 9 18-6 3-13 0-87 10-5-18-13-7 9-75-1 16-29 103-1 1-2zM68 137l1-26 77 0 0 26z"/><path id="g250" d="M5 114l8 17 4-5 27-13 0 59-5 2-27-2 0 4 19 5 4 10 15-3 6-7 1-74 37-18-1-3-36 12 0-38 30 0 5-3-15-14-8 11-12 0 0-38 7-6-20-2 0 46-35 0 2 6 33 0 0 42zM78 32l2 6 61 0-1 133-5 2-32-2 0 3 22 6 5 10 16-4 7-7 1-10 0-131 34 0 6-3-18-15-9 12z"/><path id="g251" d="M126 125l-2 2 30 34-114 7 33-27 26-28 9-2-18-9 100-1 2-3-19-15-10 13-57 0 0-43 70 0 2-3-19-15-10 12-43 0 0-31 8-6-21-2 0 39-69 0 2 6 67 0 0 43-84 0 2 6 77 0-35 45-21 19-6 2 9 19 4-4 118-18 12 23 8 2 4-5-1-11-8-14-18-17z"/><path id="g252" d="M139 162l-1 4 25 11 15 12 7 2 4-2 1-6-6-7-16-7zM128 170l-15-10-23 15-28 14 2 3 11-3zM26 137l-3 0-3 21-11 19-1 4 4 5 11-5 4-10 2-15zM59 131l-3 1 8 17 3 18 5 2 4-2 2-6-1-9-6-10zM42 134l-3 1 3 20-1 22 5 3 5-2 3-7 0-10-3-12zM56 88l-3 2 9 21-39 3 26-29 21-29 8-2-18-12-13 25-25 0 18-22 15-24 8-3-19-9-17 39-12 17-4 2 7 17 4-4 21-5-19 26-9 11-5 2 6 17 5-4 43-12 2 13 5 2 4-2 2-7-2-9-6-11zM142 66l0 19-20 0 0-19zM152 66l21 0 0 19-21 0zM112 66l0 19-21 0 0-19zM79 54l0 44 9-1 0 69 11-2 1-6 63 0 0 6 11-2 1-2 0-51 8-3-15-11-7 7-59 0-13-6 2-5 82 0 0 5 6-1 6-3 0-24 7-3-15-11-6 7-78 0zM100 152l0-11 63 0 0 11zM100 135l0-11 63 0 0 11zM100 108l63 0 0 10-63 0zM166 35l-8 10-22 0 0-14 52 0 5-3-17-14-8 11-32 0 0-9 7-6-20-2 0 17-51 0 1 6 50 0 0 14-39 0 2 6 90 0 5-3z"/><path id="g253" d="M68 32l-2 2 15 19-55 3 36-37 8-2-19-9-20 33-13 13-5 2 7 17 4-4 60-12 5 14 6 2 4-3 1-7-4-10-10-11zM22 79l-2 77-6 23-6 11 3 2 11-13 7-16 4-16 5 11 4-5 36-19-1 40-20 0 0 3 12 4 4 10 11-3 6-10 0-89 9-4-17-12-6 8-39 0-15-7zM33 141l1-32 20 5 14 8 5-1 1-4-3-6-8-5-12-2-17 0 0-17 44 0 0 43zM130 101l-19-2 0 75 2 9 18 4 46-1 12-2 2-5-5-6-1-22-2 0-8 23-42 1-8-1-1-42 55 0 5-3-14-13-8 10-38 0 0-20zM130 12l-19-2 0 69 2 9 17 4 44 0 11-3 2-7-6-3-57 0 0-33 55 0 4-4-14-12-7 10-38 0 0-23z"/></defs><rect x="0" y="0" width="783" height="716" fill="#fff"/><polygon points="760,201.2 749.6,204.2 737.9,204.7 728,204.2 726.2,211.7 722.7,223.4 714.5,230.4 700.5,229.2 695.5,235 693.4,240.1 691.4,255.4 689.4,268.7 687.3,270.2 683.2,262.6 681.2,251.3 680.2,246.2 678.1,248.3 676.6,254.4 677.1,261.6 676.1,265.6 670,266.2 663.8,268.7 654.6,271.8 645.4,267.7 640.3,261.6 636.2,259.5 633.7,262.1 633.7,267.7 638.3,270.8 636.2,279.9 632.7,288.6 645.4,286.6 655.6,285 661.8,280.5 668.9,275.3 674,274.3 683.2,274.3 684.8,276.9 683.7,279.9 679.1,283 672,286.6 665.9,288.1 660.8,287.6 654.6,290.7 648.5,290.7 641.3,294.2 638.3,297.3 636.7,305 634.9,310 632.2,315.4 624.9,321.8 614,327.2 606.7,330.8 599.5,336.3 592.2,344.4 587.7,351.7 585.9,359 584.1,371.7 581.3,384.4 576.8,395.3 572.3,402.5 569.3,405.4 564.4,396.3 560.8,385.4 551.7,382.7 542.6,377.2 531.7,375.4 524.5,377.2 524.5,389 529.9,396.3 535.4,394.5 536.3,390.9 542.6,398.1 541.7,402.7 548.1,399 549.9,392.7 555.3,393.6 559,401.8 557.1,409 545.7,413.9 531.6,417.1 529.1,407.6 525.3,406.9 521.4,412 511.2,413.9 501,418.4 501,425.4 486.9,427.4 480.6,429.9 480.6,435.7 485,445.9 490,446.4 480,455 497.9,468.5 507.9,458.4 510.6,457.1 519.5,454 530.2,447.7 543.6,439.7 552.6,434.3 560,430.7 572.3,420 577.7,411.6 583.1,402.5 586.8,391.6 589.5,380.7 592.2,368 594,357.2 595.9,348.1 601.3,339.9 612.2,333.6 623.1,329.9 632.2,326.3 637.6,321.8 643,311.8 643.4,305 645.4,301.4 654.6,302.4 660.8,302.4 673,295.3 684.2,290.2 695.5,279.9 698.5,273.8 702.8,258.4 704,246.7 707.5,239.7 715.7,239.7 721.5,242 726.2,235 732,225.7 740.2,218.7 749.6,215.2 760,214" fill="#f6f2f6" stroke="none"/><polygon points="486,447 478,458 465,461.2 443.5,460.6 430.2,456.6 420.5,452 409,448.3 397.5,443.7 388.3,439.1 380.2,433.3 371,424.1 363,414.9 357.2,406.9 351.5,402.9 349.2,400 335,385 331,372 326,362 320.5,356.9 312.1,356.2 303.7,357.6 292.4,361 284,359.7 279.1,355.5 279.8,351.3 288.2,343.6 296.6,337.9 301.6,333 300.9,327.4 295.2,324.6 284,325.3 274.2,327.4 264.3,330.2 253.1,328.1 241.9,322.5 233.4,318.3 229,318 228,325 233.4,323.9 241.9,328.1 250.3,333.7 258.7,337.9 267.1,337.2 279.8,336.5 283.3,340.7 279.8,345 272.8,350.6 270,356.2 272.1,361.8 279.8,366 291,367.4 303.7,367.4 312.1,366 316.3,371.6 320.5,378.7 323.3,387.1 329,395.5 335,400 340,405.7 345.7,408 353.8,414.9 363,426.4 369.9,436.8 376.8,444.8 386,448.3 394,452.9 409,457.5 420.5,461.5 430.2,464.7 445.5,470.3 453.7,470.3 462.9,468.8 471.1,466.8 483.3,464.7 490,463.5 497.9,468.5" fill="#f6f2f6" stroke="none"/><polygon points="222,320 212.5,340 200,357.5 190,370 175,377.5 160,383 150,390 148.8,397.5 155,403.8 170,408.8 176.3,415 170,422.5 150,427.5 130,436.3 115,440 107.5,452.5 95,465 82.5,477.5 73.5,490 68.7,495.9 63.8,501.2 55.9,502.2 49.1,503.7 43.7,504.2 41.3,500.8 37.4,500.3 29.6,504.2 22.7,506.1 20.7,506.1 20.7,513 22.7,513 28.6,515.4 34.4,514.9 42.3,512.5 47.1,511 53.5,511.5 51.1,518.3 49.1,526.2 49.1,533 46.2,535.5 42.3,534.5 38.3,529.1 32.5,527.1 25.2,526.2 17.8,524.7 17.8,615.4 25.5,614.1 40.9,607.7 46,601.3 49.8,596.2 52.4,584.7 63.3,583.4 63.9,570.7 60.8,560 59.9,544.7 56.9,531.1 57.9,525.2 58.9,519.3 61.8,512 70.6,502.7 80.4,493.9 90,477.5 105,465 117.5,452.5 127.5,442.5 147.5,435 167.5,428.8 180,422.5 182.5,413.8 175,405 160,399 162.5,392 177.5,381.3 190,373.8 202.5,362.5 215,347.5 230,326" fill="#f6f2f6" stroke="none"/><polygon points="507.9,458.4 505.7,474.3 503.3,491.9 499.9,503.7 494.7,513.7 491.4,529.4 491.4,542.8 500.3,549.5 511.5,554 524.9,549.5 538.3,545 544.2,536 546.3,524 554,522.6 568,523.3 579.3,521.2 584.9,519.1 593.3,517 597.5,515 602.7,511.8 605.2,506.8 610.3,506.8 623.7,513.5 637.9,521.8 633.7,525.2 625.4,528.5 620.3,533.6 613.6,538.6 611.1,543.6 612,553.7 614.5,556.2 620.3,548.7 627,543.6 630.4,548.7 633.7,560.4 633.7,570.4 630.4,577.1 627,583 625.4,573 617,572.1 612,575.5 611.1,587.2 606.9,578.8 605.2,572.1 600.2,566.3 596.9,567.1 591.8,573 583.5,573.8 582.6,577.1 588.5,583.8 591,590.6 591.8,598.9 585.1,597.3 573.4,600.6 568.4,604 587.5,615 602.5,622.5 605,628.8 595,635 572.5,631.3 552.5,630 530,633.8 522.5,625 510,625 505,622.5 517.5,610 503.8,610 490,613.8 488.8,605 491.3,595 486.3,586.3 482.5,582.5 485,575 488.8,567.5 485,566.3 482.5,572.5 477.5,573.8 472.5,567.5 472.5,550 472.4,538.3 473.5,524.9 479.1,513.7 484.7,507 488,498 493,491 497.9,468.5" fill="#f6f2f6" stroke="none"/><polygon points="646.7,175 650.2,164.5 656,162.2 663,162.2 670,156.4 681.8,152.9 691,152.9 695.8,155.2 702.8,155.2 702.8,162.2 698,168 695.8,171.5 697,179.7 694.6,184.4 691.1,180.9 684,182 677,185.6 670,186.7 663,193.8 659.6,195 655,188 650,183.2" fill="#f6f2f6" stroke="#000" stroke-width="1.1"/><polygon points="227.8,378.7 233.4,368.8 239,370.2 243.3,366 248.9,360.4 254.5,361.8 257.3,370.2 250.3,378.7 247.5,384.3 248.9,392.7 251,400 255.4,410.3 254,424.2 248.4,420 244.2,408.9 238.7,415.9 234.5,404.7 228.9,394.9 226.1,385.1" fill="#f6f2f6" stroke="#000" stroke-width="1.1"/><polygon points="260.1,381.5 264.3,375.9 268.6,374.5 270,378.7 273.5,382.9 267.1,385.7 269.4,396.3 265.2,401.9 261,393.5" fill="#f6f2f6" stroke="#000" stroke-width="1.1"/><polygon points="172.5,351.3 180,347.5 191.3,348 190,353.8 180,356.3 172.5,355" fill="#f6f2f6" stroke="#000" stroke-width="1.1"/><polygon points="190,395 196.3,390 202.5,400 201.3,410 195,408.8 191.3,402.5" fill="#f6f2f6" stroke="#000" stroke-width="1.1"/><polygon points="190,420 200,417.5 205,422.5 202.5,432.5 193.8,433.8 190,427.5" fill="#f6f2f6" stroke="#000" stroke-width="1.1"/><polygon points="128.8,426.3 137.5,422.5 143.8,425 140,428.8 130,431.3" fill="#f6f2f6" stroke="#000" stroke-width="1.1"/><polygon points="70,437.5 75,432.5 81.3,435 87.5,442.5 92.5,452.5 90,462.5 82.5,468.8 72.5,468.8 65,460 65,452.5 70,445" fill="#f6f2f6" stroke="#000" stroke-width="1.1"/><polygon points="605.8,264.3 612.9,265.4 617.5,277.1 621,287.6 626.9,293.5 632.7,298.2 617.5,304 610.5,298.2 608.2,291.1 603.5,283 604.7,270.1" fill="#f6f2f6" stroke="#000" stroke-width="1.1"/><polygon points="645.8,313.6 652.1,310.9 659.4,310 661.2,315.4 659.4,322.7 662.1,331.7 659.4,339 655.7,342.6 652.1,340.8 650.3,337.2 644.9,331.7 643,322.7" fill="#f6f2f6" stroke="#000" stroke-width="1.1"/><path d="M492,209 C493.33,209.8 496.17,212.8 500,213.8 C503.83,214.8 510.42,214.38 515,215 C519.58,215.62 524.37,216.45 527.5,217.5 C530.63,218.55 531.72,221.3 533.8,221.3 C535.88,221.3 537.3,218.97 540,217.5 C542.7,216.03 546.67,214.37 550,212.5 C553.33,210.63 557.08,207.97 560,206.3 C562.92,204.63 565.83,204.05 567.5,202.5 C569.17,200.95 568.33,198.67 570,197 C571.67,195.33 574.58,194.5 577.5,192.5 C580.42,190.5 584.58,187.5 587.5,185 C590.42,182.5 592.08,179.37 595,177.5 C597.92,175.63 600.83,174.63 605,173.8 C609.17,172.97 615.42,172.08 620,172.5 C624.58,172.92 628.75,175.47 632.5,176.3 C636.25,177.13 640.13,177.78 642.5,177.5 C644.87,177.22 646,175.08 646.7,174.6" fill="none" stroke="#000" stroke-width="1.1"/><path d="M694.6,184.4 C693.43,185.97 688.95,190.3 687.6,193.8 C686.25,197.3 685.72,201.9 686.5,205.4 C687.28,208.9 690.17,210.9 692.3,214.8 C694.43,218.7 698.13,226.47 699.3,228.8" fill="none" stroke="#000" stroke-width="1.1"/><path d="M179.6,205.5 C178.67,207.27 177.27,212.47 174,216.1 C170.73,219.73 162.82,224.73 160,227.3 C157.18,229.87 158.28,227.98 157.1,231.5 C155.92,235.02 154.87,244.32 152.9,248.4 C150.93,252.48 146.8,252.03 145.3,256 C143.8,259.97 142.98,267.18 143.9,272.2 C144.82,277.22 146.85,282.38 150.8,286.1 C154.75,289.82 162,291.7 167.6,294.5 C173.2,297.3 178.17,300.1 184.4,302.9 C190.63,305.7 199.07,308.87 205,311.3 C210.93,313.73 216,316.22 220,317.5 C224,318.78 227.5,318.75 229,319" fill="none" stroke="#000" stroke-width="1.1"/><path d="M22.1,342.5 C26.55,342.08 41.32,340.2 48.8,340 C56.28,339.8 59.72,340.48 67,341.3 C74.28,342.12 86.83,343.5 92.5,344.9 C98.17,346.3 97.37,348.68 101,349.7 C104.63,350.72 107.63,351.8 114.3,351 C120.97,350.2 136.13,347.33 141,344.9 C145.87,342.47 141.88,339.43 143.5,336.4 C145.12,333.37 147.07,329.33 150.7,326.7 C154.33,324.07 162.5,321.72 165.3,320.6 C168.1,319.48 166.92,321.35 167.5,320 C168.08,318.65 166.72,315 168.8,312.5 C170.88,310 178.13,306.25 180,305" fill="none" stroke="#000" stroke-width="1.1"/><path d="M251.1,626.8 C251.52,624.68 253.18,618.35 253.6,614.1 C254.02,609.85 252.75,605.98 253.6,601.3 C254.45,596.62 256.57,589.4 258.7,586 C260.83,582.6 263.83,581.55 266.4,580.9 C268.97,580.25 271.55,581.47 274.1,582.1 C276.65,582.73 280,585.33 281.7,584.7 C283.4,584.07 283.65,581.07 284.3,578.3 C284.95,575.53 284.32,570.23 285.6,568.1 C286.88,565.97 289.67,565.72 292,565.5 C294.33,565.28 297.05,566.37 299.6,566.8 C302.15,567.23 303.47,568.52 307.3,568.1 C311.13,567.68 317.08,565.58 322.6,564.3 C328.12,563.02 334.45,561.68 340.4,560.4 C346.35,559.12 353.18,557.02 358.3,556.6 C363.42,556.18 366.42,556.83 371.1,557.9 C375.78,558.97 381.3,560.87 386.4,563 C391.5,565.13 397.02,568.15 401.7,570.7 C406.38,573.25 411.08,576.18 414.5,578.3 C417.92,580.42 419.22,581.9 422.2,583.4 C425.18,584.9 428.15,586.87 432.4,587.3 C436.65,587.73 442.6,586.65 447.7,586 C452.8,585.35 457.88,584.25 463,583.4 C468.12,582.55 474.98,581.53 478.4,580.9 C481.82,580.27 482.65,579.82 483.5,579.6" fill="none" stroke="#000" stroke-width="1.1"/><path d="M489,612 C488.08,613.62 485.7,618.8 483.5,621.7 C481.3,624.6 477.38,626.35 475.8,629.4 C474.22,632.45 475.8,635.73 474,640 C472.2,644.27 468.1,650.8 465,655 C461.9,659.2 457.85,661.38 455.4,665.2 C452.95,669.02 451.15,671.95 450.3,677.9 C449.45,683.85 450.3,697.07 450.3,700.9" fill="none" stroke="#000" stroke-width="1.1"/><polyline points="760,201.2 749.6,204.2 737.9,204.7 728,204.2 726.2,211.7 722.7,223.4 714.5,230.4 700.5,229.2 695.5,235 693.4,240.1 691.4,255.4 689.4,268.7 687.3,270.2 683.2,262.6 681.2,251.3 680.2,246.2 678.1,248.3 676.6,254.4 677.1,261.6 676.1,265.6 670,266.2 663.8,268.7 654.6,271.8 645.4,267.7 640.3,261.6 636.2,259.5 633.7,262.1 633.7,267.7 638.3,270.8 636.2,279.9 632.7,288.6 645.4,286.6 655.6,285 661.8,280.5 668.9,275.3 674,274.3 683.2,274.3 684.8,276.9 683.7,279.9 679.1,283 672,286.6 665.9,288.1 660.8,287.6 654.6,290.7 648.5,290.7 641.3,294.2 638.3,297.3 636.7,305 634.9,310 632.2,315.4 624.9,321.8 614,327.2 606.7,330.8 599.5,336.3 592.2,344.4 587.7,351.7 585.9,359 584.1,371.7 581.3,384.4 576.8,395.3 572.3,402.5 569.3,405.4" fill="none" stroke="#000" stroke-width="1.1" stroke-linejoin="round"/><polyline points="569.3,405.4 564.4,396.3 560.8,385.4 551.7,382.7 542.6,377.2 531.7,375.4 524.5,377.2 524.5,389 529.9,396.3 535.4,394.5 536.3,390.9 542.6,398.1 541.7,402.7 548.1,399 549.9,392.7 555.3,393.6 559,401.8 557.1,409 545.7,413.9 531.6,417.1 529.1,407.6 525.3,406.9 521.4,412 511.2,413.9 501,418.4 501,425.4 486.9,427.4 480.6,429.9 480.6,435.7 485,445.9 490,446.4" fill="none" stroke="#000" stroke-width="1.1" stroke-linejoin="round"/><polyline points="490,446.4 508.8,443.7 511.4,442.3 514.1,436.5 521.3,432.1 530.2,427.6 540.9,426.7 545.4,423.6 549,420.9 557.2,417.8 562.3,413.9 566,409" fill="none" stroke="#000" stroke-width="1.1" stroke-linejoin="round"/><polyline points="495.4,452.2 507.9,448.6 524,440.6 534.7,435.2 545.4,429.8 554.3,425.4 560,422.7 570,416" fill="none" stroke="#000" stroke-width="1.1" stroke-linejoin="round"/><polyline points="760,214 749.6,215.2 740.2,218.7 732,225.7 726.2,235 721.5,242 715.7,239.7 707.5,239.7 704,246.7 702.8,258.4 698.5,273.8 695.5,279.9 684.2,290.2 673,295.3 660.8,302.4 654.6,302.4 645.4,301.4 643.4,305 643,311.8 637.6,321.8 632.2,326.3 623.1,329.9 612.2,333.6 601.3,339.9 595.9,348.1 594,357.2 592.2,368 589.5,380.7 586.8,391.6 583.1,402.5 577.7,411.6 572.3,420 560,430.7 552.6,434.3 543.6,439.7 530.2,447.7 519.5,454 510.6,457.1 507.9,458.4" fill="none" stroke="#000" stroke-width="1.1" stroke-linejoin="round"/><polyline points="507.9,458.4 505.7,474.3 503.3,491.9 499.9,503.7 494.7,513.7 491.4,529.4 491.4,542.8 500.3,549.5 511.5,554 524.9,549.5 538.3,545 544.2,536 546.3,524 554,522.6 568,523.3 579.3,521.2 584.9,519.1 593.3,517 597.5,515 602.7,511.8 605.2,506.8 610.3,506.8 623.7,513.5 637.9,521.8 633.7,525.2 625.4,528.5 620.3,533.6 613.6,538.6 611.1,543.6 612,553.7 614.5,556.2 620.3,548.7 627,543.6 630.4,548.7 633.7,560.4 633.7,570.4 630.4,577.1 627,583 625.4,573 617,572.1 612,575.5 611.1,587.2 606.9,578.8 605.2,572.1 600.2,566.3 596.9,567.1 591.8,573 583.5,573.8 582.6,577.1 588.5,583.8 591,590.6 591.8,598.9 585.1,597.3 573.4,600.6 568.4,604 587.5,615 602.5,622.5 605,628.8 595,635 572.5,631.3 552.5,630 530,633.8 522.5,625 510,625 505,622.5 517.5,610 503.8,610 490,613.8" fill="none" stroke="#000" stroke-width="1.1" stroke-linejoin="round"/><polyline points="490,613.8 488.8,605 491.3,595 486.3,586.3 482.5,582.5 485,575 488.8,567.5 485,566.3 482.5,572.5 477.5,573.8 472.5,567.5 472.5,550 472.4,538.3 473.5,524.9 479.1,513.7 484.7,507 488,498 493,491 497.9,468.5" fill="none" stroke="#000" stroke-width="1.1" stroke-linejoin="round"/><polyline points="497.9,468.5 490,463.5 483.3,464.7 471.1,466.8 462.9,468.8 453.7,470.3 445.5,470.3 430.2,464.7 420.5,461.5 409,457.5 394,452.9 386,448.3 376.8,444.8 369.9,436.8 363,426.4 353.8,414.9 345.7,408 340,405.7 335,400 329,395.5 323.3,387.1 320.5,378.7 316.3,371.6 312.1,366 303.7,367.4 291,367.4 279.8,366 272.1,361.8 270,356.2 272.8,350.6 279.8,345 283.3,340.7 279.8,336.5 267.1,337.2 258.7,337.9 250.3,333.7 241.9,328.1 233.4,323.9 228,325" fill="none" stroke="#000" stroke-width="1.1" stroke-linejoin="round"/><polyline points="229,318 233.4,318.3 241.9,322.5 253.1,328.1 264.3,330.2 274.2,327.4 284,325.3 295.2,324.6 300.9,327.4 301.6,333 296.6,337.9 288.2,343.6 279.8,351.3 279.1,355.5 284,359.7 292.4,361 303.7,357.6 312.1,356.2 320.5,356.9 326,362 331,372 335,385 349.2,400 351.5,402.9 357.2,406.9 363,414.9 371,424.1 380.2,433.3 388.3,439.1 397.5,443.7 409,448.3 420.5,452 430.2,456.6 443.5,460.6 465,461.2 478,458 486,447" fill="none" stroke="#000" stroke-width="1.1" stroke-linejoin="round"/><polyline points="222,320 212.5,340 200,357.5 190,370 175,377.5 160,383 150,390 148.8,397.5 155,403.8 170,408.8 176.3,415 170,422.5 150,427.5 130,436.3 115,440 107.5,452.5 95,465 82.5,477.5 73.5,490 68.7,495.9 63.8,501.2 55.9,502.2 49.1,503.7 43.7,504.2 41.3,500.8 37.4,500.3 29.6,504.2 22.7,506.1" fill="none" stroke="#000" stroke-width="1.1" stroke-linejoin="round"/><polyline points="230,326 215,347.5 202.5,362.5 190,373.8 177.5,381.3 162.5,392 160,399 175,405 182.5,413.8 180,422.5 167.5,428.8 147.5,435 127.5,442.5 117.5,452.5 105,465 90,477.5 80.4,493.9 70.6,502.7 61.8,512 58.9,519.3 57.9,525.2 56.9,531.1 59.9,544.7 60.8,560 63.9,570.7 63.3,583.4 52.4,584.7 49.8,596.2 46,601.3 40.9,607.7 25.5,614.1" fill="none" stroke="#000" stroke-width="1.1" stroke-linejoin="round"/><polyline points="22.7,513 28.6,515.4 34.4,514.9 42.3,512.5 47.1,511 53.5,511.5 51.1,518.3 49.1,526.2 49.1,533 46.2,535.5 42.3,534.5 38.3,529.1 32.5,527.1 25.2,526.2" fill="none" stroke="#000" stroke-width="1.1" stroke-linejoin="round"/><path d="M176.9,14.6 C177.28,16.27 178.68,19.37 179.2,24.6 C179.72,29.83 179.87,38.85 180,46 C180.13,53.15 179.92,62.17 180,67.5 C180.08,72.83 179.83,73.92 180.5,78 C181.17,82.08 182.95,88.1 184,92 C185.05,95.9 186.33,98.93 186.8,101.4 C187.27,103.87 186.93,103.1 186.8,106.8 C186.67,110.5 186.55,118.02 186,123.6 C185.45,129.18 184.33,135.27 183.5,140.3 C182.67,145.33 182.12,148.77 181,153.8 C179.88,158.83 177.92,165.2 176.8,170.5 C175.68,175.8 174.87,181.12 174.3,185.6 C173.73,190.08 173.55,193.33 173.4,197.4 C173.25,201.47 173.37,204.65 173.4,210 C173.43,215.35 175.07,224.02 173.6,229.5 C172.13,234.98 166.28,239.17 164.6,242.9 C162.92,246.63 163.13,248.55 163.5,251.9 C163.87,255.25 164,259.28 166.8,263 C169.6,266.72 175.07,270.83 180.3,274.2 C185.53,277.57 192.62,279.83 198.2,283.2 C203.78,286.57 209.85,290.18 213.8,294.4 C217.75,298.62 220.23,302.57 221.9,308.5 C223.57,314.43 223.7,321 223.8,330 C223.9,339 223.33,353.33 222.5,362.5 C221.67,371.67 219,377.08 218.8,385 C218.6,392.92 220.08,400.2 221.3,410 C222.52,419.8 225.53,435.83 226.1,443.8 C226.67,451.77 226.8,454.53 224.7,457.8 C222.6,461.07 218.15,461.53 213.5,463.4 C208.85,465.27 202.38,467.15 196.8,469 C191.22,470.85 183.63,473.08 180,474.5 C176.37,475.92 178.33,475.75 175,477.5 C171.67,479.25 164.17,482.7 160,485 C155.83,487.3 153.75,489.63 150,491.3 C146.25,492.97 141.67,493.55 137.5,495 C133.33,496.45 129.58,497.5 125,500 C120.42,502.5 115.83,507.08 110,510 C104.17,512.92 97.08,515.42 90,517.5 C82.92,519.58 71.67,520.83 67.5,522.5 C63.33,524.17 64.58,524.17 65,527.5 C65.42,530.83 68.7,536.17 70,542.5 C71.3,548.83 72.97,556.55 72.8,565.5 C72.63,574.45 70.28,588.53 69,596.2 C67.72,603.87 67.45,606.6 65.1,611.5 C62.75,616.4 56.6,623.25 54.9,625.6" fill="none" stroke="#62738b" stroke-width="1.9"/><path d="M616.3,12.6 C616.07,18.88 614.43,38.43 614.9,50.3 C615.37,62.17 617,73.1 619.1,83.8 C621.2,94.5 624.7,107.98 627.5,114.5 C630.3,121.02 629.85,120.33 635.9,122.9 C641.95,125.47 654.5,127.1 663.8,129.9 C673.1,132.7 683.32,135.52 691.7,139.7 C700.08,143.88 707.12,150.82 714.1,155 C721.08,159.18 725.92,162 733.6,164.8 C741.28,167.6 755.77,170.63 760.2,171.8" fill="none" stroke="#62738b" stroke-width="1.9"/><path d="M477.4,472.9 C476.58,473.22 474.62,473.58 472.5,474.8 C470.38,476.02 467.15,478.9 464.7,480.2 C462.25,481.5 459.43,481.3 457.8,482.6 C456.17,483.9 455.87,485.15 454.9,488 C453.93,490.85 453.23,494.37 452,499.7 C450.77,505.03 448.45,513.28 447.5,520 C446.55,526.72 446.27,533.27 446.3,540 C446.33,546.73 446.62,549.33 447.7,560.4 C448.78,571.47 451.1,593.62 452.8,606.4 C454.5,619.18 456.4,626.88 457.9,637.1 C459.4,647.32 461.15,662.6 461.8,667.7" fill="none" stroke="#62738b" stroke-width="1.9"/><rect x="78.4" y="24.3" width="92.2" height="43.2" fill="none" stroke="#000" stroke-width="1.2"/><rect x="226.3" y="27.5" width="61.4" height="30.5" fill="none" stroke="#000" stroke-width="1.2"/><rect x="301.2" y="47.7" width="65.3" height="31.3" fill="none" stroke="#000" stroke-width="1.2"/><rect x="389.4" y="18.4" width="61.1" height="31.8" fill="none" stroke="#000" stroke-width="1.2"/><rect x="623.2" y="21.5" width="145.5" height="65" fill="none" stroke="#000" stroke-width="1.2"/><rect x="408.4" y="133.4" width="92.2" height="86.9" fill="none" stroke="#000" stroke-width="1.2"/><rect x="248.3" y="252.4" width="88.3" height="52.9" fill="none" stroke="#000" stroke-width="1.2"/><rect x="488.3" y="254.3" width="72.2" height="54" fill="none" stroke="#000" stroke-width="1.2"/><rect x="534.5" y="327.6" width="67.2" height="20.3" fill="none" stroke="#000" stroke-width="1.2"/><rect x="614.5" y="336.5" width="92.2" height="41.9" fill="none" stroke="#000" stroke-width="1.2"/><rect x="381.5" y="307.3" width="99.2" height="75.6" fill="none" stroke="#000" stroke-width="1.2"/><rect x="21.4" y="353.5" width="106.6" height="75.7" fill="none" stroke="#000" stroke-width="1.2"/><rect x="611.5" y="403.7" width="158.5" height="52.7" fill="none" stroke="#000" stroke-width="1.2"/><rect x="504.6" y="474.8" width="98.6" height="64" fill="none" stroke="#000" stroke-width="1.2"/><rect x="323.6" y="561.8" width="124.6" height="108.5" fill="none" stroke="#000" stroke-width="1.2"/><circle cx="179.3" cy="80.2" r="4.3" fill="#fff" stroke="#000" stroke-width="1.1"/><circle cx="187.1" cy="102" r="4.3" fill="#fff" stroke="#000" stroke-width="1.1"/><circle cx="244" cy="157" r="4.3" fill="#fff" stroke="#000" stroke-width="1.1"/><circle cx="256.7" cy="79.6" r="4.3" fill="#fff" stroke="#000" stroke-width="1.1"/><circle cx="317.2" cy="92.1" r="4.3" fill="#fff" stroke="#000" stroke-width="1.1"/><circle cx="375" cy="138" r="4.3" fill="#fff" stroke="#000" stroke-width="1.1"/><circle cx="324.9" cy="163.5" r="4.3" fill="#fff" stroke="#000" stroke-width="1.1"/><circle cx="405.8" cy="65.6" r="4.3" fill="#fff" stroke="#000" stroke-width="1.1"/><circle cx="461.8" cy="108.5" r="4.3" fill="#fff" stroke="#000" stroke-width="1.1"/><circle cx="519.6" cy="138.1" r="4.3" fill="#fff" stroke="#000" stroke-width="1.1"/><circle cx="628.9" cy="121.5" r="4.3" fill="#fff" stroke="#000" stroke-width="1.1"/><circle cx="121.5" cy="228.9" r="4.3" fill="#fff" stroke="#000" stroke-width="1.1"/><circle cx="99.2" cy="280" r="4.3" fill="#fff" stroke="#000" stroke-width="1.1"/><circle cx="229.3" cy="313.3" r="4.3" fill="#fff" stroke="#000" stroke-width="1.1"/><circle cx="213.8" cy="323.8" r="4.3" fill="#fff" stroke="#000" stroke-width="1.1"/><circle cx="232.4" cy="329.5" r="4.3" fill="#fff" stroke="#000" stroke-width="1.1"/><circle cx="330" cy="322.8" r="4.3" fill="#fff" stroke="#000" stroke-width="1.1"/><circle cx="351.8" cy="363.3" r="4.3" fill="#fff" stroke="#000" stroke-width="1.1"/><circle cx="288.4" cy="375.8" r="4.3" fill="#fff" stroke="#000" stroke-width="1.1"/><circle cx="299.8" cy="420.4" r="4.3" fill="#fff" stroke="#000" stroke-width="1.1"/><circle cx="257" cy="440" r="4.3" fill="#fff" stroke="#000" stroke-width="1.1"/><circle cx="226.1" cy="462" r="4.3" fill="#fff" stroke="#000" stroke-width="1.1"/><circle cx="408.4" cy="409.4" r="4.3" fill="#fff" stroke="#000" stroke-width="1.1"/><circle cx="388.6" cy="430.1" r="4.3" fill="#fff" stroke="#000" stroke-width="1.1"/><circle cx="465" cy="415.8" r="4.3" fill="#fff" stroke="#000" stroke-width="1.1"/><circle cx="385.2" cy="456.7" r="4.3" fill="#fff" stroke="#000" stroke-width="1.1"/><circle cx="477.4" cy="472.9" r="4.3" fill="#fff" stroke="#000" stroke-width="1.1"/><circle cx="412.5" cy="475.8" r="4.3" fill="#fff" stroke="#000" stroke-width="1.1"/><circle cx="481.8" cy="502.7" r="4.3" fill="#fff" stroke="#000" stroke-width="1.1"/><circle cx="439.9" cy="537.5" r="4.3" fill="#fff" stroke="#000" stroke-width="1.1"/><circle cx="516.4" cy="464.4" r="4.3" fill="#fff" stroke="#000" stroke-width="1.1"/><circle cx="547.6" cy="445" r="4.3" fill="#fff" stroke="#000" stroke-width="1.1"/><circle cx="516.8" cy="350.5" r="4.3" fill="#fff" stroke="#000" stroke-width="1.1"/><circle cx="550.2" cy="318.7" r="4.3" fill="#fff" stroke="#000" stroke-width="1.1"/><circle cx="611.6" cy="322" r="4.3" fill="#fff" stroke="#000" stroke-width="1.1"/><circle cx="577.4" cy="417.2" r="4.3" fill="#fff" stroke="#000" stroke-width="1.1"/><circle cx="587.5" cy="253" r="4.3" fill="#fff" stroke="#000" stroke-width="1.1"/><circle cx="298.7" cy="519.8" r="4.3" fill="#fff" stroke="#000" stroke-width="1.1"/><circle cx="160.8" cy="477.5" r="4.3" fill="#fff" stroke="#000" stroke-width="1.1"/><circle cx="181" cy="507.3" r="4.3" fill="#fff" stroke="#000" stroke-width="1.1"/><circle cx="64.5" cy="522.5" r="4.3" fill="#fff" stroke="#000" stroke-width="1.1"/><circle cx="462.2" cy="672.6" r="4.3" fill="#fff" stroke="#000" stroke-width="1.1"/><circle cx="189.2" cy="131" r="3.6" fill="#fff" stroke="#000" stroke-width="1.1"/><path d="M177.5,125 L181.3,125.4 Q183,128.5 181.3,131.3 L176.5,132" fill="none" stroke="#000" stroke-width="1.1"/><polygon points="446.5,117.8 450.7,125 442.3,125" fill="#000"/><polygon points="486.2,481.15 490.2,488.45 482.2,488.45" fill="#000"/><polygon points="395.8,521.55 400.9,530.45 390.7,530.45" fill="#000"/><rect x="132" y="74.48" width="30.3" height="15.85" fill="#fff"/><rect x="146.2" y="96.08" width="30.9" height="15.85" fill="#fff"/><rect x="125.8" y="122.77" width="45.7" height="15.85" fill="#fff"/><rect x="261.4" y="68.48" width="30.1" height="15.85" fill="#fff"/><rect x="324.8" y="94.88" width="30.9" height="15.85" fill="#fff"/><rect x="351.8" y="114.08" width="31.4" height="15.85" fill="#fff"/><rect x="273.8" y="124.59" width="20" height="18.82" fill="#fff"/><rect x="359.8" y="208.29" width="20" height="18.82" fill="#fff"/><rect x="501.3" y="226.89" width="20" height="18.82" fill="#fff"/><rect x="227.6" y="168.07" width="44.3" height="15.85" fill="#fff"/><rect x="321.8" y="175.07" width="31.4" height="15.85" fill="#fff"/><rect x="419.6" y="59.58" width="30.6" height="15.85" fill="#fff"/><rect x="461.8" y="88.48" width="45.1" height="15.85" fill="#fff"/><rect x="403.8" y="96.78" width="45.3" height="15.85" fill="#fff"/><rect x="511.5" y="116.38" width="30.3" height="15.85" fill="#fff"/><rect x="625.7" y="133.07" width="30.9" height="15.85" fill="#fff"/><rect x="118.4" y="206.97" width="30" height="15.85" fill="#fff"/><rect x="82" y="288.88" width="31.5" height="15.85" fill="#fff"/><rect x="51" y="325.18" width="16.4" height="15.85" fill="#fff"/><rect x="92.4" y="334.07" width="16.4" height="15.85" fill="#fff"/><rect x="165.8" y="317.38" width="30.4" height="15.85" fill="#fff"/><rect x="198.3" y="293.38" width="30.4" height="15.85" fill="#fff"/><rect x="215.8" y="337.57" width="29.2" height="15.85" fill="#fff"/><rect x="338.8" y="317.88" width="29.9" height="15.85" fill="#fff"/><rect x="317.6" y="357.07" width="31.1" height="15.85" fill="#fff"/><rect x="277.6" y="383.38" width="31.1" height="15.85" fill="#fff"/><rect x="275.1" y="430.88" width="31.1" height="15.85" fill="#fff"/><rect x="237.6" y="449.57" width="29.9" height="15.85" fill="#fff"/><rect x="366.3" y="402.07" width="32.4" height="15.85" fill="#fff"/><rect x="397.8" y="426.88" width="46" height="15.85" fill="#fff"/><rect x="448.3" y="423.47" width="31.2" height="15.85" fill="#fff"/><rect x="329.9" y="457.97" width="43.8" height="15.85" fill="#fff"/><rect x="464.4" y="447.57" width="31.2" height="15.85" fill="#fff"/><rect x="416.3" y="467.07" width="29.4" height="15.85" fill="#fff"/><rect x="455.1" y="482.36" width="24.9" height="12.88" fill="#fff"/><rect x="473.3" y="509.57" width="30.4" height="15.85" fill="#fff"/><rect x="449.6" y="534.08" width="29.1" height="15.85" fill="#fff"/><rect x="358.8" y="533.68" width="44.3" height="15.85" fill="#fff"/><rect x="523.3" y="453.27" width="29.6" height="15.85" fill="#fff"/><rect x="555" y="444.68" width="29.7" height="15.85" fill="#fff"/><rect x="509.7" y="360.27" width="29.6" height="15.85" fill="#fff"/><rect x="516.4" y="312.57" width="27" height="15.85" fill="#fff"/><rect x="593.6" y="303.57" width="26.8" height="15.85" fill="#fff"/><rect x="580.8" y="395.47" width="29.8" height="15.85" fill="#fff"/><rect x="577.6" y="228.38" width="30.6" height="15.85" fill="#fff"/><rect x="278" y="530.88" width="45.7" height="15.85" fill="#fff"/><rect x="145.1" y="457.07" width="31.1" height="15.85" fill="#fff"/><rect x="166.3" y="518.38" width="31.2" height="15.85" fill="#fff"/><rect x="71.8" y="523.38" width="30.7" height="15.85" fill="#fff"/><rect x="472.6" y="665.88" width="29.9" height="15.85" fill="#fff"/><rect x="488.8" y="567.41" width="14.4" height="13.38" fill="#fff"/><rect x="524.4" y="576.31" width="14.4" height="13.38" fill="#fff"/><rect x="562.4" y="585.31" width="14.4" height="13.38" fill="#fff"/><g fill="#1a1a1a" stroke="#1a1a1a" stroke-width="3.2"><g role="img" aria-label="信陽"><use href="#g0" transform="translate(132.45 73.98) scale(0.07 0.08)"/><use href="#g1" transform="translate(146.85 73.98) scale(0.07 0.08)"/></g><g role="img" aria-label="柳林"><use href="#g2" transform="translate(146.65 95.58) scale(0.07 0.08)"/><use href="#g3" transform="translate(161.65 95.58) scale(0.07 0.08)"/></g><g role="img" aria-label="武勝關"><use href="#g4" transform="translate(126.25 122.28) scale(0.07 0.08)"/><use href="#g5" transform="translate(141.15 122.28) scale(0.07 0.08)"/><use href="#g6" transform="translate(156.05 122.28) scale(0.07 0.08)"/></g><g role="img" aria-label="平"><use href="#g7" transform="translate(182.25 44.19) scale(0.07 0.08)"/></g><g role="img" aria-label="漢"><use href="#g8" transform="translate(181.5 149.39) scale(0.07 0.08)"/></g><g role="img" aria-label="鐵"><use href="#g9" transform="translate(176.8 187.09) scale(0.07 0.08)"/></g><g role="img" aria-label="路"><use href="#g10" transform="translate(165.7 249.78) scale(0.07 0.08)"/></g><g role="img" aria-label="羅山"><use href="#g11" transform="translate(261.85 67.98) scale(0.07 0.08)"/><use href="#g12" transform="translate(276.05 67.98) scale(0.07 0.08)"/></g><g role="img" aria-label="潢川"><use href="#g13" transform="translate(325.25 94.38) scale(0.07 0.08)"/><use href="#g14" transform="translate(340.25 94.38) scale(0.07 0.08)"/></g><g role="img" aria-label="商城"><use href="#g15" transform="translate(352.25 113.58) scale(0.07 0.08)"/><use href="#g16" transform="translate(367.75 113.58) scale(0.07 0.08)"/></g><g role="img" aria-label="大"><use href="#g17" transform="translate(274.8 123.9) scale(0.09 0.1)"/></g><g role="img" aria-label="別"><use href="#g18" transform="translate(360.8 207.6) scale(0.09 0.1)"/></g><g role="img" aria-label="山"><use href="#g12" transform="translate(502.3 226.2) scale(0.09 0.1)"/></g><g role="img" aria-label="宜化店"><use href="#g19" transform="translate(228.05 167.59) scale(0.07 0.08)"/><use href="#g20" transform="translate(242.25 167.59) scale(0.07 0.08)"/><use href="#g21" transform="translate(256.45 167.59) scale(0.07 0.08)"/></g><g role="img" aria-label="經扶"><use href="#g22" transform="translate(322.25 174.59) scale(0.07 0.08)"/><use href="#g23" transform="translate(337.75 174.59) scale(0.07 0.08)"/></g><g role="img" aria-label="固始"><use href="#g24" transform="translate(420.05 59.09) scale(0.07 0.08)"/><use href="#g25" transform="translate(434.75 59.09) scale(0.07 0.08)"/></g><g role="img" aria-label="葉家集"><use href="#g26" transform="translate(462.25 87.98) scale(0.07 0.08)"/><use href="#g27" transform="translate(476.85 87.98) scale(0.07 0.08)"/><use href="#g28" transform="translate(491.45 87.98) scale(0.07 0.08)"/></g><g role="img" aria-label="富金山"><use href="#g29" transform="translate(404.25 96.28) scale(0.07 0.08)"/><use href="#g30" transform="translate(418.95 96.28) scale(0.07 0.08)"/><use href="#g12" transform="translate(433.65 96.28) scale(0.07 0.08)"/></g><g role="img" aria-label="六安"><use href="#g31" transform="translate(511.95 115.88) scale(0.07 0.08)"/><use href="#g32" transform="translate(526.35 115.88) scale(0.07 0.08)"/></g><g role="img" aria-label="合肥"><use href="#g33" transform="translate(626.15 132.59) scale(0.07 0.08)"/><use href="#g34" transform="translate(641.15 132.59) scale(0.07 0.08)"/></g><g role="img" aria-label="安陸"><use href="#g32" transform="translate(118.85 206.49) scale(0.07 0.08)"/><use href="#g35" transform="translate(132.95 206.49) scale(0.07 0.08)"/></g><g role="img" aria-label="應城"><use href="#g36" transform="translate(82.45 288.38) scale(0.07 0.08)"/><use href="#g16" transform="translate(98.05 288.38) scale(0.07 0.08)"/></g><g role="img" aria-label="漢"><use href="#g8" transform="translate(51.7 324.69) scale(0.07 0.08)"/></g><g role="img" aria-label="水"><use href="#g37" transform="translate(93.1 333.58) scale(0.07 0.08)"/></g><g role="img" aria-label="漢陽"><use href="#g8" transform="translate(166.25 316.88) scale(0.07 0.08)"/><use href="#g1" transform="translate(180.75 316.88) scale(0.07 0.08)"/></g><g role="img" aria-label="漢口"><use href="#g8" transform="translate(198.75 292.88) scale(0.07 0.08)"/><use href="#g38" transform="translate(213.25 292.88) scale(0.07 0.08)"/></g><g role="img" aria-label="武昌"><use href="#g4" transform="translate(216.25 337.08) scale(0.07 0.08)"/><use href="#g39" transform="translate(229.55 337.08) scale(0.07 0.08)"/></g><g role="img" aria-label="巴河"><use href="#g40" transform="translate(339.25 317.38) scale(0.07 0.08)"/><use href="#g41" transform="translate(353.25 317.38) scale(0.07 0.08)"/></g><g role="img" aria-label="浠水"><use href="#g42" transform="translate(318.05 356.58) scale(0.07 0.08)"/><use href="#g37" transform="translate(333.25 356.58) scale(0.07 0.08)"/></g><g role="img" aria-label="鄂城"><use href="#g43" transform="translate(278.05 382.88) scale(0.07 0.08)"/><use href="#g16" transform="translate(293.25 382.88) scale(0.07 0.08)"/></g><g role="img" aria-label="大冶"><use href="#g17" transform="translate(275.55 430.38) scale(0.07 0.08)"/><use href="#g44" transform="translate(290.75 430.38) scale(0.07 0.08)"/></g><g role="img" aria-label="金牛"><use href="#g30" transform="translate(238.05 449.08) scale(0.07 0.08)"/><use href="#g45" transform="translate(252.05 449.08) scale(0.07 0.08)"/></g><g role="img" aria-label="廣濟"><use href="#g46" transform="translate(366.75 401.58) scale(0.07 0.08)"/><use href="#g47" transform="translate(383.25 401.58) scale(0.07 0.08)"/></g><g role="img" aria-label="田家鎮"><use href="#g48" transform="translate(398.25 426.38) scale(0.07 0.08)"/><use href="#g27" transform="translate(413.3 426.38) scale(0.07 0.08)"/><use href="#g49" transform="translate(428.35 426.38) scale(0.07 0.08)"/></g><g role="img" aria-label="黃梅"><use href="#g50" transform="translate(448.75 422.98) scale(0.07 0.08)"/><use href="#g51" transform="translate(464.05 422.98) scale(0.07 0.08)"/></g><g role="img" aria-label="富池口"><use href="#g29" transform="translate(330.35 457.48) scale(0.07 0.08)"/><use href="#g52" transform="translate(344.3 457.48) scale(0.07 0.08)"/><use href="#g38" transform="translate(358.25 457.48) scale(0.07 0.08)"/></g><g role="img" aria-label="九江"><use href="#g53" transform="translate(464.85 447.08) scale(0.07 0.08)"/><use href="#g54" transform="translate(480.15 447.08) scale(0.07 0.08)"/></g><g role="img" aria-label="瑞昌"><use href="#g55" transform="translate(416.75 466.58) scale(0.07 0.08)"/><use href="#g39" transform="translate(430.25 466.58) scale(0.07 0.08)"/></g><g role="img" aria-label="廬山"><use href="#g56" transform="translate(455.7 482.07) scale(0.06 0.07)"/><use href="#g12" transform="translate(467.4 482.07) scale(0.06 0.07)"/></g><g role="img" aria-label="星子"><use href="#g57" transform="translate(473.75 509.08) scale(0.07 0.08)"/><use href="#g58" transform="translate(488.25 509.08) scale(0.07 0.08)"/></g><g role="img" aria-label="德安"><use href="#g59" transform="translate(450.05 533.59) scale(0.07 0.08)"/><use href="#g32" transform="translate(463.25 533.59) scale(0.07 0.08)"/></g><g role="img" aria-label="萬家嶺"><use href="#g60" transform="translate(359.25 533.19) scale(0.07 0.08)"/><use href="#g27" transform="translate(373.45 533.19) scale(0.07 0.08)"/><use href="#g61" transform="translate(387.65 533.19) scale(0.07 0.08)"/></g><g role="img" aria-label="湖口"><use href="#g62" transform="translate(523.75 452.78) scale(0.07 0.08)"/><use href="#g38" transform="translate(537.45 452.78) scale(0.07 0.08)"/></g><g role="img" aria-label="彭澤"><use href="#g63" transform="translate(555.45 444.19) scale(0.07 0.08)"/><use href="#g64" transform="translate(569.25 444.19) scale(0.07 0.08)"/></g><g role="img" aria-label="太湖"><use href="#g65" transform="translate(510.15 359.78) scale(0.07 0.08)"/><use href="#g62" transform="translate(523.85 359.78) scale(0.07 0.08)"/></g><g role="img" aria-label="潛山"><use href="#g66" transform="translate(516.85 312.08) scale(0.07 0.08)"/><use href="#g12" transform="translate(527.95 312.08) scale(0.07 0.08)"/></g><g role="img" aria-label="安慶"><use href="#g32" transform="translate(594.05 303.08) scale(0.07 0.08)"/><use href="#g67" transform="translate(604.95 303.08) scale(0.07 0.08)"/></g><g role="img" aria-label="馬當"><use href="#g68" transform="translate(581.25 394.98) scale(0.07 0.08)"/><use href="#g69" transform="translate(595.15 394.98) scale(0.07 0.08)"/></g><g role="img" aria-label="桐城"><use href="#g70" transform="translate(578.05 227.89) scale(0.07 0.08)"/><use href="#g16" transform="translate(592.75 227.89) scale(0.07 0.08)"/></g><g role="img" aria-label="辛潭舖"><use href="#g71" transform="translate(278.45 530.38) scale(0.07 0.08)"/><use href="#g72" transform="translate(293.35 530.38) scale(0.07 0.08)"/><use href="#g73" transform="translate(308.25 530.38) scale(0.07 0.08)"/></g><g role="img" aria-label="咸寧"><use href="#g74" transform="translate(145.55 456.58) scale(0.07 0.08)"/><use href="#g75" transform="translate(160.75 456.58) scale(0.07 0.08)"/></g><g role="img" aria-label="崇陽"><use href="#g76" transform="translate(166.75 517.88) scale(0.07 0.08)"/><use href="#g1" transform="translate(182.05 517.88) scale(0.07 0.08)"/></g><g role="img" aria-label="岳陽"><use href="#g77" transform="translate(72.25 522.88) scale(0.07 0.08)"/><use href="#g1" transform="translate(87.05 522.88) scale(0.07 0.08)"/></g><g role="img" aria-label="南昌"><use href="#g78" transform="translate(473.05 665.38) scale(0.07 0.08)"/><use href="#g39" transform="translate(487.05 665.38) scale(0.07 0.08)"/></g><g role="img" aria-label="鄱"><use href="#g79" transform="translate(489.75 567.09) scale(0.06 0.07)"/></g><g role="img" aria-label="陽"><use href="#g1" transform="translate(525.35 575.99) scale(0.06 0.07)"/></g><g role="img" aria-label="湖"><use href="#g62" transform="translate(563.35 584.99) scale(0.06 0.07)"/></g></g><path d="M189.8,69.6 C190.05,71.2 191.62,75.8 191.3,79.2 C190.98,82.6 188.47,88.2 187.9,90" fill="none" stroke="#00f" stroke-width="2.1"/><path d="M256.8,69.6 C255.53,70.33 250.68,72.2 249.2,74 C247.72,75.8 247.48,78.15 247.9,80.4 C248.32,82.65 249.15,86.12 251.7,87.5 C254.25,88.88 261.28,88.5 263.2,88.7" fill="none" stroke="#00f" stroke-width="2.1"/><path d="M309.1,83.6 C310.75,83.15 315.98,80 319,80.9 C322.02,81.8 326.73,85.98 327.2,89 C327.67,92.02 322.7,97.33 321.8,99" fill="none" stroke="#00f" stroke-width="2.1"/><path d="M398,58.2 C399.67,57.9 405.12,55.95 408,56.4 C410.88,56.85 414.08,59.1 415.3,60.9 C416.52,62.7 415.92,65.38 415.3,67.2 C414.68,69.02 412.22,71.03 411.6,71.8" fill="none" stroke="#00f" stroke-width="2.1"/><path d="M439.8,114.8 C441.18,114.65 445.6,112.93 448.1,113.9 C450.6,114.87 454.23,117.97 454.8,120.6 C455.37,123.23 452.05,128.18 451.5,129.7" fill="none" stroke="#00f" stroke-width="2.1"/><path d="M400.9,401.3 C402.38,401 406.95,398.02 409.8,399.5 C412.65,400.98 417.57,407 418,410.2 C418.43,413.4 414.27,416.98 412.4,418.7 C410.53,420.42 407.73,420.2 406.8,420.5" fill="none" stroke="#00f" stroke-width="2.1"/><path d="M380,424 C381.37,423.48 385.3,419.88 388.2,420.9 C391.1,421.92 396.38,427.2 397.4,430.1 C398.42,433 394.82,436.93 394.3,438.3" fill="none" stroke="#00f" stroke-width="2.1"/><path d="M471.5,501.2 C472.48,500.22 475.28,496.35 477.4,495.3 C479.52,494.25 482.5,494.32 484.2,494.9 C485.9,495.48 486.62,498 487.6,498.8 C488.58,499.6 489.68,499.55 490.1,499.7" fill="none" stroke="#00f" stroke-width="2.1"/><path d="M432.8,531.1 C434.28,530.13 438.72,525.42 441.7,525.3 C444.68,525.18 449.2,528.58 450.7,530.4 C452.2,532.22 450.7,535.23 450.7,536.2" fill="none" stroke="#00f" stroke-width="2.1"/><path d="M381.1,507.5 C383.33,506.22 390.57,500.98 394.5,499.8 C398.43,498.62 403,500.3 404.7,500.4" fill="none" stroke="#00f" stroke-width="2.1"/><polygon points="408.6,493.3 415.5,507.5 402.3,506.8" fill="#00f"/><path d="M550.7,292.3 L551.31,302.81" fill="none" stroke="#00f" stroke-width="2.2"/><polygon points="551.8,311.2 545.7,301.04 556.68,300.4" fill="#00f"/><path d="M507.1,324 L508.83,337.47" fill="none" stroke="#00f" stroke-width="2.2"/><polygon points="509.9,345.8 503.11,336.09 514.02,334.68" fill="#00f"/><path d="M502.6,402.5 L479.88,410.89" fill="none" stroke="#00f" stroke-width="2.2"/><polygon points="472,413.8 479.94,405 483.76,415.32" fill="#00f"/><path d="M363.2,525.3 L386.04,515.82" fill="none" stroke="#00f" stroke-width="2.2"/><polygon points="393.8,512.6 386.21,521.7 381.99,511.55" fill="#00f"/><path d="M420,534.9 L412.6,523.96" fill="none" stroke="#00f" stroke-width="2.2"/><polygon points="407.9,517 418.34,522.62 409.22,528.78" fill="#00f"/><path d="M211.9,221.4 L190.2,224.2" fill="none" stroke="#00f" stroke-width="2.2"/><path d="M181,224.5 L161.4,225.2" fill="none" stroke="#00f" stroke-width="2.2"/><path d="M155,227.6 L141.64,229.14" fill="none" stroke="#00f" stroke-width="2.2"/><polygon points="133.3,230.1 143.1,223.43 144.36,234.36" fill="#00f"/><path d="M208.4,252.6 C206.42,251.78 200.6,248.98 196.5,247.7 C192.4,246.42 185.92,245.37 183.8,244.9" fill="none" stroke="#00f" stroke-width="2.2"/><path d="M178.9,244.2 L161.4,244.2" fill="none" stroke="#00f" stroke-width="2.2"/><path d="M150.1,244.2 L135.3,243.75" fill="none" stroke="#00f" stroke-width="2.2"/><polygon points="126.9,243.5 137.56,238.32 137.23,249.31" fill="#00f"/><path d="M198.8,333.8 L187,336" fill="none" stroke="#00f" stroke-width="2.2"/><path d="M181,337.5 L162.06,340.98" fill="none" stroke="#00f" stroke-width="2.2"/><polygon points="153.8,342.5 163.13,335.19 165.12,346.01" fill="#00f"/><path d="M211.3,352.5 L200,357" fill="none" stroke="#00f" stroke-width="2.2"/><path d="M192.5,360 L182,364.5" fill="none" stroke="#00f" stroke-width="2.2"/><path d="M175,367.5 L158.88,375.18" fill="none" stroke="#00f" stroke-width="2.2"/><polygon points="151.3,378.8 158.41,369.32 163.14,379.25" fill="#00f"/><path d="M216.3,368.8 L214.5,382" fill="none" stroke="#00f" stroke-width="2.2"/><path d="M213.5,389 L208.79,419.2" fill="none" stroke="#00f" stroke-width="2.2"/><polygon points="207.5,427.5 203.68,416.28 214.55,417.97" fill="#00f"/><path d="M199.4,77.9 L234.41,76.37" fill="none" stroke="#f00" stroke-width="2.2"/><polygon points="242.8,76 232.55,81.95 232.07,70.96" fill="#f00"/><path d="M303.6,93 C298,93.57 279.5,96.27 270,96.4 C260.5,96.53 258.15,95.62 246.6,93.8 C235.05,91.98 208.6,86.95 200.7,85.5 C192.8,84.05 199.47,85.18 199.23,85.12" fill="none" stroke="#f00" stroke-width="2.2"/><polygon points="191.1,83 202.65,80.32 199.88,90.97" fill="#f00"/><path d="M256.8,89.4 C255.1,90.47 250.42,93.47 246.6,95.8 C242.78,98.13 239,101.6 233.9,103.4 C228.8,105.2 220.89,105.94 216,106.6 C211.11,107.26 206.48,107.22 204.58,107.35" fill="none" stroke="#f00" stroke-width="2.2"/><polygon points="196.2,107.9 206.32,101.72 207.04,112.7" fill="#f00"/><path d="M199.4,111.1 L195.6,126.54" fill="none" stroke="#f00" stroke-width="2.2"/><polygon points="193.6,134.7 190.76,123.19 201.45,125.82" fill="#f00"/><path d="M255,102 L247.74,138.36" fill="none" stroke="#f00" stroke-width="2.2"/><polygon points="246.1,146.6 242.76,135.23 253.55,137.38" fill="#f00"/><path d="M398.9,70 L337.11,86.8" fill="none" stroke="#f00" stroke-width="2.2"/><polygon points="329,89 337.69,80.94 340.58,91.55" fill="#f00"/><path d="M317.6,101.7 L323.09,146.96" fill="none" stroke="#f00" stroke-width="2.2"/><polygon points="324.1,155.3 317.38,145.54 328.3,144.21" fill="#f00"/><path d="M434.9,122.2 L395.2,133.08" fill="none" stroke="#f00" stroke-width="2.2"/><polygon points="387.1,135.3 395.77,127.22 398.68,137.83" fill="#f00"/><path d="M455.6,104 L419.97,76.71" fill="none" stroke="#f00" stroke-width="2.2"/><polygon points="413.3,71.6 424.98,73.62 418.29,82.35" fill="#f00"/><path d="M511.2,136.4 L477.02,117.21" fill="none" stroke="#f00" stroke-width="2.2"/><polygon points="469.7,113.1 481.55,113.44 476.16,123.04" fill="#f00"/><path d="M466.4,115.6 L462.12,116.74" fill="none" stroke="#f00" stroke-width="2.2"/><polygon points="454,118.9 462.73,110.88 465.56,121.51" fill="#f00"/><path d="M621.9,124.3 C614.92,125.37 594.03,128.7 580,130.7 C565.97,132.7 544.77,135.36 537.73,136.3" fill="none" stroke="#f00" stroke-width="2.2"/><polygon points="529.4,137.4 539.09,130.57 540.53,141.47" fill="#f00"/><path d="M675,108.9 L641.14,119.08" fill="none" stroke="#f00" stroke-width="2.2"/><polygon points="633.1,121.5 641.57,113.21 644.74,123.74" fill="#f00"/><path d="M602.6,324.2 L568.84,320.27" fill="none" stroke="#f00" stroke-width="2.2"/><polygon points="560.5,319.3 571.57,315.05 570.29,325.98" fill="#f00"/><path d="M633,324.3 L625.98,324.8" fill="none" stroke="#f00" stroke-width="2.2"/><polygon points="617.6,325.4 627.68,319.17 628.47,330.14" fill="#f00"/><path d="M533.8,334.6 L529.44,338.67" fill="none" stroke="#f00" stroke-width="2.2"/><polygon points="523.3,344.4 527.22,333.21 534.73,341.26" fill="#f00"/><path d="M505.7,355.5 L471.95,398.97" fill="none" stroke="#f00" stroke-width="2.2"/><polygon points="466.8,405.6 468.9,393.93 477.58,400.68" fill="#f00"/><path d="M454.6,415.8 L430.23,412.75" fill="none" stroke="#f00" stroke-width="2.2"/><polygon points="421.9,411.7 433,407.55 431.63,418.46" fill="#f00"/><path d="M408.6,416.8 L403.03,420.97" fill="none" stroke="#f00" stroke-width="2.2"/><polygon points="396.3,426 401.41,415.31 408,424.12" fill="#f00"/><path d="M399.4,402.5 C396.17,400.3 385.4,393.22 380,389.3 C374.6,385.38 370.1,381.51 367,379 C363.9,376.49 362.33,375.03 361.4,374.24" fill="none" stroke="#f00" stroke-width="2.2"/><polygon points="355,368.8 366.56,371.41 359.44,379.79" fill="#f00"/><path d="M347.5,357.5 L337.42,336.38" fill="none" stroke="#f00" stroke-width="2.2"/><polygon points="333.8,328.8 343.29,335.91 333.36,340.65" fill="#f00"/><path d="M321.3,323.8 C314.42,322.97 291.05,320.27 280,318.8 C268.95,317.33 260.89,315.74 255,315 C249.11,314.26 246.4,314.45 244.68,314.34" fill="none" stroke="#f00" stroke-width="2.2"/><polygon points="236.3,313.8 247.13,308.98 246.43,319.96" fill="#f00"/><path d="M295,408.8 C293.33,404 289.17,387.72 285,380 C280.83,372.28 275.29,367.33 270,362.5 C264.71,357.67 256.03,352.95 253.23,351.04" fill="none" stroke="#f00" stroke-width="2.2"/><polygon points="246.3,346.3 258.07,347.68 251.86,356.77" fill="#f00"/><path d="M370,448.8 C366.25,447.55 356.41,444.72 347.5,441.3 C338.59,437.88 321.7,430.43 316.54,428.26" fill="none" stroke="#f00" stroke-width="2.2"/><polygon points="308.8,425 320.61,424.01 316.34,434.14" fill="#f00"/><path d="M408.8,471.3 L398.36,464.56" fill="none" stroke="#f00" stroke-width="2.2"/><polygon points="391.3,460 403.1,461.08 397.14,470.32" fill="#f00"/><path d="M468.6,501.2 L432.72,485.81" fill="none" stroke="#f00" stroke-width="2.2"/><polygon points="425,482.5 436.82,481.58 432.48,491.69" fill="#f00"/><path d="M473.5,506.6 L454.7,521.4" fill="none" stroke="#f00" stroke-width="2.2"/><polygon points="448.1,526.6 452.95,515.78 459.75,524.43" fill="#f00"/><path d="M502.8,461.6 L489.35,465.6" fill="none" stroke="#f00" stroke-width="2.2"/><polygon points="481.3,468 489.79,459.73 492.93,470.28" fill="#f00"/><path d="M491,468.5 L491,476.7" fill="none" stroke="#f00" stroke-width="2.2"/><polygon points="491,485.1 485.5,474.6 496.5,474.6" fill="#f00"/><path d="M501.3,485.6 L493.54,493.36" fill="none" stroke="#f00" stroke-width="2.2"/><polygon points="487.6,499.3 491.14,487.99 498.91,495.76" fill="#f00"/><path d="M411.1,489.6 L402.56,512.34" fill="none" stroke="#f00" stroke-width="2.2"/><polygon points="399.6,520.2 398.15,508.44 408.44,512.31" fill="#f00"/><path d="M577.2,398.5 L574.8,406.18" fill="none" stroke="#f00" stroke-width="2.2"/><polygon points="572.3,414.2 570.18,402.54 580.68,405.82" fill="#f00"/><rect x="10.5" y="7.5" width="762" height="701.5" fill="none" stroke="#000" stroke-width="1.5"/><g fill="#1a1a1a" stroke="#1a1a1a" stroke-width="1.8"><g role="img" aria-label="日軍第二軍"><use href="#g80" transform="translate(118.73 30.33) scale(0.05 0.05)"/><use href="#g81" transform="translate(127.77 30.33) scale(0.05 0.05)"/><use href="#g82" transform="translate(136.8 30.33) scale(0.05 0.05)"/><use href="#g83" transform="translate(145.84 30.33) scale(0.05 0.05)"/><use href="#g81" transform="translate(154.87 30.33) scale(0.05 0.05)"/></g><g role="img" aria-label="攻陷信陽，平漢鐵"><use href="#g84" transform="translate(83.53 41.53) scale(0.05 0.05)"/><use href="#g85" transform="translate(93.72 41.53) scale(0.05 0.05)"/><use href="#g0" transform="translate(103.91 41.53) scale(0.05 0.05)"/><use href="#g1" transform="translate(114.1 41.53) scale(0.05 0.05)"/><use href="#g86" transform="translate(124.3 41.53) scale(0.05 0.05)"/><use href="#g7" transform="translate(134.49 41.53) scale(0.05 0.05)"/><use href="#g8" transform="translate(144.68 41.53) scale(0.05 0.05)"/><use href="#g9" transform="translate(154.87 41.53) scale(0.05 0.05)"/></g><g role="img" aria-label="路被切斷"><use href="#g10" transform="translate(83.53 52.03) scale(0.05 0.05)"/><use href="#g87" transform="translate(92.68 52.03) scale(0.05 0.05)"/><use href="#g88" transform="translate(101.82 52.03) scale(0.05 0.05)"/><use href="#g89" transform="translate(110.97 52.03) scale(0.05 0.05)"/></g><g role="img" aria-label="華軍孫震部"><use href="#g90" transform="translate(232.43 32.93) scale(0.05 0.05)"/><use href="#g81" transform="translate(242.44 32.93) scale(0.05 0.05)"/><use href="#g91" transform="translate(252.45 32.93) scale(0.05 0.05)"/><use href="#g92" transform="translate(262.46 32.93) scale(0.05 0.05)"/><use href="#g93" transform="translate(272.47 32.93) scale(0.05 0.05)"/></g><g role="img" aria-label="力戰羅山"><use href="#g94" transform="translate(232.43 44.43) scale(0.05 0.05)"/><use href="#g95" transform="translate(241.48 44.43) scale(0.05 0.05)"/><use href="#g11" transform="translate(250.52 44.43) scale(0.05 0.05)"/><use href="#g12" transform="translate(259.57 44.43) scale(0.05 0.05)"/></g><g role="img" aria-label="華軍張自忠"><use href="#g90" transform="translate(306.63 52.73) scale(0.05 0.05)"/><use href="#g81" transform="translate(317.62 52.73) scale(0.05 0.05)"/><use href="#g96" transform="translate(328.6 52.73) scale(0.05 0.05)"/><use href="#g97" transform="translate(339.58 52.73) scale(0.05 0.05)"/><use href="#g98" transform="translate(350.57 52.73) scale(0.05 0.05)"/></g><g role="img" aria-label="部血戰潢川"><use href="#g93" transform="translate(306.63 63.23) scale(0.05 0.05)"/><use href="#g99" transform="translate(315.79 63.23) scale(0.05 0.05)"/><use href="#g95" transform="translate(324.95 63.23) scale(0.05 0.05)"/><use href="#g13" transform="translate(334.11 63.23) scale(0.05 0.05)"/><use href="#g14" transform="translate(343.27 63.23) scale(0.05 0.05)"/></g><g role="img" aria-label="華軍宋希濂"><use href="#g90" transform="translate(396.23 24.23) scale(0.05 0.05)"/><use href="#g81" transform="translate(406.16 24.23) scale(0.05 0.05)"/><use href="#g100" transform="translate(416.1 24.23) scale(0.05 0.05)"/><use href="#g101" transform="translate(426.03 24.23) scale(0.05 0.05)"/><use href="#g102" transform="translate(435.97 24.23) scale(0.05 0.05)"/></g><g role="img" aria-label="部堅守固始"><use href="#g93" transform="translate(396.23 34.83) scale(0.05 0.05)"/><use href="#g103" transform="translate(405.16 34.83) scale(0.05 0.05)"/><use href="#g104" transform="translate(414.1 34.83) scale(0.05 0.05)"/><use href="#g24" transform="translate(423.03 34.83) scale(0.05 0.05)"/><use href="#g25" transform="translate(431.97 34.83) scale(0.05 0.05)"/></g><g role="img" aria-label="日軍攻擊武漢的北路軍由原華北"><use href="#g80" transform="translate(628.83 27.73) scale(0.05 0.05)"/><use href="#g81" transform="translate(638.43 27.73) scale(0.05 0.05)"/><use href="#g84" transform="translate(648.02 27.73) scale(0.05 0.05)"/><use href="#g105" transform="translate(657.62 27.73) scale(0.05 0.05)"/><use href="#g4" transform="translate(667.21 27.73) scale(0.05 0.05)"/><use href="#g8" transform="translate(676.81 27.73) scale(0.05 0.05)"/><use href="#g106" transform="translate(686.4 27.73) scale(0.05 0.05)"/><use href="#g107" transform="translate(696 27.73) scale(0.05 0.05)"/><use href="#g10" transform="translate(705.59 27.73) scale(0.05 0.05)"/><use href="#g81" transform="translate(715.19 27.73) scale(0.05 0.05)"/><use href="#g108" transform="translate(724.78 27.73) scale(0.05 0.05)"/><use href="#g109" transform="translate(734.38 27.73) scale(0.05 0.05)"/><use href="#g90" transform="translate(743.97 27.73) scale(0.05 0.05)"/><use href="#g107" transform="translate(753.57 27.73) scale(0.05 0.05)"/></g><g role="img" aria-label="方面軍的第二軍稔彥王指揮，總"><use href="#g110" transform="translate(628.83 38.33) scale(0.05 0.05)"/><use href="#g111" transform="translate(638.43 38.33) scale(0.05 0.05)"/><use href="#g81" transform="translate(648.02 38.33) scale(0.05 0.05)"/><use href="#g106" transform="translate(657.62 38.33) scale(0.05 0.05)"/><use href="#g82" transform="translate(667.21 38.33) scale(0.05 0.05)"/><use href="#g83" transform="translate(676.81 38.33) scale(0.05 0.05)"/><use href="#g81" transform="translate(686.4 38.33) scale(0.05 0.05)"/><use href="#g112" transform="translate(696 38.33) scale(0.05 0.05)"/><use href="#g113" transform="translate(705.59 38.33) scale(0.05 0.05)"/><use href="#g114" transform="translate(715.19 38.33) scale(0.05 0.05)"/><use href="#g115" transform="translate(724.78 38.33) scale(0.05 0.05)"/><use href="#g116" transform="translate(734.38 38.33) scale(0.05 0.05)"/><use href="#g86" transform="translate(743.97 38.33) scale(0.05 0.05)"/><use href="#g117" transform="translate(753.57 38.33) scale(0.05 0.05)"/></g><g role="img" aria-label="兵力十二萬人，在合肥集結，稔"><use href="#g118" transform="translate(628.83 48.93) scale(0.05 0.05)"/><use href="#g94" transform="translate(638.43 48.93) scale(0.05 0.05)"/><use href="#g119" transform="translate(648.02 48.93) scale(0.05 0.05)"/><use href="#g83" transform="translate(657.62 48.93) scale(0.05 0.05)"/><use href="#g60" transform="translate(667.21 48.93) scale(0.05 0.05)"/><use href="#g120" transform="translate(676.81 48.93) scale(0.05 0.05)"/><use href="#g86" transform="translate(686.4 48.93) scale(0.05 0.05)"/><use href="#g121" transform="translate(696 48.93) scale(0.05 0.05)"/><use href="#g33" transform="translate(705.59 48.93) scale(0.05 0.05)"/><use href="#g34" transform="translate(715.19 48.93) scale(0.05 0.05)"/><use href="#g28" transform="translate(724.78 48.93) scale(0.05 0.05)"/><use href="#g122" transform="translate(734.38 48.93) scale(0.05 0.05)"/><use href="#g86" transform="translate(743.97 48.93) scale(0.05 0.05)"/><use href="#g112" transform="translate(753.57 48.93) scale(0.05 0.05)"/></g><g role="img" aria-label="彥王按兵不動，直到"><use href="#g113" transform="translate(628.83 59.73) scale(0.05 0.05)"/><use href="#g114" transform="translate(638.3 59.73) scale(0.05 0.05)"/><use href="#g123" transform="translate(647.76 59.73) scale(0.05 0.05)"/><use href="#g118" transform="translate(657.23 59.73) scale(0.05 0.05)"/><use href="#g124" transform="translate(666.7 59.73) scale(0.05 0.05)"/><use href="#g125" transform="translate(676.17 59.73) scale(0.05 0.05)"/><use href="#g86" transform="translate(685.63 59.73) scale(0.05 0.05)"/><use href="#g126" transform="translate(695.1 59.73) scale(0.05 0.05)"/><use href="#g127" transform="translate(704.57 59.73) scale(0.05 0.05)"/></g><g role="img" aria-label="才沿"><use href="#g128" transform="translate(743.63 59.73) scale(0.05 0.05)"/><use href="#g129" transform="translate(753.57 59.73) scale(0.05 0.05)"/></g><g role="img" aria-label="大別山由東向西發起攻擊"><use href="#g17" transform="translate(628.83 70.63) scale(0.05 0.05)"/><use href="#g18" transform="translate(638.09 70.63) scale(0.05 0.05)"/><use href="#g12" transform="translate(647.36 70.63) scale(0.05 0.05)"/><use href="#g108" transform="translate(656.62 70.63) scale(0.05 0.05)"/><use href="#g130" transform="translate(665.89 70.63) scale(0.05 0.05)"/><use href="#g131" transform="translate(675.15 70.63) scale(0.05 0.05)"/><use href="#g132" transform="translate(684.41 70.63) scale(0.05 0.05)"/><use href="#g133" transform="translate(693.68 70.63) scale(0.05 0.05)"/><use href="#g134" transform="translate(702.94 70.63) scale(0.05 0.05)"/><use href="#g84" transform="translate(712.21 70.63) scale(0.05 0.05)"/><use href="#g105" transform="translate(721.47 70.63) scale(0.05 0.05)"/></g><g role="img" aria-label="華軍七十一軍宋希"><use href="#g90" transform="translate(413.53 139.43) scale(0.05 0.05)"/><use href="#g81" transform="translate(423.72 139.43) scale(0.05 0.05)"/><use href="#g135" transform="translate(433.91 139.43) scale(0.05 0.05)"/><use href="#g119" transform="translate(444.1 139.43) scale(0.05 0.05)"/><use href="#g136" transform="translate(454.3 139.43) scale(0.05 0.05)"/><use href="#g81" transform="translate(464.49 139.43) scale(0.05 0.05)"/><use href="#g100" transform="translate(474.68 139.43) scale(0.05 0.05)"/><use href="#g101" transform="translate(484.87 139.43) scale(0.05 0.05)"/></g><g role="img" aria-label="濂部，在富金山憑"><use href="#g102" transform="translate(413.53 150.33) scale(0.05 0.05)"/><use href="#g93" transform="translate(423.72 150.33) scale(0.05 0.05)"/><use href="#g86" transform="translate(433.91 150.33) scale(0.05 0.05)"/><use href="#g121" transform="translate(444.1 150.33) scale(0.05 0.05)"/><use href="#g29" transform="translate(454.3 150.33) scale(0.05 0.05)"/><use href="#g30" transform="translate(464.49 150.33) scale(0.05 0.05)"/><use href="#g12" transform="translate(474.68 150.33) scale(0.05 0.05)"/><use href="#g137" transform="translate(484.87 150.33) scale(0.05 0.05)"/></g><g role="img" aria-label="險設置陣地，日軍"><use href="#g138" transform="translate(413.53 161.13) scale(0.05 0.05)"/><use href="#g139" transform="translate(423.72 161.13) scale(0.05 0.05)"/><use href="#g140" transform="translate(433.91 161.13) scale(0.05 0.05)"/><use href="#g141" transform="translate(444.1 161.13) scale(0.05 0.05)"/><use href="#g142" transform="translate(454.3 161.13) scale(0.05 0.05)"/><use href="#g86" transform="translate(464.49 161.13) scale(0.05 0.05)"/><use href="#g80" transform="translate(474.68 161.13) scale(0.05 0.05)"/><use href="#g81" transform="translate(484.87 161.13) scale(0.05 0.05)"/></g><g role="img" aria-label="以兩個師團合力圍"><use href="#g143" transform="translate(413.53 172.43) scale(0.05 0.05)"/><use href="#g144" transform="translate(423.72 172.43) scale(0.05 0.05)"/><use href="#g145" transform="translate(433.91 172.43) scale(0.05 0.05)"/><use href="#g146" transform="translate(444.1 172.43) scale(0.05 0.05)"/><use href="#g147" transform="translate(454.3 172.43) scale(0.05 0.05)"/><use href="#g33" transform="translate(464.49 172.43) scale(0.05 0.05)"/><use href="#g94" transform="translate(474.68 172.43) scale(0.05 0.05)"/><use href="#g148" transform="translate(484.87 172.43) scale(0.05 0.05)"/></g><g role="img" aria-label="攻，華軍仍然血戰"><use href="#g84" transform="translate(413.53 183.23) scale(0.05 0.05)"/><use href="#g86" transform="translate(423.72 183.23) scale(0.05 0.05)"/><use href="#g90" transform="translate(433.91 183.23) scale(0.05 0.05)"/><use href="#g81" transform="translate(444.1 183.23) scale(0.05 0.05)"/><use href="#g149" transform="translate(454.3 183.23) scale(0.05 0.05)"/><use href="#g150" transform="translate(464.49 183.23) scale(0.05 0.05)"/><use href="#g99" transform="translate(474.68 183.23) scale(0.05 0.05)"/><use href="#g95" transform="translate(484.87 183.23) scale(0.05 0.05)"/></g><g role="img" aria-label="不退，造成日軍死"><use href="#g124" transform="translate(413.53 194.23) scale(0.05 0.05)"/><use href="#g151" transform="translate(423.72 194.23) scale(0.05 0.05)"/><use href="#g86" transform="translate(433.91 194.23) scale(0.05 0.05)"/><use href="#g152" transform="translate(444.1 194.23) scale(0.05 0.05)"/><use href="#g153" transform="translate(454.3 194.23) scale(0.05 0.05)"/><use href="#g80" transform="translate(464.49 194.23) scale(0.05 0.05)"/><use href="#g81" transform="translate(474.68 194.23) scale(0.05 0.05)"/><use href="#g154" transform="translate(484.87 194.23) scale(0.05 0.05)"/></g><g role="img" aria-label="傷纍纍"><use href="#g155" transform="translate(413.53 205.43) scale(0.05 0.05)"/><use href="#g156" transform="translate(423.25 205.43) scale(0.05 0.05)"/><use href="#g156" transform="translate(432.97 205.43) scale(0.05 0.05)"/></g><g role="img" aria-label="岡"><use href="#g157" transform="translate(320.65 257.13) scale(0.05 0.05)"/></g><g role="img" aria-label="村寧次統帥的日軍"><use href="#g158" transform="translate(254.03 268.53) scale(0.05 0.05)"/><use href="#g75" transform="translate(263.55 268.53) scale(0.05 0.05)"/><use href="#g159" transform="translate(273.07 268.53) scale(0.05 0.05)"/><use href="#g160" transform="translate(282.59 268.53) scale(0.05 0.05)"/><use href="#g161" transform="translate(292.11 268.53) scale(0.05 0.05)"/><use href="#g106" transform="translate(301.63 268.53) scale(0.05 0.05)"/><use href="#g80" transform="translate(311.15 268.53) scale(0.05 0.05)"/><use href="#g81" transform="translate(320.67 268.53) scale(0.05 0.05)"/></g><g role="img" aria-label="十一軍攻陷武漢空"><use href="#g119" transform="translate(254.03 279.73) scale(0.05 0.05)"/><use href="#g136" transform="translate(263.55 279.73) scale(0.05 0.05)"/><use href="#g81" transform="translate(273.07 279.73) scale(0.05 0.05)"/><use href="#g84" transform="translate(282.59 279.73) scale(0.05 0.05)"/><use href="#g85" transform="translate(292.11 279.73) scale(0.05 0.05)"/><use href="#g4" transform="translate(301.63 279.73) scale(0.05 0.05)"/><use href="#g8" transform="translate(311.15 279.73) scale(0.05 0.05)"/><use href="#g162" transform="translate(320.67 279.73) scale(0.05 0.05)"/></g><g role="img" aria-label="城"><use href="#g16" transform="translate(254.3 291.33) scale(0.05 0.05)"/></g><g role="img" aria-label="白崇禧"><use href="#g163" transform="translate(525.53 259.93) scale(0.05 0.05)"/><use href="#g76" transform="translate(535.35 259.93) scale(0.05 0.05)"/><use href="#g164" transform="translate(545.17 259.93) scale(0.05 0.05)"/></g><g role="img" aria-label="指揮華軍包圍"><use href="#g115" transform="translate(493.93 270.93) scale(0.05 0.05)"/><use href="#g116" transform="translate(504.18 270.93) scale(0.05 0.05)"/><use href="#g90" transform="translate(514.43 270.93) scale(0.05 0.05)"/><use href="#g81" transform="translate(524.67 270.93) scale(0.05 0.05)"/><use href="#g165" transform="translate(534.92 270.93) scale(0.05 0.05)"/><use href="#g148" transform="translate(545.17 270.93) scale(0.05 0.05)"/></g><g role="img" aria-label="江北的日第六"><use href="#g54" transform="translate(493.93 281.83) scale(0.05 0.05)"/><use href="#g107" transform="translate(504.18 281.83) scale(0.05 0.05)"/><use href="#g106" transform="translate(514.43 281.83) scale(0.05 0.05)"/><use href="#g80" transform="translate(524.67 281.83) scale(0.05 0.05)"/><use href="#g82" transform="translate(534.92 281.83) scale(0.05 0.05)"/><use href="#g31" transform="translate(545.17 281.83) scale(0.05 0.05)"/></g><g role="img" aria-label="師團不成"><use href="#g146" transform="translate(493.93 293.33) scale(0.05 0.05)"/><use href="#g147" transform="translate(503.18 293.33) scale(0.05 0.05)"/><use href="#g124" transform="translate(512.42 293.33) scale(0.05 0.05)"/><use href="#g153" transform="translate(521.67 293.33) scale(0.05 0.05)"/></g><g role="img" aria-label="日軍第六師團"><use href="#g80" transform="translate(540.73 332.83) scale(0.05 0.05)"/><use href="#g81" transform="translate(549.92 332.83) scale(0.05 0.05)"/><use href="#g82" transform="translate(559.11 332.83) scale(0.05 0.05)"/><use href="#g31" transform="translate(568.29 332.83) scale(0.05 0.05)"/><use href="#g146" transform="translate(577.48 332.83) scale(0.05 0.05)"/><use href="#g147" transform="translate(586.67 332.83) scale(0.05 0.05)"/></g><g role="img" aria-label="日軍第十一"><use href="#g80" transform="translate(650.43 340.83) scale(0.05 0.05)"/><use href="#g81" transform="translate(660.59 340.83) scale(0.05 0.05)"/><use href="#g82" transform="translate(670.75 340.83) scale(0.05 0.05)"/><use href="#g119" transform="translate(680.91 340.83) scale(0.05 0.05)"/><use href="#g136" transform="translate(691.07 340.83) scale(0.05 0.05)"/></g><g role="img" aria-label="軍登陸安慶，旋陷"><use href="#g81" transform="translate(619.73 352.33) scale(0.05 0.05)"/><use href="#g166" transform="translate(629.92 352.33) scale(0.05 0.05)"/><use href="#g35" transform="translate(640.11 352.33) scale(0.05 0.05)"/><use href="#g32" transform="translate(650.3 352.33) scale(0.05 0.05)"/><use href="#g67" transform="translate(660.5 352.33) scale(0.05 0.05)"/><use href="#g86" transform="translate(670.69 352.33) scale(0.05 0.05)"/><use href="#g167" transform="translate(680.88 352.33) scale(0.05 0.05)"/><use href="#g85" transform="translate(691.07 352.33) scale(0.05 0.05)"/></g><g role="img" aria-label="上游馬當要塞"><use href="#g168" transform="translate(619.73 363.13) scale(0.05 0.05)"/><use href="#g169" transform="translate(629.28 363.13) scale(0.05 0.05)"/><use href="#g68" transform="translate(638.83 363.13) scale(0.05 0.05)"/><use href="#g69" transform="translate(648.37 363.13) scale(0.05 0.05)"/><use href="#g170" transform="translate(657.92 363.13) scale(0.05 0.05)"/><use href="#g171" transform="translate(667.47 363.13) scale(0.05 0.05)"/></g><g role="img" aria-label="廣濟之戰進行了八"><use href="#g46" transform="translate(387.83 313.73) scale(0.05 0.05)"/><use href="#g47" transform="translate(398.86 313.73) scale(0.05 0.05)"/><use href="#g172" transform="translate(409.9 313.73) scale(0.05 0.05)"/><use href="#g95" transform="translate(420.93 313.73) scale(0.05 0.05)"/><use href="#g173" transform="translate(431.97 313.73) scale(0.05 0.05)"/><use href="#g174" transform="translate(443 313.73) scale(0.05 0.05)"/><use href="#g175" transform="translate(454.04 313.73) scale(0.05 0.05)"/><use href="#g176" transform="translate(465.07 313.73) scale(0.05 0.05)"/></g><g role="img" aria-label="晝夜，而於"><use href="#g177" transform="translate(387.83 324.53) scale(0.05 0.05)"/><use href="#g178" transform="translate(397.46 324.53) scale(0.05 0.05)"/><use href="#g86" transform="translate(407.1 324.53) scale(0.05 0.05)"/><use href="#g179" transform="translate(416.74 324.53) scale(0.05 0.05)"/><use href="#g180" transform="translate(426.37 324.53) scale(0.05 0.05)"/></g><g role="img" aria-label="失"><use href="#g181" transform="translate(464.7 324.53) scale(0.05 0.05)"/></g><g role="img" aria-label="守；田家鎮守軍在彈"><use href="#g104" transform="translate(387.83 335.43) scale(0.05 0.05)"/><use href="#g182" transform="translate(397.48 335.43) scale(0.05 0.05)"/><use href="#g48" transform="translate(407.14 335.43) scale(0.05 0.05)"/><use href="#g27" transform="translate(416.79 335.43) scale(0.05 0.05)"/><use href="#g49" transform="translate(426.45 335.43) scale(0.05 0.05)"/><use href="#g104" transform="translate(436.1 335.43) scale(0.05 0.05)"/><use href="#g81" transform="translate(445.76 335.43) scale(0.05 0.05)"/><use href="#g121" transform="translate(455.41 335.43) scale(0.05 0.05)"/><use href="#g183" transform="translate(465.07 335.43) scale(0.05 0.05)"/></g><g role="img" aria-label="盡援下於"><use href="#g184" transform="translate(387.83 346.03) scale(0.05 0.05)"/><use href="#g185" transform="translate(398.11 346.03) scale(0.05 0.05)"/><use href="#g186" transform="translate(408.39 346.03) scale(0.05 0.05)"/><use href="#g180" transform="translate(418.67 346.03) scale(0.05 0.05)"/></g><g role="img" aria-label="陷"><use href="#g85" transform="translate(464.7 346.03) scale(0.05 0.05)"/></g><g role="img" aria-label="落，但日軍的攻擊力"><use href="#g187" transform="translate(387.83 357.23) scale(0.05 0.05)"/><use href="#g86" transform="translate(397.48 357.23) scale(0.05 0.05)"/><use href="#g188" transform="translate(407.14 357.23) scale(0.05 0.05)"/><use href="#g80" transform="translate(416.79 357.23) scale(0.05 0.05)"/><use href="#g81" transform="translate(426.45 357.23) scale(0.05 0.05)"/><use href="#g106" transform="translate(436.1 357.23) scale(0.05 0.05)"/><use href="#g84" transform="translate(445.76 357.23) scale(0.05 0.05)"/><use href="#g105" transform="translate(455.41 357.23) scale(0.05 0.05)"/><use href="#g94" transform="translate(465.07 357.23) scale(0.05 0.05)"/></g><g role="img" aria-label="也到了不繼的地步"><use href="#g189" transform="translate(387.83 368.03) scale(0.05 0.05)"/><use href="#g127" transform="translate(397.05 368.03) scale(0.05 0.05)"/><use href="#g175" transform="translate(406.27 368.03) scale(0.05 0.05)"/><use href="#g124" transform="translate(415.49 368.03) scale(0.05 0.05)"/><use href="#g190" transform="translate(424.71 368.03) scale(0.05 0.05)"/><use href="#g106" transform="translate(433.93 368.03) scale(0.05 0.05)"/><use href="#g142" transform="translate(443.15 368.03) scale(0.05 0.05)"/><use href="#g191" transform="translate(452.37 368.03) scale(0.05 0.05)"/></g><g role="img" aria-label="日本十一軍司令岡村寧"><use href="#g80" transform="translate(28.33 358.53) scale(0.05 0.05)"/><use href="#g192" transform="translate(37.6 358.53) scale(0.05 0.05)"/><use href="#g119" transform="translate(46.87 358.53) scale(0.05 0.05)"/><use href="#g136" transform="translate(56.14 358.53) scale(0.05 0.05)"/><use href="#g81" transform="translate(65.41 358.53) scale(0.05 0.05)"/><use href="#g193" transform="translate(74.69 358.53) scale(0.05 0.05)"/><use href="#g194" transform="translate(83.96 358.53) scale(0.05 0.05)"/><use href="#g157" transform="translate(93.23 358.53) scale(0.05 0.05)"/><use href="#g158" transform="translate(102.5 358.53) scale(0.05 0.05)"/><use href="#g75" transform="translate(111.77 358.53) scale(0.05 0.05)"/></g><g role="img" aria-label="次為了爭功搶先拿下武"><use href="#g159" transform="translate(28.33 369.63) scale(0.05 0.05)"/><use href="#g195" transform="translate(37.6 369.63) scale(0.05 0.05)"/><use href="#g175" transform="translate(46.87 369.63) scale(0.05 0.05)"/><use href="#g196" transform="translate(56.14 369.63) scale(0.05 0.05)"/><use href="#g197" transform="translate(65.41 369.63) scale(0.05 0.05)"/><use href="#g198" transform="translate(74.69 369.63) scale(0.05 0.05)"/><use href="#g199" transform="translate(83.96 369.63) scale(0.05 0.05)"/><use href="#g200" transform="translate(93.23 369.63) scale(0.05 0.05)"/><use href="#g186" transform="translate(102.5 369.63) scale(0.05 0.05)"/><use href="#g4" transform="translate(111.77 369.63) scale(0.05 0.05)"/></g><g role="img" aria-label="漢，而放棄截斷武漢周"><use href="#g8" transform="translate(28.33 380.73) scale(0.05 0.05)"/><use href="#g86" transform="translate(37.6 380.73) scale(0.05 0.05)"/><use href="#g179" transform="translate(46.87 380.73) scale(0.05 0.05)"/><use href="#g201" transform="translate(56.14 380.73) scale(0.05 0.05)"/><use href="#g202" transform="translate(65.41 380.73) scale(0.05 0.05)"/><use href="#g203" transform="translate(74.69 380.73) scale(0.05 0.05)"/><use href="#g89" transform="translate(83.96 380.73) scale(0.05 0.05)"/><use href="#g4" transform="translate(93.23 380.73) scale(0.05 0.05)"/><use href="#g8" transform="translate(102.5 380.73) scale(0.05 0.05)"/><use href="#g204" transform="translate(111.77 380.73) scale(0.05 0.05)"/></g><g role="img" aria-label="圍華軍撤退路線的包圍"><use href="#g148" transform="translate(28.33 391.73) scale(0.05 0.05)"/><use href="#g90" transform="translate(37.6 391.73) scale(0.05 0.05)"/><use href="#g81" transform="translate(46.87 391.73) scale(0.05 0.05)"/><use href="#g205" transform="translate(56.14 391.73) scale(0.05 0.05)"/><use href="#g151" transform="translate(65.41 391.73) scale(0.05 0.05)"/><use href="#g10" transform="translate(74.69 391.73) scale(0.05 0.05)"/><use href="#g206" transform="translate(83.96 391.73) scale(0.05 0.05)"/><use href="#g106" transform="translate(93.23 391.73) scale(0.05 0.05)"/><use href="#g165" transform="translate(102.5 391.73) scale(0.05 0.05)"/><use href="#g148" transform="translate(111.77 391.73) scale(0.05 0.05)"/></g><g role="img" aria-label="作戰，華軍主力以保持"><use href="#g207" transform="translate(28.33 403.23) scale(0.05 0.05)"/><use href="#g95" transform="translate(37.6 403.23) scale(0.05 0.05)"/><use href="#g86" transform="translate(46.87 403.23) scale(0.05 0.05)"/><use href="#g90" transform="translate(56.14 403.23) scale(0.05 0.05)"/><use href="#g81" transform="translate(65.41 403.23) scale(0.05 0.05)"/><use href="#g208" transform="translate(74.69 403.23) scale(0.05 0.05)"/><use href="#g94" transform="translate(83.96 403.23) scale(0.05 0.05)"/><use href="#g143" transform="translate(93.23 403.23) scale(0.05 0.05)"/><use href="#g209" transform="translate(102.5 403.23) scale(0.05 0.05)"/><use href="#g210" transform="translate(111.77 403.23) scale(0.05 0.05)"/></g><g role="img" aria-label="完整建制退出武漢地區"><use href="#g211" transform="translate(28.33 414.43) scale(0.05 0.05)"/><use href="#g212" transform="translate(37.6 414.43) scale(0.05 0.05)"/><use href="#g213" transform="translate(46.87 414.43) scale(0.05 0.05)"/><use href="#g214" transform="translate(56.14 414.43) scale(0.05 0.05)"/><use href="#g151" transform="translate(65.41 414.43) scale(0.05 0.05)"/><use href="#g215" transform="translate(74.69 414.43) scale(0.05 0.05)"/><use href="#g4" transform="translate(83.96 414.43) scale(0.05 0.05)"/><use href="#g8" transform="translate(93.23 414.43) scale(0.05 0.05)"/><use href="#g142" transform="translate(102.5 414.43) scale(0.05 0.05)"/><use href="#g216" transform="translate(111.77 414.43) scale(0.05 0.05)"/></g><g role="img" aria-label="日軍發動武漢會戰，南"><use href="#g80" transform="translate(670.73 407.53) scale(0.05 0.05)"/><use href="#g81" transform="translate(680.05 407.53) scale(0.05 0.05)"/><use href="#g133" transform="translate(689.36 407.53) scale(0.05 0.05)"/><use href="#g125" transform="translate(698.68 407.53) scale(0.05 0.05)"/><use href="#g4" transform="translate(707.99 407.53) scale(0.05 0.05)"/><use href="#g8" transform="translate(717.31 407.53) scale(0.05 0.05)"/><use href="#g217" transform="translate(726.62 407.53) scale(0.05 0.05)"/><use href="#g95" transform="translate(735.94 407.53) scale(0.05 0.05)"/><use href="#g86" transform="translate(745.25 407.53) scale(0.05 0.05)"/><use href="#g78" transform="translate(754.57 407.53) scale(0.05 0.05)"/></g><g role="img" aria-label="路軍由華中派遣軍十一軍的岡村寧"><use href="#g10" transform="translate(617.13 419.03) scale(0.05 0.05)"/><use href="#g81" transform="translate(626.95 419.03) scale(0.05 0.05)"/><use href="#g108" transform="translate(636.76 419.03) scale(0.05 0.05)"/><use href="#g90" transform="translate(646.58 419.03) scale(0.05 0.05)"/><use href="#g218" transform="translate(656.4 419.03) scale(0.05 0.05)"/><use href="#g219" transform="translate(666.22 419.03) scale(0.05 0.05)"/><use href="#g220" transform="translate(676.03 419.03) scale(0.05 0.05)"/><use href="#g81" transform="translate(685.85 419.03) scale(0.05 0.05)"/><use href="#g119" transform="translate(695.67 419.03) scale(0.05 0.05)"/><use href="#g136" transform="translate(705.48 419.03) scale(0.05 0.05)"/><use href="#g81" transform="translate(715.3 419.03) scale(0.05 0.05)"/><use href="#g106" transform="translate(725.12 419.03) scale(0.05 0.05)"/><use href="#g157" transform="translate(734.94 419.03) scale(0.05 0.05)"/><use href="#g158" transform="translate(744.75 419.03) scale(0.05 0.05)"/><use href="#g75" transform="translate(754.57 419.03) scale(0.05 0.05)"/></g><g role="img" aria-label="次指揮，兵力達十五萬人，在九江"><use href="#g159" transform="translate(617.13 430.53) scale(0.05 0.05)"/><use href="#g115" transform="translate(626.95 430.53) scale(0.05 0.05)"/><use href="#g116" transform="translate(636.76 430.53) scale(0.05 0.05)"/><use href="#g86" transform="translate(646.58 430.53) scale(0.05 0.05)"/><use href="#g118" transform="translate(656.4 430.53) scale(0.05 0.05)"/><use href="#g94" transform="translate(666.22 430.53) scale(0.05 0.05)"/><use href="#g221" transform="translate(676.03 430.53) scale(0.05 0.05)"/><use href="#g119" transform="translate(685.85 430.53) scale(0.05 0.05)"/><use href="#g222" transform="translate(695.67 430.53) scale(0.05 0.05)"/><use href="#g60" transform="translate(705.48 430.53) scale(0.05 0.05)"/><use href="#g120" transform="translate(715.3 430.53) scale(0.05 0.05)"/><use href="#g86" transform="translate(725.12 430.53) scale(0.05 0.05)"/><use href="#g121" transform="translate(734.94 430.53) scale(0.05 0.05)"/><use href="#g53" transform="translate(744.75 430.53) scale(0.05 0.05)"/><use href="#g54" transform="translate(754.57 430.53) scale(0.05 0.05)"/></g><g role="img" aria-label="集結後，沿長江南北兩岸進攻武漢"><use href="#g28" transform="translate(617.13 441.83) scale(0.05 0.05)"/><use href="#g122" transform="translate(626.33 441.83) scale(0.05 0.05)"/><use href="#g223" transform="translate(635.52 441.83) scale(0.05 0.05)"/><use href="#g86" transform="translate(644.72 441.83) scale(0.05 0.05)"/><use href="#g129" transform="translate(653.91 441.83) scale(0.05 0.05)"/><use href="#g224" transform="translate(663.11 441.83) scale(0.05 0.05)"/><use href="#g54" transform="translate(672.3 441.83) scale(0.05 0.05)"/><use href="#g78" transform="translate(681.5 441.83) scale(0.05 0.05)"/><use href="#g107" transform="translate(690.7 441.83) scale(0.05 0.05)"/><use href="#g144" transform="translate(699.89 441.83) scale(0.05 0.05)"/><use href="#g225" transform="translate(709.09 441.83) scale(0.05 0.05)"/><use href="#g173" transform="translate(718.28 441.83) scale(0.05 0.05)"/><use href="#g84" transform="translate(727.48 441.83) scale(0.05 0.05)"/><use href="#g4" transform="translate(736.67 441.83) scale(0.05 0.05)"/><use href="#g8" transform="translate(745.87 441.83) scale(0.05 0.05)"/></g><g role="img" aria-label="日軍登陸九"><use href="#g80" transform="translate(542.33 480.13) scale(0.05 0.05)"/><use href="#g81" transform="translate(553.56 480.13) scale(0.05 0.05)"/><use href="#g166" transform="translate(564.8 480.13) scale(0.05 0.05)"/><use href="#g35" transform="translate(576.03 480.13) scale(0.05 0.05)"/><use href="#g53" transform="translate(587.27 480.13) scale(0.05 0.05)"/></g><g role="img" aria-label="江，中日在星子到德"><use href="#g54" transform="translate(510.03 491.73) scale(0.05 0.05)"/><use href="#g86" transform="translate(519.68 491.73) scale(0.05 0.05)"/><use href="#g218" transform="translate(529.34 491.73) scale(0.05 0.05)"/><use href="#g80" transform="translate(539 491.73) scale(0.05 0.05)"/><use href="#g121" transform="translate(548.65 491.73) scale(0.05 0.05)"/><use href="#g57" transform="translate(558.3 491.73) scale(0.05 0.05)"/><use href="#g58" transform="translate(567.96 491.73) scale(0.05 0.05)"/><use href="#g127" transform="translate(577.62 491.73) scale(0.05 0.05)"/><use href="#g59" transform="translate(587.27 491.73) scale(0.05 0.05)"/></g><g role="img" aria-label="安激戰，固守廬山的"><use href="#g32" transform="translate(510.03 501.83) scale(0.05 0.05)"/><use href="#g226" transform="translate(519.68 501.83) scale(0.05 0.05)"/><use href="#g95" transform="translate(529.34 501.83) scale(0.05 0.05)"/><use href="#g86" transform="translate(539 501.83) scale(0.05 0.05)"/><use href="#g24" transform="translate(548.65 501.83) scale(0.05 0.05)"/><use href="#g104" transform="translate(558.3 501.83) scale(0.05 0.05)"/><use href="#g56" transform="translate(567.96 501.83) scale(0.05 0.05)"/><use href="#g12" transform="translate(577.62 501.83) scale(0.05 0.05)"/><use href="#g106" transform="translate(587.27 501.83) scale(0.05 0.05)"/></g><g role="img" aria-label="華軍七十軍造成日軍"><use href="#g90" transform="translate(510.03 513.13) scale(0.05 0.05)"/><use href="#g81" transform="translate(519.68 513.13) scale(0.05 0.05)"/><use href="#g135" transform="translate(529.34 513.13) scale(0.05 0.05)"/><use href="#g119" transform="translate(539 513.13) scale(0.05 0.05)"/><use href="#g81" transform="translate(548.65 513.13) scale(0.05 0.05)"/><use href="#g152" transform="translate(558.3 513.13) scale(0.05 0.05)"/><use href="#g153" transform="translate(567.96 513.13) scale(0.05 0.05)"/><use href="#g80" transform="translate(577.62 513.13) scale(0.05 0.05)"/><use href="#g81" transform="translate(587.27 513.13) scale(0.05 0.05)"/></g><g role="img" aria-label="三個師團重大傷亡"><use href="#g227" transform="translate(510.03 523.63) scale(0.05 0.05)"/><use href="#g145" transform="translate(519.15 523.63) scale(0.05 0.05)"/><use href="#g146" transform="translate(528.27 523.63) scale(0.05 0.05)"/><use href="#g147" transform="translate(537.39 523.63) scale(0.05 0.05)"/><use href="#g228" transform="translate(546.51 523.63) scale(0.05 0.05)"/><use href="#g17" transform="translate(555.63 523.63) scale(0.05 0.05)"/><use href="#g155" transform="translate(564.75 523.63) scale(0.05 0.05)"/><use href="#g229" transform="translate(573.87 523.63) scale(0.05 0.05)"/></g><g role="img" aria-label="企圖包抄德安華軍戰"><use href="#g230" transform="translate(358.33 567.03) scale(0.05 0.05)"/><use href="#g231" transform="translate(367.77 567.03) scale(0.05 0.05)"/><use href="#g165" transform="translate(377.21 567.03) scale(0.05 0.05)"/><use href="#g232" transform="translate(386.66 567.03) scale(0.05 0.05)"/><use href="#g59" transform="translate(396.1 567.03) scale(0.05 0.05)"/><use href="#g32" transform="translate(405.54 567.03) scale(0.05 0.05)"/><use href="#g90" transform="translate(414.98 567.03) scale(0.05 0.05)"/><use href="#g81" transform="translate(424.43 567.03) scale(0.05 0.05)"/><use href="#g95" transform="translate(433.87 567.03) scale(0.05 0.05)"/></g><g role="img" aria-label="線側後方的日軍第一〇六師"><use href="#g206" transform="translate(328.83 578.33) scale(0.05 0.05)"/><use href="#g233" transform="translate(338.38 578.33) scale(0.05 0.05)"/><use href="#g223" transform="translate(347.93 578.33) scale(0.05 0.05)"/><use href="#g110" transform="translate(357.48 578.33) scale(0.05 0.05)"/><use href="#g106" transform="translate(367.03 578.33) scale(0.05 0.05)"/><use href="#g80" transform="translate(376.58 578.33) scale(0.05 0.05)"/><use href="#g81" transform="translate(386.12 578.33) scale(0.05 0.05)"/><use href="#g82" transform="translate(395.67 578.33) scale(0.05 0.05)"/><use href="#g136" transform="translate(405.22 578.33) scale(0.05 0.05)"/><use href="#g234" transform="translate(414.77 578.33) scale(0.05 0.05)"/><use href="#g31" transform="translate(424.32 578.33) scale(0.05 0.05)"/><use href="#g146" transform="translate(433.87 578.33) scale(0.05 0.05)"/></g><g role="img" aria-label="團，在萬家嶺迷路，薛岳"><use href="#g147" transform="translate(328.83 589.43) scale(0.05 0.05)"/><use href="#g86" transform="translate(339.33 589.43) scale(0.05 0.05)"/><use href="#g121" transform="translate(349.84 589.43) scale(0.05 0.05)"/><use href="#g60" transform="translate(360.34 589.43) scale(0.05 0.05)"/><use href="#g27" transform="translate(370.85 589.43) scale(0.05 0.05)"/><use href="#g61" transform="translate(381.35 589.43) scale(0.05 0.05)"/><use href="#g235" transform="translate(391.85 589.43) scale(0.05 0.05)"/><use href="#g10" transform="translate(402.36 589.43) scale(0.05 0.05)"/><use href="#g86" transform="translate(412.86 589.43) scale(0.05 0.05)"/><use href="#g236" transform="translate(423.37 589.43) scale(0.05 0.05)"/><use href="#g77" transform="translate(433.87 589.43) scale(0.05 0.05)"/></g><g role="img" aria-label="調動華軍圍殲這支日軍，"><use href="#g237" transform="translate(328.83 600.13) scale(0.05 0.05)"/><use href="#g125" transform="translate(339.33 600.13) scale(0.05 0.05)"/><use href="#g90" transform="translate(349.84 600.13) scale(0.05 0.05)"/><use href="#g81" transform="translate(360.34 600.13) scale(0.05 0.05)"/><use href="#g148" transform="translate(370.85 600.13) scale(0.05 0.05)"/><use href="#g238" transform="translate(381.35 600.13) scale(0.05 0.05)"/><use href="#g239" transform="translate(391.85 600.13) scale(0.05 0.05)"/><use href="#g240" transform="translate(402.36 600.13) scale(0.05 0.05)"/><use href="#g80" transform="translate(412.86 600.13) scale(0.05 0.05)"/><use href="#g81" transform="translate(423.37 600.13) scale(0.05 0.05)"/><use href="#g86" transform="translate(433.87 600.13) scale(0.05 0.05)"/></g><g role="img" aria-label="中、日雙方在萬家嶺血戰"><use href="#g218" transform="translate(328.83 611.43) scale(0.05 0.05)"/><use href="#g241" transform="translate(339.33 611.43) scale(0.05 0.05)"/><use href="#g80" transform="translate(349.84 611.43) scale(0.05 0.05)"/><use href="#g242" transform="translate(360.34 611.43) scale(0.05 0.05)"/><use href="#g110" transform="translate(370.85 611.43) scale(0.05 0.05)"/><use href="#g121" transform="translate(381.35 611.43) scale(0.05 0.05)"/><use href="#g60" transform="translate(391.85 611.43) scale(0.05 0.05)"/><use href="#g27" transform="translate(402.36 611.43) scale(0.05 0.05)"/><use href="#g61" transform="translate(412.86 611.43) scale(0.05 0.05)"/><use href="#g99" transform="translate(423.37 611.43) scale(0.05 0.05)"/><use href="#g95" transform="translate(433.87 611.43) scale(0.05 0.05)"/></g><g role="img" aria-label="天，最後一〇六師團雖"><use href="#g243" transform="translate(344.93 622.13) scale(0.05 0.05)"/><use href="#g86" transform="translate(354.81 622.13) scale(0.05 0.05)"/><use href="#g244" transform="translate(364.69 622.13) scale(0.05 0.05)"/><use href="#g223" transform="translate(374.58 622.13) scale(0.05 0.05)"/><use href="#g136" transform="translate(384.46 622.13) scale(0.05 0.05)"/><use href="#g234" transform="translate(394.34 622.13) scale(0.05 0.05)"/><use href="#g31" transform="translate(404.22 622.13) scale(0.05 0.05)"/><use href="#g146" transform="translate(414.11 622.13) scale(0.05 0.05)"/><use href="#g147" transform="translate(423.99 622.13) scale(0.05 0.05)"/><use href="#g245" transform="translate(433.87 622.13) scale(0.05 0.05)"/></g><g role="img" aria-label="被援軍救出，但岡村寧次為"><use href="#g87" transform="translate(328.83 632.83) scale(0.05 0.05)"/><use href="#g185" transform="translate(338.38 632.83) scale(0.05 0.05)"/><use href="#g81" transform="translate(347.93 632.83) scale(0.05 0.05)"/><use href="#g246" transform="translate(357.48 632.83) scale(0.05 0.05)"/><use href="#g215" transform="translate(367.03 632.83) scale(0.05 0.05)"/><use href="#g86" transform="translate(376.58 632.83) scale(0.05 0.05)"/><use href="#g188" transform="translate(386.12 632.83) scale(0.05 0.05)"/><use href="#g157" transform="translate(395.67 632.83) scale(0.05 0.05)"/><use href="#g158" transform="translate(405.22 632.83) scale(0.05 0.05)"/><use href="#g75" transform="translate(414.77 632.83) scale(0.05 0.05)"/><use href="#g159" transform="translate(424.32 632.83) scale(0.05 0.05)"/><use href="#g195" transform="translate(433.87 632.83) scale(0.05 0.05)"/></g><g role="img" aria-label="此役而有三個日軍師團打到"><use href="#g247" transform="translate(328.83 644.53) scale(0.05 0.05)"/><use href="#g248" transform="translate(338.38 644.53) scale(0.05 0.05)"/><use href="#g179" transform="translate(347.93 644.53) scale(0.05 0.05)"/><use href="#g249" transform="translate(357.48 644.53) scale(0.05 0.05)"/><use href="#g227" transform="translate(367.03 644.53) scale(0.05 0.05)"/><use href="#g145" transform="translate(376.58 644.53) scale(0.05 0.05)"/><use href="#g80" transform="translate(386.12 644.53) scale(0.05 0.05)"/><use href="#g81" transform="translate(395.67 644.53) scale(0.05 0.05)"/><use href="#g146" transform="translate(405.22 644.53) scale(0.05 0.05)"/><use href="#g147" transform="translate(414.77 644.53) scale(0.05 0.05)"/><use href="#g250" transform="translate(424.32 644.53) scale(0.05 0.05)"/><use href="#g127" transform="translate(433.87 644.53) scale(0.05 0.05)"/></g><g role="img" aria-label="失去繼續作戰能力的地步"><use href="#g181" transform="translate(328.83 655.23) scale(0.05 0.05)"/><use href="#g251" transform="translate(337.99 655.23) scale(0.05 0.05)"/><use href="#g190" transform="translate(347.16 655.23) scale(0.05 0.05)"/><use href="#g252" transform="translate(356.32 655.23) scale(0.05 0.05)"/><use href="#g207" transform="translate(365.49 655.23) scale(0.05 0.05)"/><use href="#g95" transform="translate(374.65 655.23) scale(0.05 0.05)"/><use href="#g253" transform="translate(383.81 655.23) scale(0.05 0.05)"/><use href="#g94" transform="translate(392.98 655.23) scale(0.05 0.05)"/><use href="#g106" transform="translate(402.14 655.23) scale(0.05 0.05)"/><use href="#g142" transform="translate(411.31 655.23) scale(0.05 0.05)"/><use href="#g191" transform="translate(420.47 655.23) scale(0.05 0.05)"/></g></g><g fill="#111" stroke="#111" stroke-width="0.35"><text transform="translate(84.3 38.86) scale(1.1 1)" font-family="Liberation Serif" font-weight="bold" font-size="9.6" textLength="27.82" lengthAdjust="spacing">10/12</text><text transform="translate(714.9 68.26) scale(1.1 1)" font-family="Liberation Serif" font-weight="bold" font-size="9.6" textLength="23" lengthAdjust="spacing">8/22</text><text transform="translate(254.3 265.66) scale(1.1 1)" font-family="Liberation Serif" font-weight="bold" font-size="9.6" textLength="57.27" lengthAdjust="spacing">1938/10/26</text><text transform="translate(494.2 268.46) scale(1.1 1)" font-family="Liberation Serif" font-weight="bold" font-size="9.6" textLength="22.27" lengthAdjust="spacing">8/27</text><text transform="translate(620 349.36) scale(1.1 1)" font-family="Liberation Serif" font-weight="bold" font-size="9.6" textLength="22.64" lengthAdjust="spacing">6/12</text><text transform="translate(441.4 333.06) scale(1.1 1)" font-family="Liberation Serif" font-weight="bold" font-size="9.6" textLength="17" lengthAdjust="spacing">9/6</text><text transform="translate(433.7 354.56) scale(1.1 1)" font-family="Liberation Serif" font-weight="bold" font-size="9.6" textLength="23" lengthAdjust="spacing">9/24</text><text transform="translate(617.4 416.06) scale(1.1 1)" font-family="Liberation Serif" font-weight="bold" font-size="9.6" textLength="45.18" lengthAdjust="spacing">1938/7/4</text><text transform="translate(510.3 488.66) scale(1.1 1)" font-family="Liberation Serif" font-weight="bold" font-size="9.6" textLength="22.64" lengthAdjust="spacing">7/22</text><text transform="translate(329.1 575.56) scale(1.1 1)" font-family="Liberation Serif" font-weight="bold" font-size="9.6" textLength="22.27" lengthAdjust="spacing">9/30</text><text transform="translate(329.1 630.66) scale(1.1 1)" font-family="Liberation Serif" font-weight="bold" font-size="9.6" textLength="11.73" lengthAdjust="spacing">14</text></g></svg></body></html>
